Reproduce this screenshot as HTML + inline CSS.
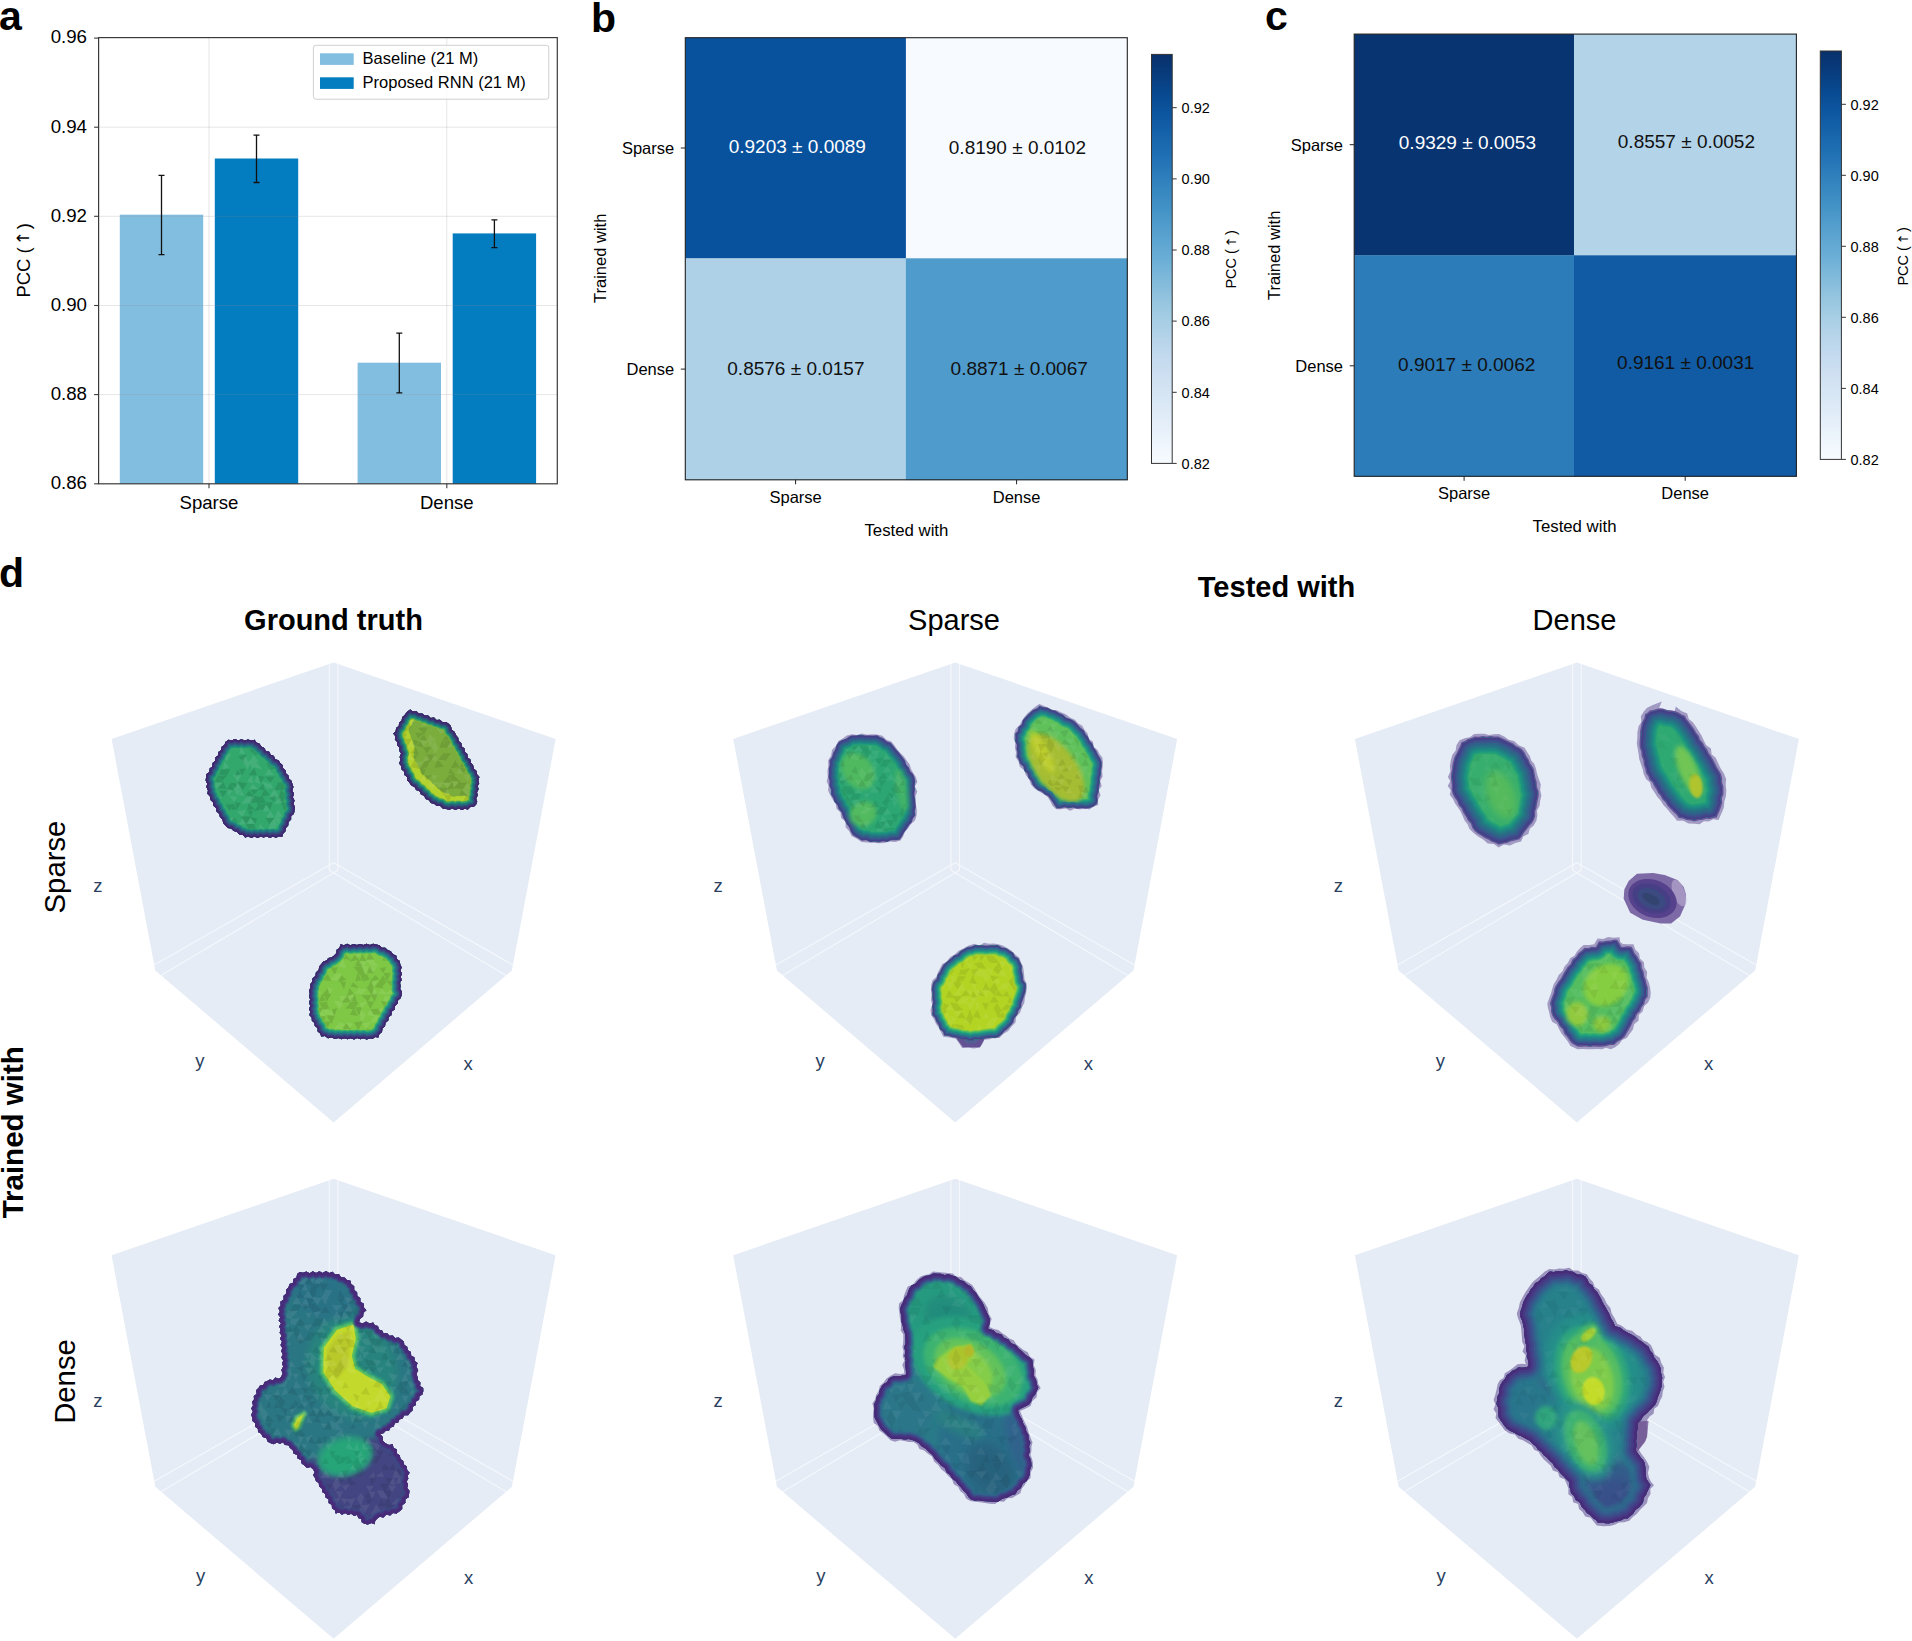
<!DOCTYPE html>
<html><head><meta charset="utf-8"><title>Figure</title>
<style>
html,body{margin:0;padding:0;background:#fff;}
svg{display:block;font-family:"Liberation Sans", sans-serif;}
</style></head><body>
<svg width="1912" height="1641" viewBox="0 0 1912 1641">
<text x="-1" y="29.5" font-size="41" text-anchor="start" font-weight="bold" fill="#000">a</text>
<text x="591" y="31.5" font-size="41" text-anchor="start" font-weight="bold" fill="#000">b</text>
<text x="1265" y="30" font-size="41" text-anchor="start" font-weight="bold" fill="#000">c</text>
<text x="-1" y="587" font-size="41" text-anchor="start" font-weight="bold" fill="#000">d</text>
<rect x="98.6" y="37.6" width="458.7" height="446.2" fill="#fff"/>
<rect x="119.8" y="214.7" width="83.4" height="269.1" fill="#82bedf"/>
<rect x="214.8" y="158.5" width="83.4" height="325.3" fill="#037cc0"/>
<rect x="357.6" y="362.7" width="83.4" height="121.1" fill="#82bedf"/>
<rect x="452.7" y="233.4" width="83.4" height="250.4" fill="#037cc0"/>
<line x1="98.6" x2="557.3" y1="394.6" y2="394.6" stroke="#8c8c8c" stroke-opacity="0.22" stroke-width="1"/>
<line x1="98.6" x2="557.3" y1="305.5" y2="305.5" stroke="#8c8c8c" stroke-opacity="0.22" stroke-width="1"/>
<line x1="98.6" x2="557.3" y1="216.3" y2="216.3" stroke="#8c8c8c" stroke-opacity="0.22" stroke-width="1"/>
<line x1="98.6" x2="557.3" y1="127.2" y2="127.2" stroke="#8c8c8c" stroke-opacity="0.22" stroke-width="1"/>
<line x1="209" x2="209" y1="37.6" y2="483.8" stroke="#8c8c8c" stroke-opacity="0.22" stroke-width="1"/>
<line x1="446.8" x2="446.8" y1="37.6" y2="483.8" stroke="#8c8c8c" stroke-opacity="0.22" stroke-width="1"/>
<path d="M161.5 175.3V254.7M158.5 175.3h6M158.5 254.7h6" stroke="#111" stroke-width="1.3" fill="none"/>
<path d="M256.5 135.2V182.5M253.5 135.2h6M253.5 182.5h6" stroke="#111" stroke-width="1.3" fill="none"/>
<path d="M399.3 333.1V392.9M396.3 333.1h6M396.3 392.9h6" stroke="#111" stroke-width="1.3" fill="none"/>
<path d="M494.4 219.9V247.6M491.4 219.9h6M491.4 247.6h6" stroke="#111" stroke-width="1.3" fill="none"/>
<rect x="98.6" y="37.6" width="458.7" height="446.2" fill="none" stroke="#3a3a3a" stroke-width="1.2"/>
<line x1="94.1" x2="98.6" y1="483.8" y2="483.8" stroke="#3a3a3a" stroke-width="1.1"/>
<text x="87" y="489.1" font-size="18.7" text-anchor="end" font-weight="normal" fill="#000">0.86</text>
<line x1="94.1" x2="98.6" y1="394.6" y2="394.6" stroke="#3a3a3a" stroke-width="1.1"/>
<text x="87" y="399.9" font-size="18.7" text-anchor="end" font-weight="normal" fill="#000">0.88</text>
<line x1="94.1" x2="98.6" y1="305.5" y2="305.5" stroke="#3a3a3a" stroke-width="1.1"/>
<text x="87" y="310.8" font-size="18.7" text-anchor="end" font-weight="normal" fill="#000">0.90</text>
<line x1="94.1" x2="98.6" y1="216.3" y2="216.3" stroke="#3a3a3a" stroke-width="1.1"/>
<text x="87" y="221.6" font-size="18.7" text-anchor="end" font-weight="normal" fill="#000">0.92</text>
<line x1="94.1" x2="98.6" y1="127.2" y2="127.2" stroke="#3a3a3a" stroke-width="1.1"/>
<text x="87" y="132.5" font-size="18.7" text-anchor="end" font-weight="normal" fill="#000">0.94</text>
<line x1="94.1" x2="98.6" y1="38.1" y2="38.1" stroke="#3a3a3a" stroke-width="1.1"/>
<text x="87" y="43.4" font-size="18.7" text-anchor="end" font-weight="normal" fill="#000">0.96</text>
<line x1="209" x2="209" y1="483.8" y2="488.3" stroke="#3a3a3a" stroke-width="1.1"/>
<text x="209" y="508.5" font-size="18.6" text-anchor="middle" font-weight="normal" fill="#000">Sparse</text>
<line x1="446.8" x2="446.8" y1="483.8" y2="488.3" stroke="#3a3a3a" stroke-width="1.1"/>
<text x="446.8" y="508.5" font-size="18.6" text-anchor="middle" font-weight="normal" fill="#000">Dense</text>
<text x="29.8" y="260.3" font-size="18.5" text-anchor="middle" font-weight="normal" fill="#000" transform="rotate(-90 29.8 260.3)">PCC (<tspan font-family="DejaVu Sans, sans-serif" font-size="17" dx="1.9" dy="-0.4">↑</tspan><tspan dx="1.9" dy="0.4">)</tspan></text>
<rect x="313.4" y="45.3" width="235.4" height="53.9" rx="2.5" fill="#fff" fill-opacity="0.8" stroke="#d0d0d0" stroke-width="1"/>
<rect x="320" y="53.3" width="33.7" height="11.6" fill="#82bedf"/>
<rect x="320" y="77.3" width="33.7" height="11.6" fill="#037cc0"/>
<text x="362.6" y="64.2" font-size="16.5" text-anchor="start" font-weight="normal" fill="#000">Baseline (21 M)</text>
<text x="362.6" y="88.2" font-size="16.5" text-anchor="start" font-weight="normal" fill="#000">Proposed RNN (21 M)</text>
<defs><linearGradient id="cb" x1="0" y1="1" x2="0" y2="0">
<stop offset="0%" stop-color="#f7fbff"/>
<stop offset="5%" stop-color="#eef5fc"/>
<stop offset="10%" stop-color="#e3eef9"/>
<stop offset="15%" stop-color="#d9e8f5"/>
<stop offset="20%" stop-color="#d0e1f2"/>
<stop offset="25%" stop-color="#c6dbef"/>
<stop offset="30%" stop-color="#b7d4ea"/>
<stop offset="35%" stop-color="#a6cee4"/>
<stop offset="40%" stop-color="#94c4df"/>
<stop offset="45%" stop-color="#7fb9da"/>
<stop offset="50%" stop-color="#6aaed6"/>
<stop offset="55%" stop-color="#5ba3d0"/>
<stop offset="60%" stop-color="#4a98c9"/>
<stop offset="65%" stop-color="#3b8bc2"/>
<stop offset="70%" stop-color="#2e7ebc"/>
<stop offset="75%" stop-color="#2070b4"/>
<stop offset="80%" stop-color="#1764ab"/>
<stop offset="85%" stop-color="#0d57a1"/>
<stop offset="90%" stop-color="#084a91"/>
<stop offset="95%" stop-color="#083c7d"/>
<stop offset="100%" stop-color="#08306b"/>
</linearGradient></defs>
<rect x="685.3" y="37.7" width="220.9" height="220.9" fill="#08519c"/>
<rect x="905.9" y="37.7" width="221.7" height="220.9" fill="#f7fbff"/>
<rect x="685.3" y="258.3" width="220.9" height="221.8" fill="#aed1e7"/>
<rect x="905.9" y="258.3" width="221.7" height="221.8" fill="#4f9bcb"/>
<rect x="685.3" y="37.7" width="442" height="442.1" fill="none" stroke="#222" stroke-width="1.1"/>
<text x="797.3" y="153.2" font-size="19" text-anchor="middle" font-weight="normal" fill="#fff">0.9203 ± 0.0089</text>
<text x="1017.4" y="153.6" font-size="19" text-anchor="middle" font-weight="normal" fill="#111">0.8190 ± 0.0102</text>
<text x="795.9" y="375.2" font-size="19" text-anchor="middle" font-weight="normal" fill="#111">0.8576 ± 0.0157</text>
<text x="1019.2" y="375.4" font-size="19" text-anchor="middle" font-weight="normal" fill="#111">0.8871 ± 0.0067</text>
<line x1="680.8" x2="685.3" y1="148" y2="148" stroke="#222" stroke-width="1"/>
<text x="674.2" y="153.8" font-size="16.5" text-anchor="end" font-weight="normal" fill="#000">Sparse</text>
<line x1="680.8" x2="685.3" y1="369.1" y2="369.1" stroke="#222" stroke-width="1"/>
<text x="674.2" y="374.9" font-size="16.5" text-anchor="end" font-weight="normal" fill="#000">Dense</text>
<line x1="795.6" x2="795.6" y1="479.8" y2="484.3" stroke="#222" stroke-width="1"/>
<text x="795.6" y="503.3" font-size="16.5" text-anchor="middle" font-weight="normal" fill="#000">Sparse</text>
<line x1="1016.6" x2="1016.6" y1="479.8" y2="484.3" stroke="#222" stroke-width="1"/>
<text x="1016.6" y="503.3" font-size="16.5" text-anchor="middle" font-weight="normal" fill="#000">Dense</text>
<text x="906.4" y="536" font-size="16.8" text-anchor="middle" font-weight="normal" fill="#000">Tested with</text>
<text x="605.8" y="258.3" font-size="16.5" text-anchor="middle" font-weight="normal" fill="#000" transform="rotate(-90 605.8 258.3)">Trained with</text>
<rect x="1151.5" y="54.4" width="20.7" height="409" fill="url(#cb)" stroke="#333" stroke-width="1"/>
<line x1="1172.2" x2="1176.7" y1="463.4" y2="463.4" stroke="#333" stroke-width="1"/>
<text x="1181.6" y="468.6" font-size="14.5" text-anchor="start" font-weight="normal" fill="#000">0.82</text>
<line x1="1172.2" x2="1176.7" y1="392.3" y2="392.3" stroke="#333" stroke-width="1"/>
<text x="1181.6" y="397.5" font-size="14.5" text-anchor="start" font-weight="normal" fill="#000">0.84</text>
<line x1="1172.2" x2="1176.7" y1="321.1" y2="321.1" stroke="#333" stroke-width="1"/>
<text x="1181.6" y="326.3" font-size="14.5" text-anchor="start" font-weight="normal" fill="#000">0.86</text>
<line x1="1172.2" x2="1176.7" y1="250" y2="250" stroke="#333" stroke-width="1"/>
<text x="1181.6" y="255.2" font-size="14.5" text-anchor="start" font-weight="normal" fill="#000">0.88</text>
<line x1="1172.2" x2="1176.7" y1="178.9" y2="178.9" stroke="#333" stroke-width="1"/>
<text x="1181.6" y="184.1" font-size="14.5" text-anchor="start" font-weight="normal" fill="#000">0.90</text>
<line x1="1172.2" x2="1176.7" y1="107.7" y2="107.7" stroke="#333" stroke-width="1"/>
<text x="1181.6" y="112.9" font-size="14.5" text-anchor="start" font-weight="normal" fill="#000">0.92</text>
<text x="1236.5" y="259.3" font-size="14.5" text-anchor="middle" font-weight="normal" fill="#000" transform="rotate(-90 1236.5 259.3)">PCC (<tspan font-family="DejaVu Sans, sans-serif" font-size="13.3" dx="1.5" dy="-0.3">↑</tspan><tspan dx="1.5" dy="0.3">)</tspan></text>
<rect x="1354.2" y="34.1" width="220.1" height="221.5" fill="#083471"/>
<rect x="1574" y="34.1" width="222.7" height="221.5" fill="#b3d3e8"/>
<rect x="1354.2" y="255.3" width="220.1" height="221.3" fill="#2c7cba"/>
<rect x="1574" y="255.3" width="222.7" height="221.3" fill="#105ba4"/>
<rect x="1354.2" y="34.1" width="442.2" height="442.2" fill="none" stroke="#222" stroke-width="1.1"/>
<text x="1467.4" y="149.2" font-size="19" text-anchor="middle" font-weight="normal" fill="#fff">0.9329 ± 0.0053</text>
<text x="1686.4" y="148.2" font-size="19" text-anchor="middle" font-weight="normal" fill="#111">0.8557 ± 0.0052</text>
<text x="1466.7" y="371" font-size="19" text-anchor="middle" font-weight="normal" fill="#111">0.9017 ± 0.0062</text>
<text x="1685.7" y="369.3" font-size="19" text-anchor="middle" font-weight="normal" fill="#111">0.9161 ± 0.0031</text>
<line x1="1349.7" x2="1354.2" y1="144.7" y2="144.7" stroke="#222" stroke-width="1"/>
<text x="1343" y="150.5" font-size="16.5" text-anchor="end" font-weight="normal" fill="#000">Sparse</text>
<line x1="1349.7" x2="1354.2" y1="365.8" y2="365.8" stroke="#222" stroke-width="1"/>
<text x="1343" y="371.6" font-size="16.5" text-anchor="end" font-weight="normal" fill="#000">Dense</text>
<line x1="1464.1" x2="1464.1" y1="476.3" y2="480.8" stroke="#222" stroke-width="1"/>
<text x="1464.1" y="499.3" font-size="16.5" text-anchor="middle" font-weight="normal" fill="#000">Sparse</text>
<line x1="1685.2" x2="1685.2" y1="476.3" y2="480.8" stroke="#222" stroke-width="1"/>
<text x="1685.2" y="499.3" font-size="16.5" text-anchor="middle" font-weight="normal" fill="#000">Dense</text>
<text x="1574.5" y="531.6" font-size="16.8" text-anchor="middle" font-weight="normal" fill="#000">Tested with</text>
<text x="1279.6" y="255.3" font-size="16.5" text-anchor="middle" font-weight="normal" fill="#000" transform="rotate(-90 1279.6 255.3)">Trained with</text>
<rect x="1820.3" y="51" width="21.1" height="408.4" fill="url(#cb)" stroke="#333" stroke-width="1"/>
<line x1="1841.4" x2="1845.9" y1="459.4" y2="459.4" stroke="#333" stroke-width="1"/>
<text x="1850.5" y="464.6" font-size="14.5" text-anchor="start" font-weight="normal" fill="#000">0.82</text>
<line x1="1841.4" x2="1845.9" y1="388.4" y2="388.4" stroke="#333" stroke-width="1"/>
<text x="1850.5" y="393.6" font-size="14.5" text-anchor="start" font-weight="normal" fill="#000">0.84</text>
<line x1="1841.4" x2="1845.9" y1="317.3" y2="317.3" stroke="#333" stroke-width="1"/>
<text x="1850.5" y="322.5" font-size="14.5" text-anchor="start" font-weight="normal" fill="#000">0.86</text>
<line x1="1841.4" x2="1845.9" y1="246.3" y2="246.3" stroke="#333" stroke-width="1"/>
<text x="1850.5" y="251.5" font-size="14.5" text-anchor="start" font-weight="normal" fill="#000">0.88</text>
<line x1="1841.4" x2="1845.9" y1="175.3" y2="175.3" stroke="#333" stroke-width="1"/>
<text x="1850.5" y="180.5" font-size="14.5" text-anchor="start" font-weight="normal" fill="#000">0.90</text>
<line x1="1841.4" x2="1845.9" y1="104.3" y2="104.3" stroke="#333" stroke-width="1"/>
<text x="1850.5" y="109.5" font-size="14.5" text-anchor="start" font-weight="normal" fill="#000">0.92</text>
<text x="1908.5" y="256.3" font-size="14.5" text-anchor="middle" font-weight="normal" fill="#000" transform="rotate(-90 1908.5 256.3)">PCC (<tspan font-family="DejaVu Sans, sans-serif" font-size="13.3" dx="1.5" dy="-0.3">↑</tspan><tspan dx="1.5" dy="0.3">)</tspan></text>
<text x="333.5" y="629.5" font-size="29" text-anchor="middle" font-weight="bold" fill="#000">Ground truth</text>
<text x="954" y="629.5" font-size="29" text-anchor="middle" font-weight="normal" fill="#000">Sparse</text>
<text x="1574.5" y="629.5" font-size="29" text-anchor="middle" font-weight="normal" fill="#000">Dense</text>
<text x="1276.5" y="596.5" font-size="29" text-anchor="middle" font-weight="bold" fill="#000">Tested with</text>
<text x="22.6" y="1132.3" font-size="29.5" text-anchor="middle" font-weight="bold" fill="#000" transform="rotate(-90 22.6 1132.3)">Trained with</text>
<text x="65" y="867" font-size="29.3" text-anchor="middle" font-weight="normal" fill="#000" transform="rotate(-90 65 867)">Sparse</text>
<text x="75.3" y="1381.5" font-size="29.3" text-anchor="middle" font-weight="normal" fill="#000" transform="rotate(-90 75.3 1381.5)">Dense</text>
<polygon points="333.6,662.4 555.6,739 511.9,970.5 333.6,1122.4 155.3,970.5 111.6,739" fill="#e5ecf6"/>
<path d="M329.3 663.9V870.3M333.6 862.7L154.2 964.9M337.9 870.3L161 975.4M337.9 663.9V870.3M333.6 862.7L513 964.9M329.3 870.3L506.2 975.4" stroke="#fff" stroke-opacity="0.6" stroke-width="1.2" fill="none"/>
<text x="97.8" y="892" font-size="18.5" text-anchor="middle" font-weight="normal" fill="#2a3f5f">z</text>
<text x="199.8" y="1067" font-size="18.5" text-anchor="middle" font-weight="normal" fill="#2a3f5f">y</text>
<text x="468" y="1069.6" font-size="18.5" text-anchor="middle" font-weight="normal" fill="#2a3f5f">x</text>
<polygon points="955.2,662.4 1177.2,739 1133.5,970.5 955.2,1122.4 776.9,970.5 733.2,739" fill="#e5ecf6"/>
<path d="M950.9 663.9V870.3M955.2 862.7L775.8 964.9M959.5 870.3L782.6 975.4M959.5 663.9V870.3M955.2 862.7L1134.6 964.9M950.9 870.3L1127.8 975.4" stroke="#fff" stroke-opacity="0.6" stroke-width="1.2" fill="none"/>
<text x="718.1" y="892" font-size="18.5" text-anchor="middle" font-weight="normal" fill="#2a3f5f">z</text>
<text x="820.1" y="1067" font-size="18.5" text-anchor="middle" font-weight="normal" fill="#2a3f5f">y</text>
<text x="1088.3" y="1069.6" font-size="18.5" text-anchor="middle" font-weight="normal" fill="#2a3f5f">x</text>
<polygon points="1576.9,662.4 1798.9,739 1755.2,970.5 1576.9,1122.4 1398.6,970.5 1354.9,739" fill="#e5ecf6"/>
<path d="M1572.6 663.9V870.3M1576.9 862.7L1397.5 964.9M1581.2 870.3L1404.3 975.4M1581.2 663.9V870.3M1576.9 862.7L1756.3 964.9M1572.6 870.3L1749.5 975.4" stroke="#fff" stroke-opacity="0.6" stroke-width="1.2" fill="none"/>
<text x="1338.3" y="892" font-size="18.5" text-anchor="middle" font-weight="normal" fill="#2a3f5f">z</text>
<text x="1440.3" y="1067" font-size="18.5" text-anchor="middle" font-weight="normal" fill="#2a3f5f">y</text>
<text x="1708.5" y="1069.6" font-size="18.5" text-anchor="middle" font-weight="normal" fill="#2a3f5f">x</text>
<polygon points="333.6,1178.7 555.6,1255.3 511.9,1486.8 333.6,1638.7 155.3,1486.8 111.6,1255.3" fill="#e5ecf6"/>
<path d="M329.3 1180.2V1386.6M333.6 1379L154.2 1481.2M337.9 1386.6L161 1491.7M337.9 1180.2V1386.6M333.6 1379L513 1481.2M329.3 1386.6L506.2 1491.7" stroke="#fff" stroke-opacity="0.6" stroke-width="1.2" fill="none"/>
<text x="97.8" y="1406.5" font-size="18.5" text-anchor="middle" font-weight="normal" fill="#2a3f5f">z</text>
<text x="200.5" y="1582.3" font-size="18.5" text-anchor="middle" font-weight="normal" fill="#2a3f5f">y</text>
<text x="468.5" y="1584" font-size="18.5" text-anchor="middle" font-weight="normal" fill="#2a3f5f">x</text>
<polygon points="955.2,1178.7 1177.2,1255.3 1133.5,1486.8 955.2,1638.7 776.9,1486.8 733.2,1255.3" fill="#e5ecf6"/>
<path d="M950.9 1180.2V1386.6M955.2 1379L775.8 1481.2M959.5 1386.6L782.6 1491.7M959.5 1180.2V1386.6M955.2 1379L1134.6 1481.2M950.9 1386.6L1127.8 1491.7" stroke="#fff" stroke-opacity="0.6" stroke-width="1.2" fill="none"/>
<text x="718.1" y="1406.5" font-size="18.5" text-anchor="middle" font-weight="normal" fill="#2a3f5f">z</text>
<text x="820.8" y="1582.3" font-size="18.5" text-anchor="middle" font-weight="normal" fill="#2a3f5f">y</text>
<text x="1088.8" y="1584" font-size="18.5" text-anchor="middle" font-weight="normal" fill="#2a3f5f">x</text>
<polygon points="1576.9,1178.7 1798.9,1255.3 1755.2,1486.8 1576.9,1638.7 1398.6,1486.8 1354.9,1255.3" fill="#e5ecf6"/>
<path d="M1572.6 1180.2V1386.6M1576.9 1379L1397.5 1481.2M1581.2 1386.6L1404.3 1491.7M1581.2 1180.2V1386.6M1576.9 1379L1756.3 1481.2M1572.6 1386.6L1749.5 1491.7" stroke="#fff" stroke-opacity="0.6" stroke-width="1.2" fill="none"/>
<text x="1338.3" y="1406.5" font-size="18.5" text-anchor="middle" font-weight="normal" fill="#2a3f5f">z</text>
<text x="1441" y="1582.3" font-size="18.5" text-anchor="middle" font-weight="normal" fill="#2a3f5f">y</text>
<text x="1709" y="1584" font-size="18.5" text-anchor="middle" font-weight="normal" fill="#2a3f5f">x</text>
<defs>
<filter id="b1" x="-30%" y="-30%" width="160%" height="160%"><feGaussianBlur stdDeviation="1.2"/></filter>
<filter id="b2" x="-30%" y="-30%" width="160%" height="160%"><feGaussianBlur stdDeviation="2.2"/></filter>
<filter id="b3" x="-30%" y="-30%" width="160%" height="160%"><feGaussianBlur stdDeviation="3.5"/></filter>
<filter id="b5" x="-30%" y="-30%" width="160%" height="160%"><feGaussianBlur stdDeviation="5.5"/></filter>
</defs>
<defs><path id="p1" d="M228.5 739.7L225.7 741.7L224.4 745L221.7 746.8L221.1 750L218.5 752.1L218.1 755.4L215.3 757.5L215.1 760.9L212.6 763.1L212.4 766.4L209.7 768.5L209.5 771.9L206.6 773.9L206.1 777.1L205.7 780.4L207.2 783.7L206.4 787.1L208 790.4L207.4 793.8L209.9 796.3L210.3 799.8L213 802.2L213.4 805.7L216.1 808L216.5 811.5L219.2 813.8L220 817.2L222.5 819.5L223.2 823L225.4 825.5L227.7 828L231.2 828.4L233.6 831L237 831.8L239.2 834.6L242.8 835L245.2 837.4L248.4 836.6L251.4 838.1L254.5 836.6L257.6 838L260.6 836.6L263.7 837.6L266.8 836.3L269.8 837.9L272.9 836.4L276 837.8L279 836.3L282.1 837.1L283 833.8L285.4 831.3L285.8 827.9L288.2 825.4L288.4 821.9L291.1 819.6L291.1 816L294 813.8L294.4 810.4L295 807.1L293.4 803.9L294.5 800.4L292.8 797.2L294 793.7L292.2 790.5L293.4 787L292.3 783.7L291.4 780.8L289 778.8L288.4 775.6L286 773.5L285.5 770.3L283 768.3L282.4 765.1L280.2 762.9L278.5 760.2L275.1 759.3L273.9 755.9L270.7 754.8L269.1 751.8L265.8 750.9L264.3 747.9L261.2 746.6L259.5 743.7L256.3 742.6L254.6 739.7L251.2 740.6L248 739.4L244.8 740.6L241.5 739.2L238.2 740.5L235 739.1L231.8 740.6Z"/><clipPath id="c1"><use href="#p1"/></clipPath></defs>
<use href="#p1" fill="#32a86d"/>
<g clip-path="url(#c1)" fill="none" stroke-linejoin="round"><use href="#p1" stroke="#1c8f7d" stroke-width="15"/><use href="#p1" stroke="#227781" stroke-width="12.5"/><use href="#p1" stroke="#2c5f81" stroke-width="10"/><use href="#p1" stroke="#36497e" stroke-width="7.5"/><use href="#p1" stroke="#3e3376" stroke-width="5"/><use href="#p1" stroke="#462371" stroke-width="2.5"/></g>
<path d="M242.5 748.6L251.2 749L250.8 748.5L250.8 748.5L250 748.5L249.2 748.3L248.5 748.1L248 747.9L247.6 748.1L246.9 748.3L246.1 748.5L245.4 748.6L244.6 748.6L243.9 748.5L243.1 748.4L242.5 748.3ZM249 749.2L252.8 753.4L254.8 751.4L254.6 751.2L254.2 750.5L254.1 750.2L253.7 750.1L253 749.8L252.3 749.4L251.6 749ZM253.3 754.5L258.8 754.8L258.6 754.4L258.4 754.1L258.1 754L257.4 753.7L256.8 753.3L256.2 752.8L255.6 752.3L255.1 751.8L255 751.7ZM242.9 762.6L246.8 754.6L238.4 756.1ZM266.3 762.7L268.9 768.3L270.7 765.9L270.3 765.7L269.7 765.2L269.2 764.6L268.7 764L268.3 763.4L267.9 762.7L267.8 762.5ZM269 769.6L275 769.1L275 769L274.4 768.4L273.9 767.8L273.4 767.1L273.4 767.1L273 767L272.3 766.8L271.6 766.4L271.4 766.3ZM218.9 774.6L227.2 776L221.2 768.9ZM226.5 776.2L230.3 769.2L220.7 769.3ZM235 776.7L240.6 774.1L237.1 769.7ZM242.2 775.5L245.7 768.3L238.8 769ZM248.5 775.3L257.1 775.5L254.5 767.7ZM221.6 782.1L217.6 776.2L215 781.8L215.1 782.4L215.1 782.7ZM222.1 781.2L227 776L216.9 775.6ZM260.4 783.7L264.6 776.8L258.7 775.7ZM270.2 782.7L275.1 776.4L265.4 776.7ZM218 788.5L226.6 788.8L222.8 781.1ZM226.2 790.3L234.3 790L230.8 782.4ZM235 788.6L237.8 783.6L230.8 782.7ZM242.5 790.2L247.3 783.2L236.7 781.5ZM258.1 789.4L264.5 790.3L263.2 783.3ZM273.3 790.8L281.8 789.6L278.1 783.1ZM276.8 783L282.9 790.8L284.7 786.2L284.7 786.1L284.5 785.4L283.7 784.8L283.2 784.3L282.7 783.7L282.2 783L281.8 782.4L281.7 782.1ZM280.6 790.1L284.3 789.5L284.3 789.5L284.4 788.7L284.7 787.9L285 787L284.7 786.2L284.7 786.1L284.5 785.4L283.7 784.8L283.3 784.4ZM222.9 797.3L227.3 790.7L219.1 790.2ZM245.3 795.3L255.3 797.8L249.3 790.4ZM254.4 794.9L258.4 789L250.4 790ZM261 796.8L270.2 795.1L264.6 789.1ZM280.7 789.8L279.1 796.4L285 795.4L285.2 794.7L285.3 794.5L285.2 794.2ZM249.9 803.2L257.1 802.4L252.5 795.1ZM258.1 804.6L261.1 797.1L252.5 795.5ZM257 804.7L266.1 802.6L261.9 795.4ZM274.1 802L276.4 794.9L268.9 797.6ZM277.1 796.6L282.4 804L284.9 798.1L284.9 797.8L284.8 797L284.9 796.2L285 795.8ZM229.3 811L234 804L225.7 804.8ZM231.2 809.9L236.9 809.5L233.7 803.4ZM236.6 810L240.9 802.9L235.1 801.9ZM247 810.7L255.1 809.2L248.5 803.2ZM253.9 811.5L260.7 809.5L259 803.9ZM262.5 810.8L266.6 803.5L257.8 804.6ZM270.5 810L272.6 802L265.1 802.7ZM281 802.5L284.7 811.1L285.1 810.6L285.7 810.1L285.8 810L286.6 808.7L286.7 808.4L286.2 807.4L285.9 806.7L285.6 806L285.5 805.2L285.4 804.5L285.4 803.7L285.4 802.9L285.5 802.4ZM251.3 816.2L253.2 810.4L247.3 811.6ZM238.3 822.8L234 816.8L231.5 820.3L231.6 820.4L232.2 820.5L233 820.6L233.8 820.9L234.6 821.2L235.3 821.5L236 822L236.6 822.5L236.9 822.8ZM246.9 824.9L250.7 816.3L240.5 816.6ZM255.2 824.1L257.4 818.6L249.7 817.1ZM269 823.9L275.3 818L265.2 817.5ZM255.3 823.9L246.4 823.9L247.8 828.7L248 828.7L248.7 828.7L249.5 828.7L250.2 828.9ZM253.2 823.6L250.6 829L251 829.1L251.3 829.2L251.6 829.1L252.4 828.8L253.2 828.7L254 828.6L254.8 828.6L255.6 828.6L256.4 828.8L256.4 828.8Z" fill="#000" fill-opacity="0.10"/>
<path d="M239.2 753.7L245.2 753.7L241.8 748L241.7 748L241.4 747.9L241.2 748L240.6 748.2ZM226.8 761.8L231.1 754L228 754L227.8 754.5L227.3 755.1L226.7 755.7L226.1 756.3L226 756.3L226 756.3L225.9 757.1L225.7 757.9L225.4 758.7L225.2 759.2ZM240.8 761L249.1 763.1L245.7 756.1ZM249.8 761.5L258.7 761.4L253.3 755ZM222.6 769.6L229.2 767.2L224.6 761.6ZM247.4 769.7L251.2 762.1L242.7 761.1ZM252.4 768.9L258.2 760.9L249 760.5ZM253.1 767.3L262.5 769.5L257.1 762.9ZM264.6 775.6L274.2 775L268.8 768.9ZM237.7 782L241.2 775.2L232.5 774.3ZM247.2 781.8L253.4 783.2L251.4 775.6ZM254.5 782.1L261 783.9L256.9 774.6ZM216.4 788.8L223.2 783.2L215 782L215.1 782.4L215.2 783.2L215.2 783.9L215.1 784.7L215.1 785.2ZM234.1 789.8L241.8 789.4L237.4 781.6ZM249.4 789.2L258.3 789.4L252.8 783.9ZM266.8 788.6L269.7 783.9L261.1 781.3ZM266.9 789L273.2 788.1L270 782.2ZM228.5 796.7L232.6 790.1L227.1 788.9ZM237.1 795.4L241.7 790.4L233.2 788.1ZM238.4 795.2L244.8 795.8L241.5 790.8ZM269 797.6L279.3 797.5L274.5 788.3ZM222.1 796.5L219.1 797L219.4 797.4L219.8 798.1L220.2 798.8L220.5 799.5ZM233.8 802.1L237.5 797.1L229.4 795.7ZM241 803.7L249.8 803.2L247.3 796.7ZM250.5 803.5L254.9 796.1L246.3 797.1ZM274.1 804.3L282.7 802.8L279.3 796.4ZM262.8 811.7L269.4 810.9L266 804.7ZM242.7 816.9L246 809.7L236.7 811.6ZM265.8 818.6L274.6 817.3L270 810.6ZM278.2 809.7L274.4 818.5L282.4 816.6L282.4 816.6ZM235.3 817.6L230.3 818L230.3 818L230.6 819.3L231.4 820.2L231.6 820.4L232 820.5ZM246 824.3L242.7 818.2L238.8 824L239.4 824.2L240.2 824.5L240.9 824.8L240.9 824.8ZM245.9 823.9L255.3 823.4L250.5 818.1ZM269.8 825L277.4 824.7L273.8 818.2ZM277.8 823.3L280.8 817.9L272.8 818.3ZM283 815.7L282.4 816.6L282.7 816.3L283.1 816L283.1 815.9ZM276.9 825.1L278.4 824.9L278.4 824.8L278.7 824.1L279.1 823.4L279.6 822.8L280.1 822.2L280.4 821.9L280.4 821.5L280.5 820.7L280.6 819.9L280.9 819.1L281.1 818.6ZM260.4 823.9L258.2 829L258.7 828.8L259.4 828.7L260.1 828.6L260.9 828.6L261.6 828.6L262.3 828.8L263.1 829L263.3 829L263.6 828.9L264.1 828.7ZM270.1 824.9L267.9 828.4L268.2 828.4L269 828.6L269.7 828.8L270 829L270.1 828.9L270.8 828.7L271.6 828.5L272.4 828.4L272.4 828.4ZM277.2 824.2L269.4 824.8L271.9 828.5L272.4 828.4L273.1 828.4L273.9 828.5L274.7 828.6L275.1 828.7Z" fill="#fff" fill-opacity="0.09"/>
<defs><path id="p2" d="M410.2 709.5L406.9 712.1L404.5 715.3L402.1 717.3L401.7 720.6L399.1 722.7L398.8 726L396.1 728L395.7 731.3L393.2 733.4L395.3 736.1L394.9 739.5L397.2 741.9L397.2 745.2L399.4 747.6L399.4 750.9L401.1 753.5L399.7 756.8L400.3 760.4L399.1 763.6L401.3 766L401.6 769.4L404.1 771.6L404.5 774.9L407.1 777L407.3 780.4L409.5 782.8L411.3 785.5L414.6 786.9L416.1 790.1L419.5 791.3L421 794.4L424.2 795.8L425.6 799.1L429 800.3L430.9 803.1L434.2 803.7L436.8 806L440.3 806L442.8 808.6L446.2 809L449.2 809.8L452.3 808.5L455.4 810L458.6 808.4L461.7 809.9L464.8 808.7L467.9 809.4L470.4 807.1L473.8 806.7L476.1 804.4L477.2 801.6L476.1 798.4L477.7 795.5L477 792.3L478.6 789.3L477.7 786.1L479.2 783.2L478.3 780L479.4 777L477.1 774.4L476.5 770.9L473.7 768.6L473.1 765.2L470.9 762.8L470.4 759.5L467.6 757.5L467.3 754.1L464.9 751.8L464.5 748.5L461.7 746.4L461.3 743.1L458.6 741L458.2 737.7L456 735.3L454.7 732L451.7 729.8L450.9 726.1L448.4 723.6L445.8 721.9L442.4 722.1L439.9 719.7L436.5 719.9L434 717.5L430.6 717.9L428.1 715.5L424.7 715.6L422.1 713.5L418.8 713.4L416.3 711.1L412.8 711.4Z"/><clipPath id="c2"><use href="#p2"/></clipPath></defs>
<use href="#p2" fill="#8cbc30"/>
<g clip-path="url(#c2)" fill="none" stroke-linejoin="round"><use href="#p2" stroke="#3ca560" stroke-width="15"/><use href="#p2" stroke="#1a8876" stroke-width="12.5"/><use href="#p2" stroke="#226b7a" stroke-width="10"/><use href="#p2" stroke="#2e5079" stroke-width="7.5"/><use href="#p2" stroke="#393572" stroke-width="5"/><use href="#p2" stroke="#462371" stroke-width="2.5"/></g>
<path d="M403.6 732.4L403.5 732.9L403.3 733.7L403.1 734.4L403.1 734.4L403.1 734.6L403.2 735.4L403.3 736.1L403.2 736.7L403.6 737.2L404.1 737.9L404.4 738.6L404.7 739.4L405 740.2L405.1 741L405.2 741.9L405.2 742.1L405.3 742.3L405.9 743L406.3 743.7L406.7 744.4L407 745.2L407.2 746L407.3 746.8L407.4 747.6L407.4 748.5L407.8 749.1L408.2 749.8L408.5 750.5L408.8 751.2L409 752L409.1 752.8L409.1 753.5L409.1 754.3L408.9 755.1L408.8 755.8L408.5 756.6L408 757.8L408.2 759L408.3 759.8L408.3 760.5L408.3 761.2L408.2 761.9L408.2 761.9L408.4 762.4L408.7 763.1L409 763.8L409.2 764.5L409.3 765.3L409.3 765.4L409.4 765.5L410 766.1L410.5 766.8L411 767.5L411.4 768.2L411.7 769L411.9 769.8L412.1 770.6L412.1 770.8L412.3 770.9L412.8 771.5L413.4 772.1L413.8 772.7L414.2 773.4L414.6 774.2L414.8 774.9L415 775.7L415.1 776.5L415.1 777.1L415.4 777.4L416.1 778.3L416.6 779.1L417.6 779.5L418.4 779.8L419.1 780.3L419.8 780.8L420.4 781.4L420.9 782L421.4 782.7L421.8 783.4L421.9 783.6L422.1 783.7L422.9 784L423.5 784.4L424.2 784.8L424.8 785.3L425.3 785.8L425.8 786.4L426.3 787.1L426.7 787.7L426.9 788.3L427.4 788.5L428.1 788.8L428.7 789.2L429.3 789.7L429.9 790.2L430.4 790.7L430.8 791.3L431.2 791.9L431.5 792.6L431.6 792.7L431.7 792.7L432.4 793L433 793.4L433.7 793.8L434.3 794.2L434.8 794.8L435.3 795.3L435.7 795.9L436.4 796L437.3 796.3L438 796.7L438.7 797.1L439.4 797.6L439.9 798L440.6 798.1L441.3 798.1L442.1 798.2L442.9 798.5L443.6 798.7L444.3 799.1L444.9 799.5L445.6 800L446.1 800.5L446.6 801L447.1 801.1L448.1 801.3L448.6 801.4L449.2 801.1L449.9 800.9L450.7 800.7L451.4 800.5L452.2 800.5L453 800.5L453.7 800.6L454.5 800.8L455.2 801L455.3 801.1L455.5 801L456.2 800.7L456.9 800.5L457.7 800.4L458.5 800.4L459.2 800.4L460 800.5L460.7 800.7L461.5 800.9L462.1 801.2L462.6 801L463.4 800.8L464.1 800.7L464.9 800.7L465.5 800.8L466.1 800.3L466.7 800L467.4 799.7L468.1 799.4L468.2 799.4L468.1 799.3L468.1 798.4L468.1 797.6L468.3 796.8L468.5 796L468.7 795.2L469.1 794.5L469.3 794.2L469.2 794L469.1 793.2L469 792.4L469.1 791.6L469.2 790.8L469.4 790L469.6 789.3L470 788.5L470 788.5L470 788.4L469.8 787.6L469.7 786.8L469.7 786.1L469.7 785.3L469.8 784.5L470 783.8L470.3 783.1L470.6 782.4L470.6 782.3L470.6 782.3L470.4 781.5L470.3 780.6L470.3 779.8L470.4 778.9L470.4 778.8L470.2 778.4L469.8 777.8L469.5 777.1L469.3 776.4L469.2 775.7L469.1 775.2L468.6 774.8L468 774.2L467.5 773.6L467 773L466.6 772.3L466.3 771.6L466.1 770.8L465.9 770L465.7 768.9L465.1 768.2L464.5 767.6L464.1 767L463.7 766.3L463.4 765.5L463.2 764.8L463 764L463 764L462.4 763.5L461.8 763L461.4 762.4L460.9 761.8L460.5 761.2L460.2 760.5L460 759.8L459.8 759.1L459.7 758.4L459.6 757.9L459.4 757.6L458.8 757.1L458.3 756.4L457.9 755.8L457.6 755.1L457.3 754.3L457.1 753.6L457 752.9L456.9 752.9L456.3 752.4L455.8 751.8L455.3 751.2L454.8 750.5L454.5 749.8L454.2 749.1L453.9 748.3L453.8 747.5L453.8 747.4L453.7 747.3L453.1 746.8L452.6 746.3L452.1 745.7L451.7 745L451.3 744.3L451 743.6L450.8 742.8L450.7 742.1L450.6 741.2L450.1 740.7L449.6 740.1L449.2 739.5L448.8 738.9L448.5 738.2L448.1 737.1L447 736.2L446.3 735.7L445.7 735.1L445.2 734.5L444.8 733.8L444.4 733L444.1 732.2L443.9 731.4L443.6 730.1L443.5 730L442.7 730.1L441.9 730L441.1 729.9L440.3 729.8L439.6 729.5L438.8 729.2L438.2 728.8L437.5 728.4L437 727.9L436.3 727.9L435.6 727.9L434.8 727.7L434.1 727.5L433.4 727.3L432.7 727L432.1 726.6L431.5 726.1L431.2 725.8L430.6 725.9L429.9 725.8L429.1 725.7L428.4 725.6L427.7 725.3L427 725L426.3 724.6L425.7 724.2L425.1 723.7L425 723.6L424.8 723.6L424 723.6L423.3 723.5L422.5 723.3L421.7 723L421 722.7L420.3 722.3L419.7 721.8L419.2 721.4L418.5 721.4L417.7 721.3L417 721.2L416.2 720.9L415.5 720.7L414.8 720.3L414.1 719.9L413.6 719.4L413.5 719.4L412.7 719.4L411.9 719.4L411.4 719.3L410.9 720.1L410.3 720.7L409.7 721.3L409.6 721.4L409.6 721.7L409.4 722.4L409.2 723.2L409 723.9L408.6 724.6L408.2 725.2L407.7 725.8L407.2 726.4L406.7 726.8L406.7 726.8L406.6 727.6L406.4 728.3L406.2 729L405.9 729.7L405.5 730.4L405.1 731L404.6 731.6L404 732.1Z" fill="#7aad3c"/>
<path d="M403.5 732.9L403.3 733.7L403.1 734.4L403.1 734.4L403.1 734.6L403.2 735.4L403.3 736.1L403.2 736.7L403.6 737.2L404.1 737.9L404.4 738.6L404.7 739.4L405 740.2L405.1 741L405.2 741.9L405.2 742.1L405.3 742.3L405.9 743L406.3 743.7L406.7 744.4L407 745.2L407.2 746L407.3 746.8L407.4 747.6L407.4 748.5L407.8 749.1L408.2 749.8L408.5 750.5L408.8 751.2L409 752L409.1 752.8L409.1 753.5L409.1 754.3L408.9 755.1L408.8 755.8L408.5 756.6L408 757.8L408.2 759L408.3 759.8L408.3 760.5L408.3 761.2L408.2 761.9L408.2 761.9L408.4 762.4L408.7 763.1L409 763.8L409.2 764.5L409.3 765.3L409.3 765.4L409.4 765.5L410 766.1L410.5 766.8L411 767.5L411.4 768.2L411.7 769L411.9 769.8L412.1 770.6L412.1 770.8L412.3 770.9L412.8 771.5L413.4 772.1L413.8 772.7L414.2 773.4L414.6 774.2L414.8 774.9L415 775.7L415.1 776.5L415.1 777.1L415.4 777.4L416.1 778.3L416.6 779.1L417.6 779.5L418.4 779.8L419.1 780.3L419.8 780.8L420.4 781.4L420.9 782L421.4 782.7L421.8 783.4L421.9 783.6L422.1 783.7L422.9 784L423.5 784.4L424.2 784.8L424.8 785.3L425.3 785.8L425.8 786.4L426.3 787.1L426.7 787.7L426.9 788.3L427.4 788.5L428.1 788.8L428.7 789.2L429.3 789.7L429.9 790.2L430.4 790.7L430.8 791.3L431.2 791.9L431.5 792.6L431.6 792.7L431.7 792.7L432.4 793L433 793.4L433.7 793.8L434.3 794.2L434.8 794.8L435.3 795.3L435.7 795.9L436.4 796L437.3 796.3L438 796.7L438.7 797.1L439.4 797.6L439.9 798L440.6 798.1L441.3 798.1L442.1 798.2L442.9 798.5L443.6 798.7L444.3 799.1L444.9 799.5L445.6 800L446.1 800.5L446.6 801L447.1 801.1L448.1 801.3L448.6 801.4L449.2 801.1L449.9 800.9L450.7 800.7L451.4 800.5L452.2 800.5L453 800.5L453.7 800.6L454.5 800.8L455.2 801L455.3 801.1L455.5 801L456.2 800.7L456.9 800.5L457.7 800.4L458.5 800.4L459.2 800.4L460 800.5L460.7 800.7L461.5 800.9L462.1 801.2L462.6 801L463.4 800.8L464.1 800.7L464.9 800.7L465.5 800.8L466.1 800.3L466.7 800L467.4 799.7L468.1 799.4L468.2 799.4L468.1 799.3L468.1 798.4L468.1 797.6L468.3 796.8L468.3 796.5L468.1 796.5L467.6 796.7L467 796.4L466.2 796.2L465.5 796L464.7 795.9L464 795.9L463.2 795.9L462.4 796L461.7 796.2L461 796.5L460.8 796.6L460.7 796.5L460 796.3L459.2 796.1L458.5 796L457.7 796L456.9 796L456.2 796.2L455.4 796.4L454.7 796.6L454.1 796.9L453.6 796.8L452.6 796.6L452.1 796.5L451.6 796L451.1 795.5L450.4 795L449.8 794.6L449.1 794.2L448.4 794L447.6 793.7L446.8 793.6L446.1 793.6L445.4 793.5L444.9 793.1L444.2 792.6L443.5 792.2L442.8 791.8L441.9 791.5L441.2 791.4L440.8 790.8L440.3 790.3L439.8 789.7L439.2 789.3L438.5 788.9L437.9 788.5L437.2 788.2L437.1 788.2L437 788.1L436.7 787.4L436.3 786.8L435.9 786.2L435.4 785.7L434.8 785.2L434.2 784.7L433.6 784.3L432.9 784L432.4 783.8L432.2 783.2L431.8 782.6L431.3 781.9L430.8 781.3L430.3 780.8L429.7 780.3L429 779.9L428.4 779.5L427.6 779.2L427.4 779.1L427.3 778.9L426.9 778.2L426.4 777.5L425.9 776.9L425.3 776.3L424.6 775.8L423.9 775.3L423.1 775L422.1 774.6L421.6 773.8L420.9 772.9L420.6 772.6L420.6 772L420.5 771.2L420.3 770.4L420.1 769.7L419.7 768.9L419.3 768.2L418.9 767.6L418.3 767L417.8 766.4L417.6 766.3L417.6 766.1L417.4 765.3L417.2 764.5L416.9 763.7L416.5 763L416 762.3L415.5 761.6L414.9 761L414.8 760.9L414.8 760.8L414.7 760L414.5 759.3L414.2 758.6L413.9 757.9L413.7 757.4L413.7 757.4L413.8 756.7L413.8 756L413.8 755.3L413.7 754.5L413.5 753.3L414 752.1L414.3 751.3L414.4 750.6L414.6 749.8L414.6 749L414.6 748.3L414.5 747.5L414.3 746.7L414 746L413.7 745.3L413.3 744.6L412.9 744L412.9 743.1L412.8 742.3L412.7 741.5L412.5 740.7L412.2 739.9L411.8 739.2L411.4 738.5L410.8 737.8L410.7 737.6L410.7 737.4L410.6 736.5L410.5 735.7L410.2 734.9L409.9 734.1L409.6 733.4L409.1 732.7L408.7 732.2L408.8 731.6L408.7 730.9L408.6 730.1L408.6 729.9L408.6 729.9L408.8 729.2L409 728.4L409.1 727.9L409.5 727.6L410.1 727.1L410.6 726.5L411 725.9L411.4 725.2L411.7 724.5L411.9 723.8L412.1 723.1L412.2 722.3L412.2 722.3L412.7 721.9L413.2 721.3L413.7 720.7L414.1 720.1L414.2 719.9L414.1 719.9L413.6 719.4L413.5 719.4L412.7 719.4L411.9 719.4L411.4 719.3L410.9 720.1L410.3 720.7L409.7 721.3L409.6 721.4L409.6 721.7L409.4 722.4L409.2 723.2L409 723.9L408.6 724.6L408.2 725.2L407.7 725.8L407.2 726.4L406.7 726.8L406.7 726.8L406.6 727.6L406.4 728.3L406.2 729L405.9 729.7L405.5 730.4L405.1 731L404.6 731.6L404 732.1L403.6 732.4Z" fill="#b5d42c" fill-opacity="0.95"/>
<path d="M411.3 727.1L409.1 723.7L409 723.9L408.6 724.6L408.2 725.2L407.7 725.8L407.2 726.4L407.1 726.4ZM406.5 733.8L404.9 731.1L404.6 731.6L404 732.1L403.6 732.4L403.5 732.9L403.3 733.7L403.2 733.9ZM406.2 731.9L412.6 725.9L407 726.5L406.7 726.8L406.7 726.8L406.6 727.6L406.4 728.3L406.2 729L405.9 729.7L405.5 730.4L405.2 730.7ZM424.2 734.3L427.7 727.4L417.8 727.7ZM407.4 734.3L403.1 734.1L403.1 734.4L403.1 734.4L403.1 734.6L403.2 735.4L403.3 736.1L403.2 736.7L403.6 737.2L404.1 737.9L404.3 738.3ZM418 738.6L423.9 732.9L415.5 732.8ZM419.6 740.2L426.5 740.8L423.8 734.3ZM442.3 740.1L449.2 739.5L448.8 738.9L448.5 738.2L448.1 737.1L447 736.2L446.3 735.7L446.2 735.6ZM407.6 745.7L412.1 738.7L404.4 738.6L404.4 738.6L404.7 739.4L405 740.2L405 740.3ZM415.3 746.2L418.8 741.3L412.3 739.3ZM416.5 746.1L424.5 747.5L420.3 740.7ZM439.7 747.9L447.1 747.6L442.1 740ZM443.8 740.1L446.7 748.5L450.8 742.7L450.7 742.1L450.6 741.2L450.1 740.7L449.9 740.5ZM410.5 753.1L419.1 754.8L415.4 746.8ZM426.9 753.7L431.8 746.5L423.3 747.8ZM414.9 759.5L418 755.1L411.6 755.3ZM429.8 762L436.4 754L425.6 754.7ZM438.5 759.7L446.8 760.6L443.5 752.7ZM446.3 759.7L450.9 753L441.9 753.7ZM410.8 767L419.3 768.9L414.3 759.9ZM420.3 769L426 767.2L424.5 762.1ZM426.2 769.3L430.3 759.6L424.2 761.8ZM434.6 767.7L443.9 766.8L437.6 759.4ZM451 768.2L459.4 767.1L455.3 760.1ZM460 767.6L464.1 767L464.1 767L463.7 766.3L463.4 765.5L463.2 764.8L463 764L463 764L462.4 763.5L461.8 763L461.6 762.7ZM423 776L425.9 769.2L419.1 767.4ZM448.3 773.3L454.3 774L450.3 768.4ZM458.4 767.6L463.5 773.6L465.8 769.5L465.7 768.9L465.1 768.2L464.8 767.9ZM426.5 780.5L432.2 774.9L423.7 775.7ZM442.5 783L450.8 783.1L448.4 776ZM451.6 780.4L455.2 773.6L447.9 775.5ZM449.6 780.6L459.7 781.4L454 775ZM447.2 789.4L454.4 788.3L452.5 780.4ZM453.9 787.9L463.7 789.3L459.5 780.2ZM462 788.9L467.4 782.4L459 782.7ZM444.3 795.7L448.3 788.1L437.8 787.6ZM459.3 794.9L466.9 794.9L461.8 789.8ZM452 794.5L443.9 794.3L447.4 801.1L448.1 801.3L448.6 801.4L449.2 801.1L449.4 801ZM466.4 794.7L463.3 800.9L463.4 800.8L464.1 800.7L464.9 800.7L465.5 800.8L466.1 800.3L466.7 800L467.4 799.7L468.1 799.4L468.2 799.4L468.1 799.3L468.1 798.4L468.1 797.6L468.2 797Z" fill="#000" fill-opacity="0.09"/>
<path d="M411.9 725.6L414.9 720.7L411.2 719.6L410.9 720.1L410.3 720.7L409.7 721.3ZM420.2 726.7L427.6 725.7L427.2 725.1L427 725L426.3 724.6L425.7 724.2L425.1 723.7L425 723.6L424.8 723.6L424 723.6L423.3 723.5L422.5 723.3L422.4 723.2ZM440.2 733.3L441.9 730L441.9 730L441.1 729.9L440.3 729.8L439.6 729.5L438.8 729.2L438.2 728.8L437.5 728.4L437 727.9L436.6 727.9ZM439.8 733.9L444.1 732.3L444.1 732.2L443.9 731.4L443.6 730.1L443.5 730L442.7 730.1L441.9 730L441.1 729.9L440.7 729.8ZM427.6 739.6L436.4 741L429.8 734ZM407.9 748.3L416.2 746.7L411.1 739.9ZM423.4 747.2L428.2 740.5L419 740.1ZM430.4 748.2L433.7 739.3L427 739.6ZM430.7 747.5L437.9 746.8L434.6 740.6ZM450.3 741.4L446.6 748.1L452.9 746.7L452.6 746.3L452.1 745.7L451.7 745L451.3 744.3L451 743.6L450.8 742.8L450.7 742.1L450.6 741.8ZM435.9 754L438.6 746.5L431.6 747.3ZM413.6 760L409.6 753.6L408.8 755.5L408.8 755.8L408.5 756.6L408 757.8L408.2 759L408.3 759.8L408.3 760.3ZM422.1 761.4L429.9 760.2L427.3 754.4ZM431.4 760.4L438.3 760.9L433.9 752.7ZM418.6 768L423.2 762.1L415.9 761.3ZM456.4 773.8L463.9 773.7L459.6 767.6ZM426.8 781L424.4 774.5L419.8 780.8L420.4 781.4L420.4 781.4ZM433.6 780.5L438.5 775.3L431.5 775.3ZM463.1 774.7L468.1 781.6L469.5 776.9L469.3 776.4L469.2 775.7L469.1 775.2L468.6 774.8L468.6 774.7ZM432.5 789.9L436.5 782L427.7 782.7ZM439.5 788.7L443.6 782.2L435.3 782.3ZM447.5 787.7L452.2 782.4L441.6 782ZM453.7 788.3L459.3 782.1L451.5 781ZM467.4 782.3L464 789.6L469.8 789L470 788.5L470 788.5L470 788.4L469.8 787.6L469.7 786.8L469.7 786.1ZM442.8 794.8L451 795L446.8 788.2ZM461.8 789L467.4 796.4L469.2 793.5L469.1 793.2L469 792.4L469.1 791.6L469.2 790.8L469.4 790L469.5 789.8ZM466.8 794.1L468.2 797.2L468.3 796.8L468.5 796L468.7 795.2L469.1 794.5Z" fill="#fff" fill-opacity="0.08"/>
<defs><path id="p3" d="M340.6 944.3L339.5 947.7L336.7 949.8L336.3 953.3L333.9 955.7L331.4 957.5L328.3 958L326.5 960.6L323.3 961.5L321.4 963.9L319.2 966.5L318.7 970.1L315.9 972.4L315.5 976L312.6 978.3L312.2 981.9L309.9 984.4L310.6 987.5L309 990.4L309.8 993.4L309 996.5L310.2 999.6L308.9 1002.7L310.3 1005.8L309 1008.9L310.3 1012L309.3 1015.1L311.7 1017.4L311.9 1020.7L314.4 1022.8L314.8 1026L317.6 1028L317.7 1031.4L320.3 1033.4L321.2 1036.4L324.9 1036.1L328 1038.3L331.7 1037.6L335 1039L338.2 1038.1L341.3 1039.3L344.5 1038.2L347.7 1039.3L350.8 1038.2L354 1039.4L357.1 1038.1L360.3 1039.3L363.5 1038.2L366.6 1039.5L369.8 1038.6L372.7 1038.8L375.3 1037.1L378.3 1037.4L379.4 1034.1L382 1031.9L382.4 1028.4L385 1026.2L385.5 1022.7L388.3 1020.6L388.6 1017.1L391.6 1015.1L391.7 1011.4L394.6 1009.4L395.1 1005.9L397.6 1003.6L398.1 1000.2L400.8 998L401.6 994.8L402 991.8L400.1 989L400.6 985.9L400 982.8L401.7 979.9L400.7 976.7L402 973.7L400.6 970.7L401.6 967.3L400.2 964.3L399.7 961.1L396.9 959L396.3 955.7L393 954.2L390.8 951.3L387.6 949.9L385.2 947.7L381.8 947.7L379.5 945.3L376.3 944.6L373.1 943.8L369.9 945L366.6 943.8L363.4 945.1L360.1 944L356.9 945.1L353.6 944L350.4 945.3L347.1 943.8L343.9 945.2Z"/><clipPath id="c3"><use href="#p3"/></clipPath></defs>
<use href="#p3" fill="#7ec845"/>
<g clip-path="url(#c3)" fill="none" stroke-linejoin="round"><use href="#p3" stroke="#35ae70" stroke-width="17"/><use href="#p3" stroke="#1d8f82" stroke-width="14.2"/><use href="#p3" stroke="#277286" stroke-width="11.3"/><use href="#p3" stroke="#335584" stroke-width="8.5"/><use href="#p3" stroke="#3f397c" stroke-width="5.7"/><use href="#p3" stroke="#462371" stroke-width="2.8"/></g>
<path d="M350.7 959.7L345.7 954.2L345.7 954.2L345.2 954.7L345 955.3L344.8 956.1L344.5 956.9L344.2 957.7L343.7 958.4L343.4 958.9ZM349.3 961.4L359.1 959.7L355.5 954.6ZM359.8 960.5L366.6 961.3L362.4 954L362.3 954L362.1 954ZM366.3 959.8L374.4 959.4L370.1 954L369.3 954L369.1 954ZM382.4 960.8L386.8 960.7L386.5 960.4L385.9 959.7L385 958.6L383.8 958.1L383.5 957.9ZM354.9 965.8L362.8 966.3L358.6 958.7ZM334.8 975.2L337.7 967.5L332.6 967.2L332.1 967.6L331.4 968.1L331.1 968.3ZM358.5 972.7L362.4 965.7L353.2 966.9ZM357.9 974.2L365.3 975L361.9 965.8ZM367.4 973.2L374.4 973.3L369.5 966.2ZM383.5 973L386.4 966.9L379.5 968.5ZM331.5 980.9L327.7 973.9L324.2 977.8L324.2 978L324 978.8L323.7 979.6L323.3 980.3ZM337.7 981.4L346.6 980L341.8 975.5ZM355.3 981.5L361.4 980.2L357.7 972.6ZM362.6 981.6L367.3 974.4L359.6 972.8ZM363.3 981.7L369.6 979.6L366.8 974.6ZM369.9 981.2L379.1 979.6L375.6 974.9ZM379.5 981.7L386.9 980.4L382.8 975.3ZM387.4 981.3L390.6 972.8L383.4 973ZM343.9 989.3L346.2 982.3L339.5 980.6ZM350.4 986.5L359.2 988.1L353 982.2ZM367.3 988.3L373.9 986.7L371.1 979.8ZM374.8 987.2L383.6 988.5L379.8 980.2ZM381.9 986.8L387.2 981.4L379.6 980.6ZM386.6 981.5L391.4 986.4L391.5 986.1L391.1 984.5L391 983.6L391 982.7L391 981.7L391.2 980.8L391.3 980.5ZM321.2 996.1L329.1 995.1L327.7 988.5ZM347.4 996.2L353.9 993.5L349.2 987.7ZM371.9 995.9L373.7 986.7L366.2 986.7ZM325.8 1000.4L321.9 994.2L319.1 1001.2L319 1001.5L318.9 1002ZM326.7 1001.6L331.5 993.9L323.5 993.9ZM341.1 1003L350.2 1001.9L347.6 994.7ZM350 1000.8L357.1 1002.5L355 994.1ZM367.8 1001.6L371.8 995.2L361.2 995ZM374.7 1002.2L377.8 993.4L370.7 994.3ZM322.9 1009.7L327.7 1001.7L319.1 1002.8ZM323 1009.8L329.3 1008.5L326.3 1002.1ZM345.2 1008.4L355.3 1009.3L350.3 1003.1ZM354.2 1008.7L358.8 1002.3L349 1001.4ZM370.5 1008.7L374 1001.7L366.4 1001.1ZM381 1000.8L384 1006.9L384.1 1006.7L384.6 1006L385.2 1005.3L385.8 1004.7L386.2 1004.3L386.3 1003.9L386.6 1003L386.9 1002.2L387 1001.9ZM322.9 1008L319.1 1007.7L318.9 1008.5L318.7 1008.9L318.9 1009.3L319.1 1010.2L319.2 1011.2L319.3 1012.1L319.2 1012.5L319.4 1012.8L319.8 1013.5ZM334.3 1016.5L337.2 1008.1L331.7 1009.7ZM349.9 1014.8L357.8 1016L353.6 1007.3ZM359.1 1015.7L362 1007.2L354.8 1007.3ZM374.4 1015.6L379.8 1008.4L369.7 1009.2ZM377.7 1008.5L375.7 1014.5L380 1014.5L380.3 1013.7L380.6 1012.9L380.8 1012.7ZM325.7 1016.6L320.5 1015.6L320.6 1015.9L320.6 1016.3L320.8 1016.5L321.4 1017.1L321.9 1017.8L322.3 1018.5L322.7 1019.3L323 1020.1L323.2 1020.9L323.2 1021L323.3 1021.1L323.9 1021.5ZM331.6 1023.9L334.8 1015.6L326.5 1015.6ZM330.9 1021.2L323.7 1021.4L324 1021.6L324.5 1022.3L325 1022.9L325.5 1023.7L325.8 1024.4L326.1 1025.2L326.3 1026L326.5 1026.8L326.5 1026.9L326.9 1027.4L327.7 1027.6L327.7 1027.6ZM346.4 1023.5L342.8 1028.8L349.1 1029.4L349.5 1029.3L350.4 1029.3L351 1029.3ZM363.1 1021.1L353.8 1022.4L358 1029.2L358.5 1029.2L359 1029.3ZM366.2 1028.6L366.8 1029.8L366.9 1029.9L367.2 1030L367.4 1029.9L368.1 1029.8L368.9 1029.7L369.7 1029.6L370.3 1029.6L370.3 1029.6L371.1 1029.1L371.2 1029.1Z" fill="#000" fill-opacity="0.10"/>
<path d="M357.1 958.8L360.8 953.7L360.6 953.6L360.1 953.5L359.7 953.6L358.9 953.8L358.1 954L357.3 954L356.4 954L355.6 954L354.8 953.8L354.8 953.8ZM338.4 967.1L346.3 967.7L342.9 959.4L342.6 959.7L342.1 960.2ZM362.6 968.2L367.1 961.2L358.3 961.2ZM371.9 967.1L374.6 959.4L365.3 959.7ZM371.8 966L379.4 966.5L373 960.2ZM365.2 974.7L369.4 966.2L361.7 965.7ZM373 973.2L377.1 966.7L369.1 967.6ZM329.8 979.5L337 981.3L335.3 974.7ZM337.4 981L341.9 973.3L333 973.5ZM373.3 987L378.1 980.7L370.5 982.3ZM321.3 993.7L319.3 989.7L319.1 990.4L318.8 991.1L318.6 991.6L318.6 992L318.7 992.9L318.7 993.8L318.7 994.2ZM330.1 994.1L333 989.3L327.4 986.7ZM354 993.5L362.9 993.9L359.7 987.4ZM361.8 995L367 989.1L357.5 987.8ZM371.9 995.1L378.2 995.5L374.4 987.7ZM378 993.9L387.7 994.4L382 988.9ZM385.6 993.7L391.7 993.9L392.3 993.4L392.2 993.4L391.9 992.6L391.6 991.8L391.3 991L391.2 990.2L391.1 989.3L391.1 989ZM341.7 1002L347.9 996.3L338.8 995.7ZM351.5 1003.1L354.6 994.4L347 996ZM385 995.1L383.3 1001.2L387.2 1001.7L387.3 1001.4L387.8 1000.6L388.4 999.9L388.5 999.8ZM386.7 995.8L388.9 999.4L389 999.3L389.2 999.1L389.2 998.9L389.4 998L389.7 997.1L390 996.3L390.3 995.9ZM339.8 1009.8L343.8 1001.8L333.7 1000.4ZM361.6 1008.4L367.7 1001.3L359.2 1003ZM326 1016.4L321.4 1009.9L319.8 1013.6L320.1 1014.3L320.4 1015.1L320.6 1015.9L320.6 1016.3L320.8 1016.5L320.9 1016.6ZM325.6 1015.1L329.7 1010.1L321.5 1009.1ZM325.6 1014.4L335.1 1016L331.2 1009.5ZM359.2 1016L366.3 1015.3L361.1 1009.6ZM367 1015L375 1016.4L370.5 1008.3ZM378.3 1008.5L380.4 1013.4L380.6 1012.9L381.1 1012.2L381.6 1011.5L382.2 1010.8L382.8 1010.3L382.8 1010.2L382.8 1010.2L383 1009.3L383.3 1008.4L383.3 1008.2ZM362.2 1023.1L365.1 1015L359.7 1016.7ZM373.3 1016.7L370 1023.6L376.2 1021.8L376.6 1021.5L376.7 1020.7L377 1019.8L377 1019.7ZM373.3 1014.3L376.4 1021.7L376.6 1021.5L376.7 1020.7L377 1019.8L377.3 1019L377.7 1018.2L378.2 1017.4L378.7 1016.8L379.1 1016.3ZM343.4 1028.9L339.2 1023.2L333.3 1028.7L333.6 1028.8L333.9 1028.8ZM341.9 1028.1L345.1 1023.9L337.1 1021.4ZM349 1028.5L353.4 1024L346.2 1022ZM365.7 1028.9L370.8 1022.3L362.4 1022.9ZM349.5 1028.8L342 1029.1L342.3 1029.5L342.4 1029.4L343.2 1029.3L344.1 1029.2L345 1029.2L345.9 1029.3L346.7 1029.5L347.6 1029.7L347.7 1029.8L347.9 1029.7L348.7 1029.5L349.3 1029.4Z" fill="#fff" fill-opacity="0.09"/>
<path d="M851.9 734.2L846.9 735.6L842.7 738.4L838.4 741L836.1 745.8L832 749.9L831.1 755.5L828.2 760.2L828.3 765.9L827.4 771.4L827.8 777L826.7 781.6L828.6 785.8L828.1 790.4L830.1 794.7L832.5 799.2L835.6 803.3L836.6 808.7L840.5 812.4L841.1 818L845.6 821.4L845.6 827.2L849.3 831.2L851.5 835.9L856.8 838.7L861.6 842L867.5 842.6L873.1 842.7L878.7 843.2L884.2 842.9L889.5 841.4L895 841.9L900.5 840.4L903.1 836.4L904.9 831.7L908.4 828.1L910.9 823.9L915 820.6L916.6 815.6L916.9 810.7L916.1 805.9L915.8 801.1L915.4 796.3L917.3 791.4L914.9 786.6L917.3 781.8L915.8 776.9L913.3 772.9L911 768.9L909.6 764.3L906.6 760.6L904.1 756.7L900.6 753.2L897.3 749.6L894.5 745.5L891.4 741.6L886.3 739.7L882.4 735.7L876.9 734.5L872 734.2L867 734.7L861.9 733.4L856.9 735.1Z" fill="#6a5799" fill-opacity="0.55"/>
<path d="M852.1 735.2L848.8 736.5L845.9 738.7L845.8 738.8L845.7 738.8L845.7 738.8L845.6 738.8L842 739.9L839 741.6L836.5 744.8L835.3 749L835.3 749L835.3 749.1L835.3 749.2L833.1 752.8L831.9 757L831.9 757.1L831.9 757.1L831.8 757.2L831.8 757.3L829.3 760.5L829.6 764.4L829.6 764.5L829.6 764.6L829.6 764.7L828.6 768.7L828.9 772.8L828.9 772.9L828.9 773L828.3 777L829.4 781.1L829.4 781.2L829.4 781.3L829.4 781.4L829.1 785.7L830.9 789.8L831 789.8L831 789.9L831 790L831 790.1L831 790.1L830.8 794.4L833 797.8L833 797.8L833 797.9L833.1 798L834.2 801.9L837.1 805L837.2 805L837.2 805.1L837.2 805.1L837.3 805.2L837.3 805.3L838.6 809.2L841.3 812.3L841.4 812.4L841.4 812.5L841.5 812.5L841.5 812.6L842.7 816.7L844.6 820.4L844.6 820.4L846.4 824.1L849.1 827.4L849.1 827.4L849.2 827.5L849.2 827.6L850.6 831.5L852.7 834.9L855.7 836.9L859 838.8L859 838.9L862 840.8L866.1 840.3L866.2 840.3L866.2 840.3L866.3 840.3L866.4 840.4L866.5 840.4L866.5 840.4L870.4 842.3L874.4 841.8L874.5 841.8L874.5 841.8L874.6 841.8L878.7 842.4L882.9 841.6L882.9 841.6L883 841.6L883.1 841.6L887.3 842L891.3 840.2L891.4 840.2L891.5 840.2L891.6 840.2L891.6 840.2L896 840.2L899.9 839.8L902 836.6L904 832.9L904.1 832.8L906.5 829.4L908.7 825.8L908.8 825.7L908.8 825.6L911.7 822.7L912.9 818.7L913 818.6L913 818.5L913 818.5L913.1 818.4L915.5 815.3L914.9 811.3L914.9 811.3L914.9 811.2L914.9 811.1L914.9 811L916 806.9L915.4 802.8L915.4 802.7L915.1 798.5L914.5 794.2L914.5 794.2L914.5 794.1L914.5 794L915 789.8L914.8 785.6L914.8 785.5L914.8 785.5L915.3 781.3L914.6 777.2L913.2 773.9L910.4 771.3L910.3 771.2L910.3 771.2L910.2 771.1L910.2 771L910.2 771L908.9 767.4L906.3 764.6L906.3 764.5L906.3 764.5L906.2 764.4L906.2 764.3L906.2 764.3L905.2 760.5L902.9 757.5L900.6 754.4L898.1 751.5L895.5 748.5L895.5 748.5L893.1 745.4L890.7 742.6L887.1 741.4L887 741.4L886.9 741.4L886.8 741.3L886.8 741.3L883.8 738.6L880.2 737.1L880.1 737L876.9 735.1L872.9 735.5L872.8 735.5L872.8 735.5L868.6 735.2L864.4 735.2L864.4 735.2L860.3 734.7L856.2 735.2L856.1 735.2Z" fill="#533f89" fill-opacity="0.80"/>
<defs><path id="p4" d="M852.2 736L849.2 737.2L846.3 739.4L846.2 739.4L846.1 739.5L846 739.6L845.8 739.6L842.4 740.6L839.5 742.2L837.2 745.2L836.1 749.2L836.1 749.3L836 749.4L835.9 749.6L833.9 753.1L832.7 757.2L832.7 757.4L832.6 757.5L832.5 757.6L832.4 757.8L830.1 760.8L830.4 764.4L830.4 764.6L830.4 764.7L830.4 764.9L829.4 768.8L829.7 772.7L829.7 772.9L829.7 773.1L829.1 776.9L830.2 780.9L830.2 781.1L830.2 781.3L830.2 781.5L829.9 785.6L831.7 789.4L831.7 789.6L831.8 789.7L831.8 789.9L831.8 790L831.8 790.2L831.6 794.2L833.6 797.3L833.7 797.5L833.8 797.6L833.8 797.8L834.9 801.5L837.7 804.4L837.8 804.5L837.9 804.6L837.9 804.8L838 804.9L838 805L839.3 808.8L841.9 811.8L842 811.9L842.1 812.1L842.2 812.2L842.3 812.4L843.5 816.4L845.3 820L845.3 820.1L847.1 823.7L849.7 826.9L849.8 827L849.9 827.2L849.9 827.3L851.3 831.2L853.3 834.4L856.1 836.2L859.4 838.1L859.4 838.2L862.2 840L866 839.5L866.1 839.5L866.3 839.5L866.4 839.6L866.6 839.6L866.7 839.6L866.9 839.7L870.5 841.5L874.3 841L874.4 841L874.6 841L874.7 841L878.7 841.5L882.7 840.8L882.9 840.8L883 840.8L883.2 840.8L887.2 841.2L891 839.5L891.2 839.4L891.3 839.4L891.5 839.4L891.6 839.4L896 839.4L899.5 839L901.3 836.2L903.3 832.5L903.4 832.4L905.8 828.9L908 825.4L908.1 825.2L908.2 825.1L911 822.3L912.2 818.4L912.2 818.3L912.3 818.1L912.4 818L912.4 817.9L914.6 815.1L914.1 811.5L914.1 811.3L914.1 811.2L914.1 811L914.2 810.8L915.1 806.8L914.6 802.9L914.6 802.8L914.3 798.6L913.7 794.3L913.7 794.2L913.7 794.1L913.7 793.9L914.2 789.8L914 785.7L914 785.5L914 785.4L914.5 781.3L913.8 777.5L912.5 774.4L909.8 771.9L909.7 771.8L909.6 771.6L909.5 771.5L909.5 771.4L909.4 771.2L908.2 767.8L905.8 765.1L905.7 765L905.6 764.9L905.5 764.7L905.4 764.6L905.4 764.5L904.4 760.9L902.3 758L900 755L897.5 752L894.9 749L894.9 749L892.5 745.9L890.3 743.3L886.8 742.2L886.7 742.1L886.5 742.1L886.4 742L886.2 741.9L883.3 739.3L879.9 737.8L879.7 737.7L876.7 736L873 736.3L872.8 736.3L872.7 736.3L868.6 736L864.4 736L864.3 736L860.3 735.5L856.2 736L856.1 736Z"/><clipPath id="c4"><use href="#p4"/></clipPath></defs>
<use href="#p4" fill="#2ca773"/>
<g clip-path="url(#c4)" fill="none" stroke-linejoin="round"><use href="#p4" stroke="#1f9a7c" stroke-width="18"/><use href="#p4" stroke="#1d8d81" stroke-width="15.8"/><use href="#p4" stroke="#217f84" stroke-width="13.5"/><use href="#p4" stroke="#267184" stroke-width="11.2"/><use href="#p4" stroke="#2d6788" stroke-width="9"/><use href="#p4" stroke="#355b8b" stroke-width="6.8"/><use href="#p4" stroke="#3e4d8b" stroke-width="4.5"/><use href="#p4" stroke="#473d88" stroke-width="2.2"/></g>
<path d="M870.3 762.4L868.3 759.9L866.1 757.8L863.7 755.9L861.2 754.4L858.6 753.3L855.9 752.7L853.4 752.5L850.9 752.8L848.6 753.5L846.5 754.6L844.7 756.2L843.3 758.1L842.2 760.3L841.5 762.8L841.2 765.5L841.3 768.3L841.8 771.2L842.8 774.1L844.1 776.9L845.7 779.6L847.7 782.1L849.9 784.2L852.3 786.1L854.8 787.6L857.4 788.7L860.1 789.3L862.6 789.5L865.1 789.2L867.4 788.5L869.5 787.4L871.3 785.8L872.7 783.9L873.8 781.7L874.5 779.2L874.8 776.5L874.7 773.7L874.2 770.8L873.2 767.9L871.9 765.1Z" fill="#5cbf58" fill-opacity="0.75" filter="url(#b2)"/>
<path d="M875.1 807L874 805.5L872.7 804.1L871.1 803L869.3 802.2L867.3 801.7L865.3 801.5L863.2 801.6L861 802L859 802.6L857 803.6L855.2 804.8L853.5 806.3L852.1 807.9L851 809.7L850.2 811.6L849.7 813.6L849.5 815.5L849.6 817.4L850.1 819.3L850.9 821L852 822.5L853.3 823.9L854.9 825L856.7 825.8L858.7 826.3L860.7 826.5L862.8 826.4L865 826L867 825.4L869 824.4L870.8 823.2L872.5 821.7L873.9 820.1L875 818.3L875.8 816.4L876.3 814.4L876.5 812.5L876.4 810.6L875.9 808.7Z" fill="#62c257" fill-opacity="0.70" filter="url(#b2)"/>
<path d="M907.9 789L907.2 785.6L906.4 782.3L905.5 779.2L904.5 776.4L903.5 773.9L902.4 771.9L901.3 770.2L900.2 769.1L899.2 768.4L898.2 768.3L897.3 768.8L896.5 769.7L895.9 771.2L895.4 773.1L895.1 775.4L895 778.1L895 781.1L895.2 784.3L895.6 787.6L896.1 791L896.8 794.4L897.6 797.7L898.5 800.8L899.5 803.6L900.5 806.1L901.6 808.1L902.7 809.8L903.8 810.9L904.8 811.6L905.8 811.7L906.7 811.2L907.5 810.3L908.1 808.8L908.6 806.9L908.9 804.6L909 801.9L909 798.9L908.8 795.7L908.4 792.4Z" fill="#55bd5c" fill-opacity="0.50" filter="url(#b2)"/>
<path d="M853.7 750.7L858.9 745.2L857.2 745.4L856.8 745.4L856.7 745.4L856.2 745.5L854.1 745.5L853.9 745.6L852.1 746.9L852 747ZM858.9 745.3L862.5 750.9L866.5 745.5L864.4 745.5L863.9 745.5L863.7 745.5L863.2 745.4L860.3 745.1ZM861.4 753.1L870.5 752.2L867.3 745.5L866.3 745.5ZM849.3 759.4L855.8 751.7L845.6 751.2ZM858.7 760.2L866.6 757.5L862 752.7ZM866.6 758.9L871.9 750.9L862.4 750.8ZM840.2 765.8L845.4 767.2L842.7 759.5ZM879.2 764.6L883.2 757.5L874.9 759.1ZM879.8 766.2L887.5 766.9L884.1 758ZM882.3 759.1L885.5 766.7L891.8 759.9L891.5 759.7ZM889.4 759.4L894.5 764.7L894.9 764L894.7 763.7L892.6 760.9L891.3 759.4ZM851.1 772.5L857.8 773.9L855.8 766.1ZM842 774.3L839.2 773.4L839.2 773.8L839.2 774L839.1 774.6L838.8 776.4L839.3 778.5ZM845.8 779.4L853.5 780.5L851.2 774.1ZM863.8 780.9L870.5 780.9L867.3 772.6ZM870.7 779.6L875.1 771.8L866.4 772.7ZM878.4 779.7L887 778.6L883.8 771.9ZM898.3 773.7L901.8 781.1L903.3 778.8L903 778.5L902.9 778.4L902.3 777.7L902.2 777.6L901.7 776.8L901.6 776.7L901.1 775.9L901 775.8L900.6 774.9L900.6 774.8L900.4 774.3L900.2 773.7ZM842.6 785.5L846.6 779.4L839.7 780.6L839.7 781.5L839.7 781.7L839.7 782.2L839.7 782.4ZM857.5 786L866.2 787.3L862.1 779.1ZM881.3 787.3L886.6 780.4L878.3 779.4ZM892.3 788.1L897.5 787L896 780.8ZM904.4 779.8L903.8 779.3L899.3 785.3L904.5 785.5L904.5 784.7L904.5 784.6L904.6 784.1L904.9 781.7ZM846.9 794.6L842.1 786.8L841.3 789.8L841.3 790L841.3 790.2L841.3 790.6L841.3 791.6L841.6 792.2L841.9 792.6L842 792.7L842.4 793.6L842.4 793.7L842.8 794.6L842.8 794.6ZM845.3 792.9L852.1 786.6L842.6 786ZM845.6 793.9L856 794.8L851 785.6ZM880 794.6L881.8 787.2L874.8 786.8ZM894 793.7L899.2 786L890.4 788ZM894.2 792.8L901.7 793.2L898.5 786.2ZM902.4 793L904.2 793.2L904.3 792.7L904.7 789.8ZM846.1 793.8L842.3 793.4L842.4 793.6L842.4 793.7L842.8 794.6L842.8 794.7L843 795.1L843.4 796.7L844.5 797.8ZM850.3 800.4L846.9 795L845.3 798.7L845.5 798.9L845.5 799L846 799.7L846.1 799.9L846.5 800.6L846.5 800.7L846.7 801.1ZM849.5 800.9L859.2 799.1L853.4 792.3ZM857.5 800.8L861.3 794.5L855.1 793.3ZM883.2 801.7L890 801.9L888.1 794.2ZM892 799.3L894.5 794.5L887.5 792.3ZM849.4 800.8L846.7 801.1L846.9 801.5L846.9 801.6L847.1 802L847.7 804L848.3 804.7ZM855.4 807.6L850.5 801.2L848.6 805L849.1 805.6L849.4 806L849.5 806.1L850.1 806.9L850.2 807.1L850.6 807.8ZM863.4 807.1L866.5 799.6L857.7 801.8ZM870.2 807.4L879.6 806.7L875.7 800.2ZM886.4 807L889.7 799.6L881.6 802ZM901.9 806.5L905.4 806.7L905.5 806.3L905.2 804.1L905.2 803.8L905.2 803.7L905.1 803.7ZM855.1 807.6L850.4 807.5L850.7 807.9L850.7 808.1L851.1 809L851.2 809.2L851.4 809.7L852.1 812ZM874.1 813.9L881.7 815.1L879.8 808.2ZM881.7 815.6L888.1 807.1L879.5 807ZM901.5 807.1L899.4 815.4L903.7 814.2L904.1 813.4L904.1 813.3L904.6 812.5L904.7 812.4L904.7 812.4L904.7 812.2L904.6 811.3L904.6 811.1L904.7 810.2L904.7 810.1ZM860.3 815.8L853.5 815.3L853.8 815.8L853.8 815.8L853.8 815.8L853.8 815.8L855.1 818.5L855.7 819.2ZM863.1 822.2L858.9 815L856 819.6L857 820.9L857.4 821.3L857.5 821.4L857.5 821.5ZM895.7 822.8L898.7 814.1L890.7 813.8ZM899.7 813.3L901.7 818.2L902.6 817.3L903.1 815.7L903.2 815.3L903.3 815.1L903.6 814.3L903.7 814.2L903.7 814.1ZM865.7 827.5L863.7 821.7L859.8 826.6L860 827.1L860.3 827.6L861.1 828.1L861.7 828.5ZM874.5 827.9L882.4 828.4L877.6 819.9ZM883.2 827.4L886.7 821.5L879.2 821.9ZM891 826.9L894.6 820.2L886.1 820ZM892.2 828.2L881.6 829.3L883.7 831.3L884 831.3L885.6 831.5L887.2 830.8L887.7 830.6L887.8 830.5L888.7 830.2L888.9 830.2L889.9 830L890 830L891 829.9L891.2 829.9L891.2 829.9ZM890.8 827.9L891.7 829.9L893.9 829.9L894.9 828Z" fill="#000" fill-opacity="0.07"/>
<path d="M847 752.7L849.5 748.4L849 748.6L848.9 748.6L848.4 748.7L846 749.4L845.9 749.5L845.9 749.5L845.8 749.8ZM853.6 750.9L862.4 751.5L859.6 745.3ZM869.7 752.3L872.7 745.8L872.6 745.8L872.4 745.8L872.1 745.8L868.2 745.5L867.9 745.5ZM849.9 758.5L858.9 760.2L853.5 752.6ZM868.2 760.1L876.1 759.1L869.4 753.2ZM876.1 759.4L879.5 750.6L870 750.6ZM883 760.1L889.4 759.8L886.5 753.7L886.2 753.3ZM871.9 764.5L879.1 765.4L874 759.9ZM842.7 772L839.6 767L839.6 767.2L839 769.6L839.2 771.9L839.2 772.2ZM858.6 772.7L865.8 773.5L861.7 767ZM866.3 774.2L875.6 773.1L871.9 764.6ZM874.8 773.2L877.5 764.8L872 766.8ZM882.3 772.9L891.2 771.8L887.2 765.9ZM846.8 780.6L843.7 772.7L839.6 780L839.7 780.3L839.7 780.5L839.7 781.2ZM862.1 780.4L866.5 772.5L858.3 772.9ZM870.3 779.9L878.7 780.5L875.3 771.8ZM886.7 780.7L895 780.2L890.5 773ZM894.3 780.8L903 781.1L898.7 772.3ZM858.3 786.7L861.9 780.2L855.1 779.6ZM865.5 786.4L874.4 788.2L869.5 778.5ZM893.6 781.2L899 786.4L903.8 779.2L903.5 778.9ZM903 779L904.6 783.7L904.9 781.6L904.6 780.2L904.5 779.9L903.7 779.1ZM853.8 793.4L862.6 793.1L858.1 788ZM869.5 792.8L880 792.5L874.1 785.6ZM866.3 799.1L870.3 792.9L863.4 793.6ZM890.7 799.7L897.7 801.4L893.8 794.4ZM901.7 793.4L904.4 796.3L904.3 795.7L904.3 795.3L904.2 795.1L904.2 794.3L904.2 794.1L904.2 793.3L904.2 793.2ZM856.2 807.2L858.5 799.7L851.4 799.4ZM855 807.6L862.6 807.1L858.8 800ZM894.7 808L898.2 799.3L891.5 799.1ZM860 813.7L867.1 813.8L864.2 808.8ZM865.9 813.4L872 808.8L864.3 806ZM883.1 815.8L891.7 814.2L887.5 807.9ZM880 822.8L886.8 819.9L882.2 815.6ZM867.6 828.7L869.8 820.5L862.6 822.4ZM883 826.8L889.7 826.8L885.7 820ZM884 828.6L876 828.8L877.9 831.9L878.4 831.9L881 831.5L881.4 831.4L881.6 831.4L882.4 831.3L882.6 831.3L882.6 831.3ZM883.1 827.2L880.9 831.5L881 831.5L881.4 831.4L881.6 831.4L882.4 831.3L882.6 831.3L883.5 831.3L883.6 831.3L884 831.3L885.2 831.4Z" fill="#fff" fill-opacity="0.06"/>
<path d="M1039.4 704.1L1035.6 706.5L1032.5 709.1L1028.1 712.7L1024.4 717L1021.8 721L1019.6 725.3L1015.8 728.8L1014.1 733.5L1013.7 738.3L1015.4 742.8L1014.9 747.6L1016 752.2L1015.6 757L1018.5 761.4L1019.8 766.8L1024.3 770.2L1025.9 775.3L1029.3 779.4L1031 784.5L1034.5 788.6L1038.9 791.3L1043.4 794L1047.6 797.1L1050.3 801.3L1052.4 805.8L1056.3 809.2L1060.9 809.2L1065.6 808.6L1070.4 810.8L1075.2 808.3L1080 809.6L1084.7 808L1089.5 809.4L1093.4 806.4L1098.2 805L1098 799.8L1100.6 795.3L1098.7 790.3L1101.7 785.9L1100.2 780.9L1102.6 776.4L1102.1 771.5L1102.7 766.8L1102.9 762L1102.3 757.5L1099.5 753.9L1097.5 750L1093.6 746.9L1093 741.7L1088.6 738.8L1087.8 733.7L1084.6 730.1L1082.3 725.7L1078 723.3L1074.9 719.7L1069.9 717.6L1065.8 714.2L1060.9 712.2L1056.1 709.9L1051.5 710L1047.7 707.6L1043.6 705.7Z" fill="#6a5799" fill-opacity="0.55"/>
<path d="M1039.5 705.5L1037 708.2L1036.9 708.2L1036.8 708.3L1036.7 708.3L1036.7 708.3L1032.9 709.8L1030.3 712.2L1027.5 714.7L1025 717.5L1025 717.5L1022.5 720.2L1021.7 724L1021.7 724.1L1021.6 724.2L1021.6 724.3L1021.6 724.3L1021.5 724.4L1021.4 724.5L1021.4 724.5L1018.3 726.8L1017.7 730.7L1017.7 730.8L1017.7 730.8L1017.6 730.9L1017.6 731L1017.6 731.1L1017.5 731.1L1015 733.8L1015.2 737.4L1015.2 737.4L1015.2 737.5L1014.8 741.2L1016.6 744.8L1016.6 744.8L1016.6 744.9L1016.7 745L1016.7 745.1L1016.7 745.1L1016.7 745.2L1016.3 749L1017.3 752.7L1017.3 752.8L1017.3 752.9L1017.3 753L1017.3 753.1L1016.7 756.7L1018.7 760L1018.7 760.1L1018.7 760.2L1019.9 763.9L1023.1 766.6L1023.1 766.6L1023.2 766.7L1023.2 766.8L1023.3 766.8L1023.3 766.9L1023.3 767L1023.4 767.1L1024.1 771L1027.1 773.7L1027.2 773.7L1027.2 773.8L1027.3 773.8L1027.3 773.9L1027.4 774L1027.4 774L1027.4 774.1L1028.2 778.1L1030.9 781L1031 781.1L1031 781.1L1031.1 781.2L1031.1 781.3L1032.5 785L1035.1 788L1037.9 790.4L1041.6 791.7L1041.6 791.7L1041.7 791.8L1041.8 791.8L1041.8 791.9L1044.7 794.6L1048.1 796.3L1048.2 796.4L1048.2 796.4L1048.3 796.5L1048.3 796.5L1048.4 796.6L1050.5 799.6L1052.7 802.6L1052.7 802.6L1054.7 805.7L1056.5 808.4L1060.2 808.6L1064.3 807.6L1064.3 807.6L1064.4 807.6L1064.5 807.6L1064.6 807.6L1068.6 808.3L1072.7 807.7L1072.8 807.7L1072.9 807.7L1072.9 807.8L1073 807.8L1077 808.9L1081 808.2L1081.1 808.2L1081.2 808.2L1081.2 808.2L1081.3 808.2L1085.3 808.9L1089.3 808.3L1093.6 806.8L1097.1 804L1098 800.3L1097.4 796.1L1097.4 796L1097.4 796L1097.4 795.9L1097.5 795.8L1097.5 795.7L1098.9 791.7L1099 787.5L1099 787.5L1099.1 787.4L1100 783.3L1100 779L1100 779L1100 778.9L1100 778.8L1101.1 774.7L1101.1 770.5L1101.1 770.4L1101.1 770.3L1102 766.2L1101.9 762.1L1100.5 758.4L1098.1 754.8L1098.1 754.7L1098 754.6L1096.4 750.7L1094.1 747.6L1094.1 747.5L1094 747.4L1094 747.4L1092.7 743.7L1090 741L1089.9 740.9L1089.9 740.8L1089.9 740.8L1089.8 740.7L1088.4 737.1L1085.9 734.2L1085.8 734.1L1085.8 734.1L1085.7 734L1084.1 730.6L1080.5 727.6L1080.5 727.5L1080.4 727.5L1077.3 724L1074 720.8L1070.5 718.9L1066.5 717.6L1066.4 717.6L1066.3 717.6L1066.3 717.5L1066.2 717.5L1066.2 717.4L1063.1 714.5L1059.4 713L1059.3 713L1059.3 712.9L1055.8 710.7L1051.7 709.6L1051.6 709.6L1051.5 709.6L1051.5 709.6L1047.7 707.5L1043.4 707L1043.3 707L1043.2 707L1043.1 707Z" fill="#533f89" fill-opacity="0.80"/>
<defs><path id="p5" d="M1039.7 706.5L1037.5 708.7L1037.4 708.8L1037.3 708.9L1037.1 709L1037 709.1L1033.4 710.5L1030.8 712.8L1028.1 715.3L1025.6 718L1025.6 718L1023.2 720.6L1022.5 724.2L1022.4 724.4L1022.4 724.5L1022.3 724.7L1022.2 724.8L1022.1 724.9L1022 725.1L1021.9 725.2L1019 727.3L1018.5 730.8L1018.5 731L1018.4 731.1L1018.4 731.3L1018.3 731.4L1018.2 731.5L1018.1 731.7L1015.8 734.1L1016 737.3L1016 737.4L1016 737.6L1015.6 741.1L1017.3 744.4L1017.4 744.6L1017.4 744.7L1017.4 744.8L1017.5 745L1017.5 745.1L1017.5 745.3L1017.1 749L1018 752.5L1018.1 752.7L1018.1 752.9L1018.1 753L1018.1 753.2L1017.5 756.6L1019.4 759.6L1019.4 759.8L1019.5 759.9L1020.6 763.5L1023.6 766L1023.7 766.1L1023.8 766.2L1023.9 766.3L1024 766.5L1024.1 766.6L1024.1 766.8L1024.1 766.9L1024.8 770.6L1027.7 773.1L1027.8 773.2L1027.9 773.3L1028 773.4L1028 773.5L1028.1 773.7L1028.1 773.8L1028.2 773.9L1029 777.7L1031.5 780.5L1031.6 780.6L1031.7 780.7L1031.8 780.8L1031.9 781L1033.2 784.6L1035.6 787.4L1038.3 789.7L1041.8 790.9L1042 791L1042.1 791.1L1042.3 791.2L1042.4 791.3L1045.1 793.9L1048.5 795.6L1048.6 795.7L1048.7 795.8L1048.8 795.9L1049 796L1049 796.1L1051.2 799.1L1053.3 802.1L1053.4 802.2L1055.4 805.3L1057 807.6L1060.1 807.8L1064.1 806.8L1064.2 806.8L1064.4 806.8L1064.6 806.8L1064.7 806.8L1068.7 807.5L1072.6 807L1072.7 806.9L1072.9 806.9L1073.1 807L1073.2 807L1077.1 808L1080.9 807.4L1081 807.4L1081.2 807.4L1081.3 807.4L1081.4 807.4L1085.3 808.1L1089.1 807.5L1093.2 806L1096.4 803.5L1097.2 800.3L1096.6 796.2L1096.6 796.1L1096.6 795.9L1096.7 795.8L1096.7 795.6L1096.7 795.5L1098.1 791.6L1098.2 787.5L1098.3 787.3L1098.3 787.2L1099.2 783.2L1099.2 779L1099.2 778.9L1099.2 778.7L1099.2 778.6L1100.3 774.6L1100.3 770.5L1100.3 770.4L1100.3 770.2L1101.2 766.2L1101.1 762.3L1099.8 758.7L1097.4 755.2L1097.4 755.1L1097.3 754.9L1095.7 751.1L1093.5 748.1L1093.4 747.9L1093.3 747.8L1093.2 747.6L1092 744.1L1089.4 741.5L1089.3 741.4L1089.2 741.3L1089.1 741.1L1089.1 741L1087.7 737.5L1085.3 734.7L1085.2 734.6L1085.1 734.5L1085 734.3L1083.4 731.1L1080 728.2L1079.9 728.1L1079.8 728L1076.7 724.5L1073.5 721.5L1070.2 719.6L1066.2 718.4L1066.1 718.3L1066 718.3L1065.8 718.2L1065.7 718.1L1065.6 718L1062.7 715.2L1059.1 713.7L1059 713.7L1058.8 713.6L1055.5 711.5L1051.5 710.4L1051.3 710.4L1051.2 710.3L1051.1 710.3L1047.4 708.3L1043.3 707.8L1043.1 707.8L1043 707.8L1042.8 707.7Z"/><clipPath id="c5"><use href="#p5"/></clipPath></defs>
<use href="#p5" fill="#5ec15a"/>
<g clip-path="url(#c5)" fill="none" stroke-linejoin="round"><use href="#p5" stroke="#3ab26e" stroke-width="18"/><use href="#p5" stroke="#23a27c" stroke-width="15.8"/><use href="#p5" stroke="#1d9183" stroke-width="13.5"/><use href="#p5" stroke="#228187" stroke-width="11.2"/><use href="#p5" stroke="#29738a" stroke-width="9"/><use href="#p5" stroke="#32638d" stroke-width="6.8"/><use href="#p5" stroke="#3d518d" stroke-width="4.5"/><use href="#p5" stroke="#473d88" stroke-width="2.2"/></g>
<defs><path id="p6" d="M1041 712.3L1040.9 712.4L1040.8 712.5L1040.4 712.9L1040.2 713L1039.8 713.3L1039.6 713.3L1039.2 713.6L1039 713.7L1038.7 713.8L1036 714.8L1034.2 716.5L1031.7 718.8L1029.3 721.4L1029.3 721.4L1029.3 721.4L1029.3 721.4L1027.8 723L1027.4 725.2L1027.3 725.5L1027.3 725.7L1027.1 726.1L1027 726.3L1026.8 726.8L1026.8 726.9L1026.5 727.4L1026.4 727.5L1026.1 727.9L1026 728.1L1025.7 728.5L1025.5 728.6L1025.2 728.9L1025 729L1024.8 729.2L1023.7 730L1023.4 731.5L1023.4 731.8L1023.4 731.9L1023.3 732.4L1023.2 732.6L1023 733L1023 733.2L1022.8 733.6L1022.7 733.8L1022.4 734.2L1022.3 734.3L1022 734.7L1021.9 734.9L1021.8 735.1L1021 735.9L1021 737L1021 737.2L1021 737.4L1021 737.8L1021 738L1021 738.2L1020.8 740.2L1021.8 742.2L1021.9 742.4L1021.9 742.5L1022.1 743L1022.1 743.1L1022.3 743.6L1022.3 743.7L1022.4 744.2L1022.4 744.3L1022.5 744.8L1022.5 744.9L1022.5 745.4L1022.5 745.5L1022.4 745.8L1022.2 748.6L1022.9 751.3L1022.9 751.5L1023 751.7L1023 752.2L1023.1 752.4L1023.1 752.9L1023.1 753L1023.1 753.5L1023 753.7L1023 754L1022.8 755.6L1023.6 757L1023.8 757.3L1023.9 757.4L1024.1 758L1024.2 758.1L1024.3 758.4L1025 760.6L1026.8 762.1L1027 762.3L1027.1 762.4L1027.5 762.8L1027.6 762.9L1027.9 763.3L1028 763.4L1028.2 763.8L1028.3 764L1028.5 764.4L1028.6 764.5L1028.8 765L1028.8 765.2L1029 765.6L1029 765.8L1029.1 766L1029.4 768L1030.9 769.3L1031.1 769.4L1031.2 769.5L1031.5 769.9L1031.6 770L1031.9 770.3L1032 770.5L1032.3 770.8L1032.3 771L1032.6 771.4L1032.6 771.5L1032.8 772L1032.8 772.1L1033 772.5L1033 772.7L1033.1 772.9L1033.6 775.3L1035.2 777.1L1035.4 777.2L1035.5 777.4L1035.8 777.8L1035.8 777.9L1036.1 778.3L1036.2 778.4L1036.4 778.9L1036.5 779L1036.5 779.3L1037.6 782L1039.2 783.9L1040.8 785.3L1043.5 786.2L1043.8 786.3L1043.9 786.4L1044.4 786.6L1044.5 786.7L1045 787L1045.1 787.1L1045.5 787.4L1045.6 787.5L1045.8 787.7L1048.1 789.8L1050.7 791.2L1051 791.3L1051.1 791.4L1051.5 791.6L1051.6 791.7L1052 792L1052.1 792.1L1052.5 792.4L1052.6 792.5L1052.9 792.9L1053 793L1053.1 793.2L1055.2 796.2L1057.4 799.2L1057.5 799.3L1057.6 799.4L1057.6 799.5L1059.5 802.5L1059.7 802.8L1062.8 802L1063.1 801.9L1063.3 801.9L1063.8 801.8L1064 801.8L1064.5 801.8L1064.7 801.8L1065.2 801.8L1065.4 801.8L1065.6 801.9L1068.8 802.4L1071.9 802L1072.1 802L1072.3 802L1072.8 801.9L1073 801.9L1073.5 802L1073.6 802L1074.1 802.1L1074.3 802.1L1074.5 802.2L1077.3 802.9L1080 802.5L1080.2 802.4L1080.4 802.4L1080.8 802.4L1081 802.4L1081.4 802.4L1081.5 802.4L1082 802.4L1082.1 802.4L1082.3 802.5L1085.4 803L1087.9 802.6L1090.8 801.6L1091.9 800.7L1092.1 800L1091.7 796.8L1091.7 796.6L1091.7 796.4L1091.6 796L1091.6 795.8L1091.7 795.4L1091.7 795.2L1091.7 794.8L1091.8 794.7L1091.9 794.2L1091.9 794.1L1092 793.9L1093.1 790.6L1093.2 787.3L1093.3 787.1L1093.3 786.9L1093.3 786.5L1093.4 786.3L1093.4 786.1L1094.2 782.6L1094.2 779L1094.2 778.8L1094.2 778.7L1094.2 778.2L1094.2 778L1094.3 777.6L1094.4 777.4L1094.4 777.2L1095.3 774L1095.3 770.6L1095.3 770.3L1095.3 770.1L1095.3 769.5L1095.4 769.3L1095.4 769.1L1096.2 765.7L1096.1 763.3L1095.3 761L1093.3 758L1093.1 757.8L1093.1 757.6L1092.8 757.2L1092.8 757.1L1092.7 756.9L1091.3 753.6L1089.4 751L1089.3 750.8L1089.2 750.7L1088.9 750.3L1088.9 750.1L1088.7 749.7L1088.6 749.5L1088.5 749.3L1087.7 746.9L1085.9 745L1085.7 744.8L1085.6 744.7L1085.3 744.3L1085.2 744.2L1084.9 743.8L1084.8 743.6L1084.6 743.2L1084.5 743L1084.4 742.8L1083.4 740.1L1081.5 738L1081.4 737.8L1081.3 737.7L1081 737.4L1080.9 737.2L1080.7 736.8L1080.6 736.7L1080.5 736.5L1079.4 734.2L1076.8 732L1076.7 731.9L1076.6 731.8L1076.3 731.6L1076.2 731.5L1076.1 731.4L1073.1 728L1070.5 725.5L1068.2 724.3L1064.7 723.2L1064.5 723.1L1064.4 723L1064 722.9L1063.8 722.8L1063.4 722.6L1063.3 722.5L1062.9 722.3L1062.8 722.2L1062.4 721.9L1062.3 721.8L1062.2 721.6L1059.9 719.5L1057.2 718.4L1057 718.3L1056.8 718.2L1056.4 718L1056.3 717.9L1056.1 717.8L1053.5 716.1L1050.2 715.3L1050 715.2L1049.9 715.2L1049.5 715L1049.3 715L1049 714.8L1048.9 714.7L1048.7 714.7L1045.9 713.1L1042.8 712.8L1042.5 712.8L1042.4 712.7L1041.9 712.7L1041.8 712.6L1041.3 712.5L1041.2 712.4L1041 712.4Z"/><clipPath id="c6"><use href="#p6"/></clipPath></defs>
<g clip-path="url(#c6)">
<path d="M1072.2 756.2L1068.3 751.3L1064.1 746.8L1059.7 742.8L1055.3 739.5L1050.8 736.8L1046.5 734.9L1042.4 733.8L1038.6 733.6L1035.3 734.2L1032.5 735.6L1030.2 737.9L1028.6 740.9L1027.7 744.5L1027.5 748.7L1027.9 753.4L1029.1 758.5L1030.9 763.8L1033.3 769.2L1036.3 774.5L1039.8 779.8L1043.7 784.7L1047.9 789.2L1052.3 793.2L1056.7 796.5L1061.2 799.2L1065.5 801.1L1069.6 802.2L1073.4 802.4L1076.7 801.8L1079.5 800.4L1081.8 798.1L1083.4 795.1L1084.3 791.5L1084.5 787.3L1084.1 782.6L1082.9 777.5L1081.1 772.2L1078.7 766.8L1075.7 761.5Z" fill="#a9bd2f" fill-opacity="0.95" filter="url(#b2)"/>
<path d="M1047.3 749.2L1045.5 745.9L1043.6 742.8L1041.6 739.9L1039.7 737.3L1037.8 735L1036 733.2L1034.4 731.8L1032.9 731L1031.7 730.6L1030.7 730.8L1030 731.5L1029.6 732.7L1029.6 734.4L1029.8 736.5L1030.3 739L1031.1 741.8L1032.2 744.9L1033.5 748.1L1035 751.5L1036.7 754.8L1038.5 758.1L1040.4 761.2L1042.4 764.1L1044.3 766.7L1046.2 769L1048 770.8L1049.6 772.2L1051.1 773L1052.3 773.4L1053.3 773.2L1054 772.5L1054.4 771.3L1054.4 769.6L1054.2 767.5L1053.7 765L1052.9 762.2L1051.8 759.1L1050.5 755.9L1049 752.5Z" fill="#c6d42b" fill-opacity="0.70" filter="url(#b2)"/>
</g>
<path d="M1045.1 718.6L1044.7 717.6L1044.5 717.5L1042.3 717.3L1041.9 717.2L1041.9 717.2L1041 717.7L1040.8 717.8L1040.8 717.8ZM1042.6 724.3L1038.3 718.8L1037.2 719.8L1034.9 722L1033.4 723.5ZM1028.9 731.7L1034.8 724.9L1032.5 724.6L1032 725.1L1031.8 726.2L1031.7 726.6L1031.6 726.8L1031.3 727.7L1031.2 727.9L1030.9 728.8L1030.8 729L1030.3 729.8L1030.2 730L1029.6 730.8L1029.5 730.9L1028.9 731.6ZM1046 730.9L1054 731.8L1050.7 725.5ZM1042.1 737.8L1045.7 730.4L1036.5 731.2ZM1040.8 739.1L1050.7 737.6L1046 731.8ZM1060.2 731.4L1064.1 737.7L1069 730.3L1068.5 729.8ZM1030.2 744L1025.5 738.5L1025.5 738.8L1025.4 739.4L1025.8 740.2L1026 740.6L1026 740.7L1026.4 741.5L1026.4 741.7L1026.6 742.5L1026.7 742.7L1026.8 743.5L1026.9 743.7L1026.9 744.3ZM1046.5 745.9L1054.4 744.6L1048.6 737ZM1061.1 744.4L1070.7 745L1064.5 738.7ZM1074 738L1077.9 746.3L1078.9 741.8L1078.1 741L1077.8 740.7L1077.8 740.5L1077.2 739.8L1077.2 739.7L1076.7 739L1076.6 738.8L1076.4 738.4L1076 737.5ZM1040.7 751.9L1045.9 744.1L1038 743.9ZM1050.8 752.9L1054.6 745.1L1044.7 744.7ZM1038.7 758L1044 758.1L1040.6 750.9ZM1046.5 758.3L1049.6 752.2L1041.9 753.1ZM1069.9 759.7L1076.8 758.4L1073.8 751.4ZM1080 753.1L1085.7 758L1087.4 755.8L1087.4 755.8L1085.8 753.7L1085.5 753.3L1085.5 753.2L1085.2 752.7ZM1084.1 758.7L1088.3 758.1L1087.4 755.8L1086.9 755.2ZM1040.3 766.1L1046.5 758.1L1037.6 758.3ZM1057.2 766.3L1065.7 764.4L1062.3 758.4ZM1081.5 766L1088.8 765.2L1085.3 758.8ZM1061.6 771.7L1069.6 771.2L1066.5 767.2ZM1056.8 779L1065.5 778.6L1061.4 773.6ZM1074.8 778.3L1081.3 779.2L1077 773.5ZM1053.8 786L1049.6 778.2L1047.7 783.4L1048.4 784L1048.6 784.1L1048.9 784.4L1050.5 785.9ZM1053 785.1L1062 785.2L1057.2 780.5ZM1069.4 785.4L1072.7 779.9L1064.6 778.6ZM1062.5 787.5L1053.8 787.3L1054.2 788L1054.2 788L1054.9 788.6L1055.1 788.7L1055.7 789.3L1055.8 789.4L1056.4 790.1L1056.5 790.3L1056.8 790.6L1057.5 791.6ZM1065.8 792.3L1069.5 787.2L1060.4 785.3ZM1080.5 793.7L1084 785.8L1077.8 785.3ZM1086.3 786.5L1080.1 792L1087.5 793.3L1087.6 792.9L1087.6 792.8L1087.7 792.4L1088.5 790.3ZM1080.2 792.2L1077.9 798.3L1079.2 798L1079.6 798L1079.8 797.9L1080.6 797.9L1080.8 797.9L1081.6 797.9L1081.8 797.9L1082.6 797.9L1082.7 798L1083.2 798L1084.3 798.2Z" fill="#000" fill-opacity="0.07"/>
<path d="M1034.4 725.6L1036.7 720.2L1034.9 722L1033.1 723.9ZM1040.7 725.1L1048.1 723.2L1046.1 718.6ZM1038.8 729.9L1033.3 723.7L1033.2 723.8L1031.4 727.4L1031.3 727.7L1031.2 727.9L1030.9 728.8L1030.8 729L1030.3 729.8L1030.2 729.9ZM1049.6 723.5L1052.1 732.1L1057.7 723.6L1057.6 723.5ZM1050.8 738.3L1052.9 729.9L1046 730ZM1048.6 738.4L1057.4 738.5L1054 731.3ZM1055.9 737.9L1060.8 732.4L1052.8 730.5ZM1068.2 730.3L1072.5 737.2L1074.1 735.6L1073.9 735.5L1073.7 735.3L1073.6 735.2L1073 734.7L1073 734.6L1072.7 734.3L1069.9 731.1L1069.1 730.4ZM1029.6 743.5L1032.8 738.6L1025.8 737.2L1025.5 737.6L1025.5 738.2L1025.5 738.3L1025.5 738.3ZM1036 745L1042.8 738.9L1032.1 737.9ZM1054.2 744.7L1060.6 745.9L1056.2 738.8ZM1070.4 744.5L1074.5 739.2L1065.1 738.5ZM1034.2 751.7L1040.4 752.6L1037.9 744.2ZM1058.3 753.1L1062.1 745.3L1053.6 743.8ZM1065.7 751.1L1068.6 744.5L1060.4 743.9ZM1073.8 750.9L1076 745.8L1069.6 745.5ZM1029.5 757.5L1036 760.2L1033.8 752.5ZM1044 758.8L1054.3 759.7L1048.6 751.7ZM1052.2 759.8L1056 752.7L1050.7 752.7ZM1076.7 759.7L1081.4 752.5L1073.1 751.6ZM1041.6 765.4L1049.9 766.9L1044.9 758.7ZM1058.2 766.8L1060.4 758.4L1054.3 759.6ZM1073.1 765.9L1080.7 766.6L1077 758.2ZM1038.7 774L1041.5 764.4L1033.5 765.4L1033.6 765.6L1033.8 765.8L1034.2 766.1L1034.3 766.2L1034.9 766.9L1035 767L1035.5 767.7L1035.6 767.8L1036.1 768.6L1036.2 768.7L1036.6 769.5L1036.7 769.6L1037 770.4L1037.1 770.6L1037.3 771.4L1037.4 771.6L1037.5 772L1037.6 772.4ZM1053.4 772.1L1057.5 765.1L1048.1 765.5ZM1061 772L1064.3 766.7L1056 765.9ZM1069.8 773L1073.1 764.3L1065.8 767.1ZM1076.3 773.9L1086.1 773L1082.4 765.2ZM1085.3 773.4L1088 766.7L1081.2 766.4ZM1049.3 780.1L1057.2 780.5L1052.2 773.3ZM1080.3 780.8L1085.5 772.9L1076.2 772.7ZM1086.5 771.9L1089.6 780L1089.7 779.9L1089.7 779.1L1089.7 778.6L1089.7 778.5L1089.8 777.6L1089.8 777.4L1089.9 776.6L1090 776.4L1090.1 776L1090.8 773.4L1090.8 772.9ZM1061.3 786.4L1065.1 778.3L1057.4 780.4ZM1065 792.8L1072.5 793.4L1069.5 787ZM1073.9 793.7L1070.9 797.6L1071.3 797.5L1071.7 797.5L1071.9 797.5L1072.9 797.4L1073 797.4L1074 797.5L1074.2 797.5L1075.1 797.7L1075.3 797.7L1075.6 797.8ZM1081.2 792.1L1083.2 798L1085.5 798.5L1085.8 798.4L1087.1 795.9L1087.1 795.9L1087.1 795.8L1087.2 794.9L1087.2 794.8L1087.3 793.9L1087.4 793.8L1087.5 793.3Z" fill="#fff" fill-opacity="0.06"/>
<path d="M985 1038L980 1047.2L963 1047.2L955.5 1037Z" fill="#4c3782" fill-opacity="0.90"/>
<path d="M979 1038L976 1043.5L966 1043.5L962 1038Z" fill="#2f6c8c" fill-opacity="0.90"/>
<path d="M974.7 943.7L968.7 945.4L963.4 948.4L958.6 950.7L954.6 954.4L950 957.3L947 961.5L942.3 963.9L940.1 968.2L937.9 972.5L936.3 976.9L932.5 980.2L931.2 985L931.1 990L931.5 995L931 1000.1L932.3 1005.1L930.5 1010.1L931.2 1015.2L934 1019.2L935.9 1023.8L938.8 1027.8L941 1032.2L943.3 1036.7L949.8 1037.5L955.8 1038.7L959 1043.3L962.2 1048L968.2 1047.4L973.8 1048.5L979.6 1047.5L982.4 1043.9L984.4 1039.8L989.3 1039.3L994.1 1037.7L999.3 1038.1L1003.2 1033.9L1008.2 1031.1L1011.6 1026.5L1015.5 1022.5L1016.2 1016.7L1020.1 1012.8L1021.8 1007.6L1024.3 1003L1024.9 997.8L1026.1 992.9L1026.9 987.7L1026.6 983.5L1024.6 979.7L1024.2 975.5L1023.7 970.8L1022.9 966L1020.7 962L1019.2 957.6L1014.6 954.1L1010.6 950L1006.6 947.8L1002.7 945.5L998.3 944.2L993.6 943.4L988.9 943.8L984.1 942.8L979.4 945.5Z" fill="#6a5799" fill-opacity="0.55"/>
<path d="M974.8 944.9L971.3 946.5L971.2 946.5L971.2 946.5L971.1 946.5L967.2 947.1L963.8 948.9L960.4 950.8L957.7 953.8L957.6 953.9L957.6 953.9L957.5 953.9L957.4 954L957.4 954L953.6 955.4L950.9 958.3L950.8 958.3L946.8 961.4L943.3 964.7L941.4 968L939.8 971.6L939.8 971.7L939.8 971.7L939.7 971.8L937.4 974.8L936.5 978.6L936.5 978.7L936.4 978.7L936.4 978.8L936.4 978.8L936.3 978.9L936.3 979L933.4 981.7L932.2 985.2L931.5 989.3L932.2 993.5L932.2 993.6L932.2 993.6L932 997.8L932.9 1002.1L932.9 1002.1L932.9 1002.2L932.9 1002.3L932.9 1002.3L932.9 1002.4L931.8 1006.5L932.4 1010.7L932.4 1010.8L932.4 1010.8L932.4 1010.9L931.9 1014.9L934.7 1017.7L934.7 1017.8L934.8 1017.8L934.8 1017.9L934.8 1018L936.2 1021.8L938.5 1025.1L938.5 1025.2L938.5 1025.2L938.5 1025.3L938.6 1025.3L939.5 1029.3L942.7 1031.8L942.8 1031.9L942.8 1031.9L942.9 1032L942.9 1032L942.9 1032.1L943 1032.2L944.1 1035.7L947.9 1035.9L948 1035.9L948 1035.9L948.1 1035.9L952 1037.2L956 1037.8L956.1 1037.8L960.7 1039.2L965.5 1039.6L965.6 1039.6L965.6 1039.6L965.7 1039.6L970 1041.3L974.4 1039.9L974.5 1039.9L974.6 1039.9L974.6 1039.9L979.4 1039.9L984.1 1038.9L984.1 1038.9L987.8 1038.3L987.9 1038.3L991.6 1037.9L991.7 1037.9L991.8 1037.9L995.4 1038.2L998.8 1036.9L1001.9 1034.5L1004.6 1031.3L1004.6 1031.3L1004.7 1031.2L1007.9 1028.7L1010.8 1025.8L1013.4 1022.6L1014.5 1018.4L1014.5 1018.4L1014.5 1018.3L1014.5 1018.3L1014.6 1018.2L1014.6 1018.2L1017.4 1015L1018.5 1010.9L1018.5 1010.8L1018.6 1010.7L1018.6 1010.7L1018.6 1010.6L1021.3 1007.4L1021.5 1003.4L1021.5 1003.3L1021.5 1003.3L1021.5 1003.2L1023.1 999.4L1024.4 995.5L1024.4 995.5L1025.7 991.7L1026.1 987.7L1026 983.7L1023.5 980.3L1023.4 980.2L1023.4 980.2L1023.4 980.1L1023.3 980L1023.3 980L1023.3 979.9L1023.1 975.7L1021.9 971.1L1021.8 971L1021.8 971L1021.8 970.9L1022.1 966.2L1020.4 962.1L1018.5 958.2L1015.2 956.4L1015.2 956.4L1015.1 956.4L1015.1 956.3L1015 956.3L1015 956.2L1015 956.2L1014.9 956.1L1013.4 952.5L1010.1 950.8L1010.1 950.8L1010 950.7L1006.5 948L1002 947.4L1002 947.4L1001.9 947.4L1001.8 947.3L1001.8 947.3L998.1 944.9L994.4 945.1L994.3 945.1L990.5 945L986.6 945.5L986.5 945.5L986.4 945.5L982.5 945.1L978.6 945.1L978.6 945.1Z" fill="#533f89" fill-opacity="0.80"/>
<defs><path id="p7" d="M975 945.6L971.6 947.1L971.5 947.1L971.3 947.2L971.2 947.2L967.4 947.8L964.1 949.5L960.8 951.4L958.2 954.3L958.1 954.4L958 954.5L957.9 954.5L957.8 954.6L957.6 954.7L954 956L951.4 958.7L951.2 958.9L947.3 961.9L943.8 965.2L942 968.4L940.5 971.9L940.4 972L940.3 972.1L940.3 972.2L938 975.1L937.2 978.8L937.1 978.9L937.1 979L937 979.1L936.9 979.3L936.8 979.4L936.8 979.5L934 982.1L932.9 985.4L932.2 989.3L932.9 993.4L932.9 993.5L932.9 993.7L932.7 997.8L933.6 1001.9L933.6 1002L933.6 1002.2L933.6 1002.3L933.6 1002.4L933.6 1002.6L932.5 1006.6L933.1 1010.6L933.1 1010.7L933.1 1010.9L933.1 1011L932.6 1014.6L935.2 1017.2L935.3 1017.4L935.4 1017.5L935.4 1017.6L935.5 1017.7L936.8 1021.5L939 1024.7L939.1 1024.8L939.2 1024.9L939.2 1025.1L939.2 1025.2L940.1 1028.9L943.2 1031.3L943.3 1031.4L943.4 1031.5L943.4 1031.6L943.5 1031.7L943.6 1031.8L943.6 1032L944.6 1035L947.9 1035.2L948.1 1035.2L948.2 1035.2L948.3 1035.2L952.2 1036.5L956.1 1037.1L956.3 1037.1L960.8 1038.5L965.6 1038.9L965.7 1038.9L965.8 1038.9L966 1039L970 1040.6L974.2 1039.2L974.3 1039.2L974.5 1039.2L974.6 1039.2L979.3 1039.2L983.9 1038.2L984 1038.2L987.7 1037.6L987.8 1037.6L991.5 1037.2L991.7 1037.2L991.8 1037.2L995.3 1037.5L998.5 1036.3L1001.4 1034L1004 1030.9L1004.1 1030.8L1004.2 1030.7L1007.5 1028.1L1010.3 1025.3L1012.7 1022.2L1013.8 1018.3L1013.8 1018.1L1013.9 1018L1013.9 1017.9L1014 1017.8L1014.1 1017.7L1016.8 1014.6L1017.8 1010.7L1017.9 1010.6L1017.9 1010.4L1018 1010.3L1018.1 1010.2L1020.6 1007.1L1020.8 1003.4L1020.8 1003.2L1020.8 1003.1L1020.9 1002.9L1022.4 999.2L1023.7 995.3L1023.7 995.3L1025 991.5L1025.4 987.7L1025.4 984L1022.9 980.7L1022.8 980.6L1022.8 980.5L1022.7 980.3L1022.7 980.2L1022.6 980.1L1022.6 979.9L1022.4 975.8L1021.2 971.3L1021.1 971.1L1021.1 971L1021.1 970.8L1021.4 966.3L1019.7 962.4L1018 958.7L1014.9 957.1L1014.8 957L1014.7 956.9L1014.6 956.8L1014.5 956.7L1014.4 956.6L1014.3 956.5L1014.3 956.4L1012.8 953L1009.8 951.4L1009.7 951.4L1009.6 951.3L1006.2 948.7L1001.9 948.1L1001.8 948.1L1001.7 948L1001.5 947.9L1001.4 947.9L997.9 945.6L994.4 945.8L994.3 945.8L990.5 945.7L986.7 946.2L986.5 946.2L986.4 946.2L982.5 945.8L978.6 945.8L978.5 945.8Z"/><clipPath id="c7"><use href="#p7"/></clipPath></defs>
<use href="#p7" fill="#b4d424"/>
<g clip-path="url(#c7)" fill="none" stroke-linejoin="round"><use href="#p7" stroke="#7bc949" stroke-width="18"/><use href="#p7" stroke="#48b867" stroke-width="15.8"/><use href="#p7" stroke="#26a67a" stroke-width="13.5"/><use href="#p7" stroke="#1d9084" stroke-width="11.2"/><use href="#p7" stroke="#257f8a" stroke-width="9"/><use href="#p7" stroke="#2e6c8d" stroke-width="6.8"/><use href="#p7" stroke="#3b568e" stroke-width="4.5"/><use href="#p7" stroke="#473d88" stroke-width="2.2"/></g>
<path d="M973.9 961L977.9 956.3L975.9 955.6L975.4 955.8L975 955.9L974.9 956L974.1 956.3L974 956.3L973.2 956.5L973.1 956.5L972.7 956.6L972 956.7ZM981 961.6L984.9 955.6L982 955.3L979.2 955.3ZM989 962.3L995.4 956.4L990.1 955.3L988.1 955.6L987.5 955.7L987.3 955.7L986.2 955.7L986 955.7L985.7 955.7ZM990 963L999.2 963L993.4 955.3ZM962.6 969L964.4 962.6L963.4 962.3L963.3 962.3L963.2 962.4L962.5 962.9L962.3 962.9L961.5 963.3L961.4 963.4L961 963.5L960.4 963.8ZM978.4 967.7L981.3 961.8L974.1 963.6ZM976.9 967.7L986.2 969L981.6 961.9ZM993.7 969.2L1001.2 967.8L999 962ZM950.1 975.4L954.9 969.8L953.2 969.4L951.4 971.1L950.5 972.6L949.7 974.4ZM958.7 974.7L966.9 974.5L960.7 969ZM964.8 975.9L970.4 967.7L961.7 970.3ZM973.7 976.5L978.8 968.2L971.2 970ZM998.3 974.7L1002.6 968.1L992.7 969.3ZM955 983.9L961.2 981.9L958.9 975ZM962 982L966.1 976.4L958.7 975.6ZM969.7 982.9L977.2 984.3L972.4 974.9ZM992.6 981.5L999.2 977.1L990 975.6ZM1008.7 981.5L1013.4 982.3L1013.3 982L1013.3 981.9L1013.2 981L1013.2 980.8L1013.1 980.3L1013 977.3L1012.8 976.6ZM957.5 989.6L962.1 982.9L952.9 982.5ZM982.4 990.5L990.6 990.8L985.8 982.1ZM988.9 990L998.4 990.6L994.8 981.9ZM1008.4 981.5L1014.7 991.2L1015.7 989.4L1015.9 987.3L1015.3 986.4L1015 986L1014.9 985.9L1014.5 985.1L1014.4 985L1014 984.1L1013.9 984L1013.6 983.1L1013.6 983L1013.3 982L1013.3 982ZM945.7 997.8L954.8 997.8L948.8 989.7ZM960.9 996.3L970.5 995.4L965.8 989.6ZM971.1 998L977.6 997.2L972.9 990.9ZM977.9 995.3L984.7 996.6L980.6 990.1ZM994.7 995.8L997 989.3L989.1 989.7ZM995.1 995.5L1003.1 996.6L998.3 989.7ZM1002 995.9L1009.5 996.9L1007 990.9ZM956.5 1002.9L962.4 995.7L952.8 996.2ZM989.3 1002.7L999.1 1002.5L994 995.9ZM1010.3 995.9L1007.4 1002.4L1011.1 1003.8L1011.3 1003.5L1011.3 1002.9L1011.3 1002.3L1011.3 1002.2L1011.5 1001.2L1011.6 1001L1011.8 1000L1011.9 999.8L1011.9 999.7ZM946.6 1010.5L942.7 1005.3L942.2 1007.1L942.5 1009.1L942.6 1009.6L942.6 1009.7L942.6 1010.6L942.6 1010.8L942.6 1010.8ZM945.1 1010.8L949.4 1005L943.1 1002.9L943.1 1003.4ZM954.6 1010.4L958.7 1003.8L949.7 1002.6ZM954.5 1011.2L963.3 1010.3L958.1 1004.7ZM985.8 1010.3L989.2 1003.4L982 1002.7ZM993.3 1009.4L1002.7 1012.1L996.8 1002.9ZM1006.7 1003.8L1001.1 1010.5L1008.3 1009.4L1008.6 1008.3L1008.8 1007.8L1008.8 1007.7L1008.9 1007.6ZM1005.9 1004.9L1008.5 1008.8L1008.6 1008.3L1008.8 1007.8L1008.8 1007.7L1009.2 1006.7L1009.2 1006.6L1009.7 1005.6L1009.8 1005.5L1010.3 1004.7L1010.4 1004.5L1010.5 1004.4ZM947.2 1011L942.6 1010.4L942.6 1010.6L942.6 1010.8L942.6 1011.3L943 1011.9L943.1 1012L943.7 1012.9L943.7 1013L944.2 1013.9L944.2 1014L944.4 1014.5L944.5 1014.7ZM957.1 1017.9L966.1 1018.3L961.4 1011.9ZM966.6 1018L972.8 1018L969.9 1009.3ZM972.8 1016.8L981.1 1018.7L977.4 1009.7ZM998.1 1018.8L1001 1010.3L995 1010.1ZM1002.7 1012L997.6 1017L1003.9 1018.1L1004.1 1017.9L1004.6 1015.8L1004.7 1015.5ZM970.5 1025.1L973.5 1017.6L964.7 1018.7ZM952.6 1023.6L951.7 1026.3L954.4 1027.2L955.4 1027.4ZM963.2 1025.4L953.4 1023.7L956.7 1027.6L957.6 1027.7L958.2 1027.8L958.4 1027.9L959 1028L960.2 1028.4ZM962.5 1024.3L960 1028.3L962.6 1029.1L964.3 1029.2Z" fill="#000" fill-opacity="0.07"/>
<path d="M967 962.8L969.2 957.6L968.6 957.9L966.8 958.9L965.3 960.6ZM969.8 970.2L973 963.2L967 963.3ZM999.2 960.8L1002.7 967.9L1006.8 962.3L1006.8 962.3L1006.4 961.7ZM1005.4 962.1L1009.1 967.7L1010.4 965.4L1010.4 965.4L1010 965.2L1009.9 965.1L1009.1 964.6L1009 964.5L1008.3 964L1008.2 963.9L1007.6 963.2L1007.5 963.1L1006.9 962.4L1006.8 962.3L1006.6 962ZM1008.5 970.4L1011.7 970L1011.8 968L1011.1 966.5ZM972.5 974.7L982.7 976.9L977.4 968.7ZM982.7 977L986.7 969.4L976.7 969.9ZM982.9 977.1L989.5 976.3L985.6 970.5ZM990.3 974.7L993.4 969.8L986.4 967.5ZM996.9 974.5L1007 977.4L1002.7 968.4ZM946.7 983.9L948.1 977.6L948.1 977.6L948 977.7L947.8 978L946.8 979.3L946.4 980.9L946.3 981.4L946.3 981.5L946 982.4L945.9 982.5L945.9 982.6ZM953 984.1L956.8 974.5L950.4 976.9ZM986.1 982L991.1 974.7L982.4 976.1ZM992.7 983.5L1000.8 983.3L996.5 976.5ZM942.3 990.2L946.2 982.8L945.8 982.8L945.5 983.3L945.5 983.5L945 984.3L944.9 984.4L944.4 985.1L944.3 985.2L943.7 985.9L943.6 986L943.3 986.4L942.3 987.3L942.2 987.7L941.9 989.4L941.9 989.5ZM950 990L954.3 982.2L946.8 982.8ZM957.9 990.5L966.1 991.2L962.3 981.6ZM974.3 989.6L977.4 984.2L970.3 983ZM997.4 990.4L1004.4 988.8L1003.3 982.9ZM1006.3 990.9L1009.8 982.3L1001.7 983.9ZM953 995.4L961.3 995.5L959.2 989.4ZM968.7 996L973.4 991.1L965.8 989.5ZM977.5 997.7L983.2 991.2L972.5 988.5ZM986 997.8L990.2 989.4L982.5 988.8ZM956.5 1004.1L964.7 1003.8L963.1 996.6ZM966.1 1004.4L968.9 997.5L960.8 997.3ZM973.1 1004.4L979.1 995.7L969.7 997.1ZM944.9 1009.6L953.7 1010.3L950.5 1003.3ZM970.5 1010.1L974.2 1003.5L966.2 1002.6ZM977.2 1010.6L980.4 1002.6L975.3 1002.3ZM950.6 1017.7L946.6 1010.2L944.2 1014.1L944.4 1014.5L945.4 1017.1L945.6 1017.4ZM957.6 1017.4L962.9 1010L953 1011.4ZM982.1 1018.2L988.6 1018.9L986.6 1011.9ZM953.1 1025L950.2 1016.3L947.6 1020.6L947.6 1020.6L947.7 1020.7L948 1021.5L948.1 1021.6L948.3 1022.4L948.4 1022.6L948.5 1023L948.6 1023.5L949.1 1023.9L949.4 1024.2L949.5 1024.2L949.9 1024.6ZM953.2 1025.3L956.6 1018.2L951.1 1016.1ZM961.7 1023.1L971 1023.6L966.9 1018.8ZM986.1 1025.1L994.1 1024.8L991.2 1018.6ZM993.9 1023.7L999 1016.9L991.2 1017.4ZM978.9 1024.1L976.6 1029.7L978.4 1029.7L982 1028.9L982 1028.9ZM994.8 1023.4L985.8 1023.5L987.3 1028.1L990.3 1027.7L990.8 1027.7L991 1027.7L992.1 1027.7L992.1 1027.7Z" fill="#fff" fill-opacity="0.06"/>
<path d="M1474.1 734.1L1469.8 737.3L1464.7 738.2L1459.6 740.2L1456.4 745.2L1455.7 750.5L1452.4 754.8L1450.9 760.1L1449.9 765.8L1450.3 771.4L1447.9 777L1450.2 781.3L1447.7 786L1450.8 790.3L1449.8 794.8L1453 799.1L1455.1 803.5L1458 807.6L1460.6 811.6L1462.7 815.9L1464.6 820.6L1467.7 824.4L1469.5 829.1L1473.3 832.8L1478.1 836.4L1483.2 839.5L1487.7 843.5L1493.8 844L1498.7 847.5L1503.9 844.5L1510 845.6L1515.3 843L1521.1 841.4L1523.2 836.5L1528.3 834L1529.8 828.7L1533.7 825.5L1536.4 820.8L1537.4 815.5L1537 810.4L1539.6 805.8L1540.2 800.5L1541.4 795.4L1540.1 790.1L1540.8 784.4L1538.8 779L1537.1 773.9L1535.9 768.5L1534.3 764L1531.3 760.4L1529.8 755.9L1527.1 752L1524.6 747.8L1518.7 745.3L1514.1 741.1L1508.7 739.7L1504.2 736.5L1498.9 733.9L1493.8 734.2L1489 734.9L1484.2 733.7L1479.2 733.8Z" fill="#6a5799" fill-opacity="0.55"/>
<path d="M1474.7 736.4L1471.6 737.9L1471.4 738L1471.3 738L1467.8 739L1464.8 741.1L1464.6 741.2L1464.5 741.2L1464.3 741.3L1461.4 742.2L1460.3 745.5L1460.2 745.7L1458.3 749.4L1456.6 753.2L1456.5 753.4L1454.5 756.9L1453.4 760.7L1452.5 764.7L1452.1 768.8L1452.1 768.9L1452.1 769L1451.2 773L1451 777L1451.3 781.2L1451.8 785.6L1451.8 785.8L1451.8 785.9L1451.6 790.1L1452.7 794L1454.5 797.6L1457.1 801L1457.1 801.2L1457.2 801.3L1457.3 801.4L1458.7 805.3L1461.5 808.5L1461.6 808.6L1461.7 808.8L1461.7 808.9L1463.4 812.9L1465.8 816.4L1465.9 816.5L1465.9 816.6L1467.7 820.3L1470.6 823.4L1470.8 823.6L1470.8 823.7L1470.9 823.9L1471 824L1472.3 828L1474.8 831.2L1477.6 833.6L1481 835.4L1481.1 835.5L1484.3 837.7L1488.1 839.4L1488.2 839.4L1488.3 839.5L1491.7 841.7L1495.5 843.1L1495.7 843.2L1498.9 844.8L1502.6 843.8L1502.8 843.7L1507 843L1511.1 841.3L1511.2 841.2L1511.3 841.2L1515.7 840.3L1519.5 839.2L1521.8 836.4L1523.9 832.9L1524 832.7L1526.7 829.6L1529.1 826.2L1529.2 826.1L1529.2 826L1532.1 823.1L1534 819.8L1535.2 816.2L1535.2 812.1L1535.2 811.9L1535.2 811.7L1535.2 811.6L1536.5 807.6L1537 803.5L1537.1 803.4L1538 799.2L1538.8 795.3L1538.6 791.2L1537 787.2L1536.9 787L1536.9 786.9L1536.9 786.8L1536.9 786.6L1536.7 782.3L1535.5 778.1L1535.4 777.9L1534.6 773.5L1533.9 769.3L1532.2 766.2L1530 763L1530 762.9L1529.9 762.7L1528.5 759.3L1526.4 756.3L1526.3 756.1L1526.2 756L1524.6 752.6L1522.5 749.8L1519.7 747.6L1516.2 745.9L1516 745.9L1515.9 745.8L1515.8 745.7L1512.9 743.2L1509.3 741.7L1509.2 741.6L1505.6 739.7L1501.8 738.1L1501.7 738.1L1498.4 736.4L1494.7 736.6L1494.6 736.6L1494.4 736.6L1490.6 736.1L1486.7 736.4L1486.5 736.4L1486.4 736.4L1482.6 736.1L1478.7 736.7L1478.5 736.7L1478.3 736.7Z" fill="#533f89" fill-opacity="0.80"/>
<defs><path id="p8" d="M1475 738.1L1472.3 739.4L1472 739.5L1471.8 739.6L1468.5 740.5L1465.6 742.4L1465.4 742.6L1465.1 742.7L1464.8 742.8L1462.6 743.5L1461.8 746L1461.6 746.4L1459.8 750.1L1458.1 753.9L1457.9 754.1L1456 757.5L1455 761.2L1454 764.9L1453.7 768.9L1453.7 769.1L1453.7 769.4L1452.8 773.2L1452.6 777L1452.9 781.1L1453.4 785.5L1453.4 785.7L1453.4 785.9L1453.2 789.9L1454.2 793.4L1455.9 796.7L1458.3 800.1L1458.5 800.3L1458.6 800.6L1458.8 800.9L1460.1 804.5L1462.7 807.4L1462.9 807.7L1463.1 808L1463.2 808.3L1464.8 812.1L1467.1 815.4L1467.2 815.6L1467.4 815.9L1469.1 819.4L1471.8 822.3L1472 822.6L1472.2 822.9L1472.4 823.2L1472.5 823.5L1473.7 827.3L1476 830.1L1478.5 832.3L1481.7 834L1482 834.2L1485.1 836.3L1488.7 837.9L1488.9 838L1489.1 838.1L1492.4 840.2L1496.1 841.6L1496.4 841.7L1499 843.1L1502.2 842.2L1502.5 842.2L1506.6 841.4L1510.4 839.8L1510.7 839.7L1511 839.6L1515.3 838.7L1518.6 837.8L1520.5 835.5L1522.5 832.1L1522.8 831.7L1525.4 828.6L1527.8 825.3L1527.9 825.1L1528.1 824.9L1530.8 822.1L1532.6 819.2L1533.6 815.9L1533.6 812.1L1533.6 811.8L1533.6 811.4L1533.7 811.1L1534.9 807.3L1535.4 803.3L1535.5 803L1536.4 798.9L1537.2 795.1L1537.1 791.5L1535.5 787.8L1535.4 787.5L1535.3 787.3L1535.3 787L1535.3 786.7L1535.1 782.5L1533.9 778.5L1533.9 778.2L1533.1 773.7L1532.4 769.8L1530.8 767L1528.7 763.9L1528.5 763.6L1528.4 763.3L1527.1 760L1525.1 757.2L1524.9 756.9L1524.8 756.7L1523.3 753.5L1521.3 750.9L1518.9 748.9L1515.5 747.4L1515.3 747.2L1515 747.1L1514.8 746.9L1512 744.6L1508.6 743.1L1508.4 743L1504.9 741.2L1501.2 739.6L1501 739.5L1498.1 738.1L1494.8 738.2L1494.5 738.2L1494.2 738.2L1490.5 737.7L1486.8 738L1486.5 738L1486.3 738L1482.6 737.7L1478.9 738.3L1478.6 738.3L1478.2 738.3Z"/><clipPath id="c8"><use href="#p8"/></clipPath></defs>
<use href="#p8" fill="#37ae6d"/>
<g clip-path="url(#c8)" fill="none" stroke-linejoin="round"><use href="#p8" stroke="#26a376" stroke-width="32"/><use href="#p8" stroke="#1d977d" stroke-width="28.8"/><use href="#p8" stroke="#1d8c81" stroke-width="25.6"/><use href="#p8" stroke="#208083" stroke-width="22.4"/><use href="#p8" stroke="#257584" stroke-width="19.2"/><use href="#p8" stroke="#2a6c87" stroke-width="16"/><use href="#p8" stroke="#31628a" stroke-width="12.8"/><use href="#p8" stroke="#38578c" stroke-width="9.6"/><use href="#p8" stroke="#404b8b" stroke-width="6.4"/><use href="#p8" stroke="#473d88" stroke-width="3.2"/></g>
<path d="M1514.2 790.2L1512.7 786.6L1510.9 783.2L1508.8 780.1L1506.6 777.3L1504.3 775L1501.8 773.2L1499.4 771.9L1496.9 771.2L1494.6 771L1492.4 771.5L1490.5 772.5L1488.8 774.1L1487.4 776.2L1486.3 778.8L1485.7 781.8L1485.3 785.1L1485.4 788.6L1485.8 792.3L1486.7 796.1L1487.8 799.8L1489.3 803.4L1491.1 806.8L1493.2 809.9L1495.4 812.7L1497.7 815L1500.2 816.8L1502.6 818.1L1505.1 818.8L1507.4 819L1509.6 818.5L1511.5 817.5L1513.2 815.9L1514.6 813.8L1515.7 811.2L1516.3 808.2L1516.7 804.9L1516.6 801.4L1516.2 797.7L1515.3 793.9Z" fill="#5fbf55" fill-opacity="0.70" filter="url(#b3)"/>
<path d="M1479.2 761.5L1475.2 756L1474.7 757.2L1473.1 760.6L1472.8 761.3L1472.8 761.3ZM1478.5 760.6L1483.3 754.3L1483.1 754.3L1481.3 754.6L1480.4 754.7L1480.1 754.7L1478.3 754.8L1478.2 754.8L1477.2 755.1L1477 755.2L1476.3 755.4L1475.5 755.6L1475.4 755.8L1474.7 757.2L1474.6 757.2ZM1472.2 770.4L1470.6 766.9L1470.4 767.5L1470.2 770.2L1470.2 770.4ZM1490.3 768.6L1501.2 769.3L1495.4 761ZM1504.3 762.8L1508.3 769.9L1510.8 765.4L1510.3 764.6L1510.2 764.4L1509.8 763.7L1509.4 762.7L1508.6 762.4L1508.1 762.1ZM1485.8 777.9L1495.9 777.1L1493.1 769.3ZM1474.5 785.7L1477.2 778.6L1469.1 777.2L1469.3 778.8ZM1472.1 784.9L1482.2 786.1L1478.5 777.3ZM1491.1 786.6L1499.3 786.7L1494.7 777.1ZM1483.1 801.1L1476.6 793.9L1474.8 796.3L1475.1 796.6L1475.7 797.3L1475.9 797.6L1477 799.1L1477.1 799.4L1477.7 800.4ZM1483.9 802.4L1491.7 799.6L1487.7 793.2ZM1509.4 816.3L1513.2 807.7L1506.3 810.1Z" fill="#000" fill-opacity="0.04"/>
<path d="M1481.2 754.8L1486.7 762.8L1492.1 754.6L1490.1 754.3L1488.1 754.5L1487.4 754.5L1487.2 754.5L1485.9 754.5L1485.6 754.5L1485 754.5L1484.5 754.4ZM1492.9 755.2L1495.1 763.4L1499.7 757.1L1497.8 756.1L1495.4 755.1ZM1474.1 771.2L1476.9 762.6L1472.5 762L1472.3 762.3L1471.3 764L1471.3 764ZM1483.5 769.6L1490.8 770.9L1486.6 762ZM1501.8 770.7L1508.3 769.3L1506 763ZM1469.5 779.1L1474.2 770.1L1470.2 769.8L1470.2 770.2L1470.1 770.8L1470.1 771.1L1469.9 772.3L1469.9 772.5L1469.7 773.2L1469.2 775.6L1469.1 776.7L1469.3 778.5ZM1497.5 778.9L1500.6 771.4L1492.8 769.3ZM1495.4 778.2L1504.9 778.7L1500.2 770.8ZM1504.8 777.3L1514.7 777.3L1509 769ZM1513.7 778.9L1517.1 778.2L1516.8 776.6L1516.6 775.5L1515.6 774ZM1473.6 785.9L1469.3 779.2L1469.4 779.5L1469.8 783.8L1469.8 784.4L1469.9 784.6L1469.9 785.9L1469.9 786.1L1469.9 786.4ZM1492.7 784.2L1494.7 779L1485.9 776.8ZM1479.5 793.1L1474 785.8L1471.6 790.3L1471.6 790.3L1472.1 790.9L1472.2 791.2L1473 792.5L1473.2 792.7L1473.2 792.7ZM1479.4 792.6L1483.5 785.2L1473.2 786.7ZM1477.1 792.4L1487.5 794.5L1483.8 785.5ZM1497.4 794.4L1500.6 785.1L1490.6 785.9ZM1482.2 799.9L1486.1 791.9L1478.8 792.8ZM1501.9 801.6L1508.5 799.6L1504.7 794ZM1481.8 802.4L1478.2 801.4L1478.5 802.1L1479.3 804.2L1479.8 804.8ZM1487 809.9L1483.5 801.6L1480.4 805.6L1480.6 805.9L1481 806.5L1481.1 806.7L1481.8 807.8L1481.9 808.1L1482.2 808.7L1482.6 809.5ZM1495.6 808.3L1506.6 810.1L1502.1 801.1ZM1491.9 817L1489.9 819.7L1490.3 819.9L1490.5 820.1L1491.3 820.6L1493.1 821.8L1494.7 822.5Z" fill="#fff" fill-opacity="0.03"/>
<path d="M1650.6 706L1646.8 708.1L1643.8 711.6L1640.8 716.3L1641.3 722L1638.5 726.5L1637.4 732.3L1637.3 738L1636.8 743.6L1637.7 748.8L1638.6 753.8L1639.2 759L1640.9 764L1642.6 768.9L1643.7 773.9L1646 778.9L1650 782.5L1651.4 787.7L1654.4 792.2L1657.2 796.8L1660.7 800.8L1663.4 805.1L1667 808.8L1670.2 812.7L1673.7 816.5L1677.1 820.7L1683.3 820.7L1688.5 823.5L1694.5 823.8L1699.6 824.2L1703.9 821.2L1708.7 821.4L1713.1 819.3L1718.5 819.9L1720.5 815.4L1722.3 811.5L1723.9 807.4L1724.3 801.7L1725.9 796.2L1726.3 790.4L1725.7 784.8L1726.1 778.9L1723.8 773.3L1720.7 768.4L1718.2 763.2L1715.7 757.8L1711.6 754.3L1710.9 748.5L1706.1 745.1L1703.8 740.6L1701.6 735.7L1698.8 731.2L1696 726.7L1692.8 722.3L1688.8 718.9L1687.2 713.4L1681.3 711.1L1675.8 706.5L1674.7 710.9L1670.8 710.5L1666.5 710.5L1662.3 708.4L1659 708.6L1661.8 701.6L1655.3 704Z" fill="#6a5799" fill-opacity="0.55"/>
<path d="M1649.8 710.6L1647.7 712.6L1647.6 712.7L1647.5 712.8L1647.3 712.9L1645.1 714.1L1644.3 718.1L1644.3 718.3L1644.2 718.5L1644.1 718.6L1641.8 722.7L1641 727.1L1640.9 727.2L1640.1 731.1L1640.1 735.2L1640.1 735.3L1639.8 739.5L1639.5 743.6L1639.8 747.6L1641.2 751.6L1641.3 751.8L1641.3 752L1641.7 756.2L1643.3 760.1L1643.4 760.3L1643.4 760.4L1643.4 760.6L1643.8 764.8L1645.2 768.7L1645.3 768.9L1645.3 769.1L1646 773L1648 775.9L1648.1 776L1648.2 776.1L1648.3 776.3L1649.5 779.7L1652.2 782.2L1652.3 782.4L1652.4 782.5L1652.5 782.6L1652.5 782.7L1654.2 786.2L1656.3 789.4L1656.4 789.6L1658 793L1660.5 795.8L1660.6 796L1660.7 796.2L1662.5 799.4L1665.3 802.2L1665.4 802.3L1665.5 802.4L1665.6 802.6L1667.7 806.1L1670.5 808.9L1670.6 809L1673.4 812L1676.5 814.8L1676.6 814.9L1676.7 815.1L1676.8 815.2L1678.7 818.1L1682.1 818.4L1682.3 818.4L1682.5 818.5L1682.7 818.5L1686.4 820.1L1690.5 820.6L1690.7 820.6L1694.4 821.4L1697.8 820.4L1698 820.3L1698.2 820.3L1702 820L1705.6 818.9L1705.8 818.9L1705.9 818.8L1706.1 818.8L1706.2 818.8L1710 819.1L1713.5 817.9L1713.6 817.9L1713.7 817.9L1716.7 817.4L1718 814.3L1718 814.3L1719.7 810.5L1721.2 806.6L1722.3 802.9L1721.9 798.9L1721.8 798.7L1721.9 798.6L1721.9 798.4L1721.9 798.2L1722 798.1L1723.5 794.3L1723.5 790.4L1723.4 786.5L1722.2 782.6L1722.1 782.4L1722.1 782.3L1722.1 782.1L1722.1 778L1721.2 774.3L1719.3 770.9L1716.9 767.3L1716.8 767.1L1715 763.2L1713 759.5L1711.1 756.2L1708.8 753L1708.7 752.9L1708.6 752.7L1707.1 749.3L1704.8 746.4L1704.7 746.2L1704.6 746L1702.9 742.7L1700.3 740L1700.2 739.8L1700.1 739.7L1700 739.5L1699.9 739.3L1698.7 735.8L1696.4 732.9L1696.3 732.8L1696.2 732.7L1694.1 729.1L1691.8 725.8L1689.3 722.4L1686.7 719.2L1686.5 719L1686.4 718.9L1684.9 715.7L1682 714.8L1681.9 714.7L1681.7 714.7L1681.6 714.6L1678.5 712.6L1675.4 711.2L1671.8 710.4L1667.8 710.1L1667.6 710.1L1667.5 710L1667.4 710L1663.7 708.7L1660.1 708.3L1656.7 709L1653.2 710L1653 710Z" fill="#533f89" fill-opacity="0.80"/>
<defs><path id="p9" d="M1650.6 712.3L1648.9 713.9L1648.7 714.1L1648.4 714.3L1648.2 714.4L1646.6 715.3L1646 718.4L1645.9 718.8L1645.8 719.2L1645.6 719.5L1643.5 723.3L1642.7 727.5L1642.7 727.5L1641.9 731.3L1641.8 735.2L1641.8 735.5L1641.5 739.7L1641.2 743.6L1641.5 747.3L1642.9 751L1643 751.4L1643 751.8L1643.5 755.8L1644.9 759.5L1645 759.8L1645.1 760.1L1645.2 760.5L1645.5 764.4L1646.9 768.1L1647 768.5L1647.1 768.8L1647.6 772.3L1649.5 774.8L1649.6 775.1L1649.8 775.4L1649.9 775.7L1651 778.7L1653.4 781L1653.6 781.2L1653.8 781.5L1654 781.7L1654.1 782L1655.7 785.3L1657.8 788.4L1658 788.9L1659.5 792L1661.8 794.7L1662.1 795L1662.3 795.3L1663.9 798.4L1666.5 801L1666.7 801.2L1666.9 801.4L1667.1 801.7L1669 805L1671.7 807.7L1671.8 807.8L1674.6 810.8L1677.7 813.5L1677.9 813.8L1678.1 814L1678.3 814.2L1679.7 816.4L1682.3 816.7L1682.7 816.7L1683 816.8L1683.3 816.9L1686.9 818.4L1690.7 818.8L1691 818.9L1694.3 819.6L1697.3 818.7L1697.7 818.6L1698.1 818.5L1701.7 818.3L1705.1 817.2L1705.4 817.2L1705.7 817.1L1706 817.1L1706.3 817.1L1709.7 817.3L1712.9 816.3L1713.2 816.2L1713.4 816.1L1715.4 815.8L1716.4 813.6L1716.4 813.5L1718.1 809.8L1719.5 806.1L1720.5 802.8L1720.1 799.1L1720.1 798.8L1720.1 798.4L1720.2 798.1L1720.2 797.7L1720.3 797.4L1721.7 794L1721.8 790.4L1721.6 786.8L1720.5 783.1L1720.4 782.8L1720.3 782.4L1720.3 782.1L1720.3 778.2L1719.6 775L1717.8 771.8L1715.5 768.2L1715.2 767.8L1713.4 764L1711.5 760.3L1709.6 757.1L1707.4 754.1L1707.2 753.7L1707 753.4L1705.6 750.2L1703.4 747.5L1703.2 747.2L1703 746.8L1701.4 743.7L1699 741.1L1698.8 740.9L1698.6 740.6L1698.4 740.2L1698.3 739.9L1697.1 736.6L1695 734L1694.9 733.8L1694.7 733.6L1692.7 730.1L1690.4 726.8L1688 723.5L1685.3 720.3L1685.1 720L1684.9 719.6L1683.6 717.2L1681.5 716.5L1681.2 716.3L1680.9 716.2L1680.6 716.1L1677.7 714.2L1674.9 712.9L1671.5 712.2L1667.6 711.8L1667.3 711.8L1667.1 711.7L1666.8 711.6L1663.3 710.4L1660.2 710.1L1657.2 710.7L1653.6 711.7L1653.3 711.8Z"/><clipPath id="c9"><use href="#p9"/></clipPath></defs>
<use href="#p9" fill="#2fa972"/>
<g clip-path="url(#c9)" fill="none" stroke-linejoin="round"><use href="#p9" stroke="#229f79" stroke-width="30"/><use href="#p9" stroke="#1c947f" stroke-width="27"/><use href="#p9" stroke="#1e8982" stroke-width="24"/><use href="#p9" stroke="#217e84" stroke-width="21"/><use href="#p9" stroke="#257384" stroke-width="18"/><use href="#p9" stroke="#2b6a87" stroke-width="15"/><use href="#p9" stroke="#31618a" stroke-width="12"/><use href="#p9" stroke="#38568b" stroke-width="9"/><use href="#p9" stroke="#404b8b" stroke-width="6"/><use href="#p9" stroke="#473d88" stroke-width="3"/></g>
<path d="M1696.3 766.6L1694.7 762.9L1692.9 759.3L1691 756.1L1689 753.1L1687 750.6L1685 748.5L1683.1 747L1681.3 746L1679.7 745.7L1678.3 745.9L1677.1 746.7L1676.2 748.1L1675.5 750.1L1675.2 752.5L1675.2 755.3L1675.5 758.6L1676.1 762.1L1677.1 765.8L1678.2 769.6L1679.7 773.4L1681.3 777.1L1683.1 780.7L1685 783.9L1687 786.9L1689 789.4L1691 791.5L1692.9 793L1694.7 794L1696.3 794.3L1697.7 794.1L1698.9 793.3L1699.8 791.9L1700.5 789.9L1700.8 787.5L1700.8 784.7L1700.5 781.4L1699.9 777.9L1698.9 774.2L1697.8 770.4Z" fill="#7fcc4c" fill-opacity="0.80" filter="url(#b2)"/>
<path d="M1702.4 785.1L1702.1 783.2L1701.6 781.5L1701 779.8L1700.2 778.3L1699.4 777L1698.4 775.9L1697.4 775L1696.4 774.4L1695.4 774.1L1694.3 774.1L1693.3 774.4L1692.4 775L1691.6 775.8L1690.9 776.9L1690.3 778.2L1689.8 779.7L1689.5 781.4L1689.4 783.2L1689.4 785L1689.6 786.9L1689.9 788.8L1690.4 790.5L1691 792.2L1691.8 793.7L1692.6 795L1693.6 796.1L1694.6 797L1695.6 797.6L1696.6 797.9L1697.7 797.9L1698.7 797.6L1699.6 797L1700.4 796.2L1701.1 795.1L1701.7 793.8L1702.2 792.3L1702.5 790.6L1702.6 788.8L1702.6 787Z" fill="#b3c42c" fill-opacity="0.95" filter="url(#b1)"/>
<path d="M1675.1 733.6L1679.3 742.2L1680.7 740.3L1679.6 738.4L1677.7 735.8L1676.3 733.7ZM1660.7 742.4L1656.9 742.2L1656.8 743.6L1656.8 744L1657.4 745.8L1657.7 746.6L1657.8 747L1658.1 748ZM1666.4 748.8L1661.8 740.3L1657.6 746.2L1657.7 746.6L1657.8 747L1658.1 748.3ZM1675.2 766.2L1679.2 758.3L1669.4 757.6ZM1676.3 780.4L1684.1 779.6L1678.9 772ZM1692.9 779.9L1698.7 773.9L1687.5 774.1ZM1678.9 789.2L1673.4 779.8L1672.6 783.4L1672.6 783.5L1673.5 784.5L1674.1 785.2L1674.3 785.5L1675.3 787L1675.5 787.3L1676 788.1L1676.5 789L1676.5 789.1ZM1678.4 786.9L1687.1 787.3L1684.3 781ZM1703.3 781.4L1705.1 787.2L1705.4 786.7L1705.4 786.6L1705.1 785.1L1705 784.7L1704.9 783.2L1704.8 782.8L1704.8 782L1704.8 781Z" fill="#000" fill-opacity="0.03"/>
<path d="M1662.2 741.1L1666.5 734.4L1657.3 734.5L1657.3 734.8ZM1661.8 740.3L1671.3 742.2L1665.9 734.4ZM1670.4 757.1L1680.1 757.9L1674.6 747.9ZM1686.8 756.2L1690.7 756.4L1690.7 756.3L1689.8 754.9L1689.6 754.6L1689.2 753.9L1688.9 753.3ZM1691.6 764.3L1695.7 764.4L1694.9 763.2L1694.4 762.5L1694.2 762.2L1693.8 761.5ZM1664.6 763.4L1661.8 763.8L1661.8 763.8L1662.2 765.3L1662.2 765.6L1662.3 766.2L1662.4 766.3L1662.5 766.5L1663.3 767.8L1663.4 768L1663.5 768.1ZM1675.4 781.8L1678.8 771.5L1668.9 773.1ZM1679.1 787.5L1675.9 787.9L1676 788.1L1676.5 789L1677.4 789.9L1677.9 790.4L1677.9 790.5ZM1682.7 795.9L1686.9 788.4L1678.9 788.9ZM1702.3 795.2L1704.8 795.7L1705.1 794.5L1705.2 794.1L1705.6 792.7L1705.7 792.3L1706 791.6L1706.3 790.8L1706.3 790.7L1706.2 789.5L1705.7 787.7L1705.5 787.1Z" fill="#fff" fill-opacity="0.03"/>
<path d="M1623.7 898.6L1623.7 898.7L1630.1 912.6L1630.1 912.7L1630.2 912.7L1642.8 919.7L1642.9 919.7L1643 919.7L1660.7 923.6L1660.8 923.6L1660.9 923.6L1670.9 923.6L1671 923.6L1671.1 923.6L1679.9 916.5L1680 916.5L1680 916.4L1685.1 905.1L1685.1 905L1685.1 904.9L1686.1 894.9L1686.1 894.8L1686.1 894.7L1683.8 887.2L1683.8 887.1L1683.8 887.1L1677.4 880.1L1677.4 880.1L1677.3 880.1L1664.7 875L1664.6 875L1664.5 875L1653.2 873L1653.1 873L1653 873L1637.2 873.7L1637.1 873.7L1637 873.7L1628.9 880.7L1628.8 880.7L1628.8 880.8L1624.3 889.6L1624.3 889.7L1624.3 889.8L1623.7 898.5Z" fill="#6a5297" fill-opacity="0.85"/>
<path d="M1684.6 890.9L1683.8 888.9L1682.9 887L1681.8 885.2L1680.7 883.6L1679.6 882.2L1678.4 881.2L1677.3 880.3L1676.2 879.9L1675.2 879.7L1674.2 879.8L1673.4 880.3L1672.7 881.1L1672.2 882.2L1671.8 883.6L1671.6 885.1L1671.6 886.9L1671.8 888.9L1672.2 890.9L1672.7 893L1673.4 895.1L1674.2 897.1L1675.1 899L1676.2 900.8L1677.3 902.4L1678.4 903.8L1679.6 904.8L1680.7 905.7L1681.8 906.1L1682.8 906.3L1683.8 906.2L1684.6 905.7L1685.3 904.9L1685.8 903.8L1686.2 902.4L1686.4 900.9L1686.4 899.1L1686.2 897.1L1685.8 895.1L1685.3 893Z" fill="#b3a6cf" fill-opacity="0.70"/>
<path d="M1675.7 907.9L1676.5 905.1L1676.7 902.1L1676.3 899.1L1675.3 896L1673.8 893L1671.7 890.1L1669.2 887.5L1666.3 885.1L1663 883L1659.4 881.3L1655.7 880.1L1651.9 879.3L1648.2 879L1644.5 879.1L1641 879.7L1637.8 880.8L1635 882.4L1632.6 884.3L1630.7 886.6L1629.3 889.1L1628.5 891.9L1628.3 894.9L1628.7 897.9L1629.7 901L1631.2 904L1633.3 906.9L1635.8 909.5L1638.7 911.9L1642 914L1645.6 915.7L1649.3 916.9L1653.1 917.7L1656.8 918L1660.5 917.9L1664 917.3L1667.2 916.2L1670 914.6L1672.4 912.7L1674.3 910.4Z" fill="#54408a" fill-opacity="0.95"/>
<path d="M1669.8 906.6L1670.4 904.5L1670.6 902.3L1670.4 899.9L1669.6 897.6L1668.4 895.2L1666.8 892.9L1664.9 890.8L1662.6 888.9L1660 887.1L1657.2 885.7L1654.3 884.6L1651.3 883.8L1648.3 883.4L1645.4 883.4L1642.6 883.7L1640.1 884.4L1637.8 885.4L1635.9 886.8L1634.3 888.5L1633.2 890.4L1632.6 892.5L1632.4 894.7L1632.6 897.1L1633.4 899.4L1634.6 901.8L1636.2 904.1L1638.1 906.2L1640.4 908.1L1643 909.9L1645.8 911.3L1648.7 912.4L1651.7 913.2L1654.7 913.6L1657.6 913.6L1660.4 913.3L1662.9 912.6L1665.2 911.6L1667.1 910.2L1668.7 908.5Z" fill="#463f86"/>
<path d="M1665 905.4L1665.5 904L1665.6 902.4L1665.4 900.8L1664.9 899.1L1664 897.4L1662.8 895.8L1661.3 894.2L1659.6 892.7L1657.7 891.4L1655.7 890.3L1653.5 889.3L1651.3 888.6L1649.1 888.2L1646.9 888L1644.9 888.1L1643 888.5L1641.4 889.1L1640 889.9L1638.8 891L1638 892.2L1637.5 893.6L1637.4 895.2L1637.6 896.8L1638.1 898.5L1639 900.2L1640.2 901.8L1641.7 903.4L1643.4 904.9L1645.3 906.2L1647.3 907.3L1649.5 908.3L1651.7 909L1653.9 909.4L1656.1 909.6L1658.1 909.5L1660 909.1L1661.6 908.5L1663 907.7L1664.2 906.6Z" fill="#3b4a80"/>
<path d="M1659.4 903.5L1659.6 902.8L1659.6 902L1659.4 901.2L1659 900.3L1658.4 899.3L1657.6 898.4L1656.7 897.5L1655.6 896.6L1654.4 895.8L1653.1 895L1651.8 894.4L1650.4 893.8L1649.1 893.4L1647.8 893.2L1646.6 893L1645.5 893.1L1644.5 893.2L1643.7 893.5L1643 894L1642.6 894.5L1642.4 895.2L1642.4 896L1642.6 896.8L1643 897.7L1643.6 898.7L1644.4 899.6L1645.3 900.5L1646.4 901.4L1647.6 902.2L1648.9 903L1650.2 903.6L1651.6 904.2L1652.9 904.6L1654.2 904.8L1655.4 905L1656.5 904.9L1657.5 904.8L1658.3 904.5L1659 904Z" fill="#344470"/>
<path d="M1597.6 938.4L1594.1 944.3L1589.4 945L1583.6 944.9L1579.9 948.3L1576.8 951.8L1574.5 955.7L1570.4 958L1567.9 962.7L1564.5 966.6L1562.5 971.3L1558.7 974.9L1556.5 979.7L1553.8 984L1552.2 989L1550.9 993.8L1549.1 998.5L1547.3 1003.5L1548 1008.1L1549.2 1012.3L1550 1016.6L1552.1 1021.7L1556.9 1024.5L1559 1028.9L1561.5 1033.5L1564.7 1037.5L1567.8 1041.4L1570.5 1045.9L1577.5 1049.2L1582.5 1048.9L1587.3 1049.2L1592.2 1049.3L1597 1049.1L1602.1 1049.2L1606 1047.7L1610.7 1049.3L1615.2 1047.2L1619.3 1044.1L1622.1 1040L1626.7 1038.1L1629.7 1033.7L1632.9 1029.4L1634.2 1024.3L1638.5 1020.7L1638.9 1014.9L1642.7 1011.3L1644.1 1006.2L1648.1 1002.6L1650.3 997.5L1650.7 992.4L1650.1 987.4L1648.8 982.3L1646.6 977.7L1647.2 972.1L1644.3 967.4L1643.9 962.2L1639.9 958.5L1639 953.2L1635.3 949.5L1633.4 944.3L1627.5 944.3L1622.7 944L1620.2 941.9L1619.5 937.2L1613.4 937.8L1608.1 936.9L1603.1 939.1Z" fill="#6a5799" fill-opacity="0.55"/>
<path d="M1598.9 941.2L1597.8 943.2L1596.3 946L1596.3 946.2L1596.2 946.3L1596.1 946.4L1596 946.5L1595.8 946.6L1595.7 946.7L1595.6 946.8L1595.4 946.8L1595.3 946.9L1595.1 946.9L1595 946.9L1594.8 946.9L1591.5 946.7L1588.2 947.9L1588.1 948L1587.9 948L1587.8 948L1587.6 948L1587.5 948L1584.6 947.7L1582 950.3L1581.8 950.5L1578.4 953.1L1575.9 956.7L1575.8 956.8L1575.7 956.9L1575.6 957L1572.4 959.6L1570.8 963.4L1570.8 963.5L1570.7 963.7L1570.6 963.8L1570.5 963.9L1567.5 967L1565.4 970.5L1565.3 970.5L1563.1 974.2L1561.2 978.1L1561.1 978.2L1561 978.3L1558.3 981.7L1556.1 985.3L1554.4 988.6L1553.8 992.4L1553.8 992.5L1553.7 992.7L1552.3 996.5L1550.9 1000.2L1549.9 1003.6L1551.1 1007.3L1551.1 1007.4L1551.1 1007.6L1551.1 1007.8L1551.1 1012L1552.3 1015.7L1554.4 1019L1557.5 1022.1L1557.6 1022.2L1557.7 1022.4L1557.8 1022.5L1559.6 1026.3L1562.6 1029.3L1562.7 1029.4L1562.8 1029.5L1562.9 1029.6L1562.9 1029.8L1563 1029.9L1564.4 1034L1567.2 1036.9L1567.3 1037L1567.4 1037.2L1569.7 1040.8L1572.4 1043.8L1575.1 1045.3L1578 1046.7L1581.6 1046.7L1585.6 1046.5L1585.7 1046.4L1585.9 1046.5L1586 1046.5L1589.8 1047.1L1593.5 1046.5L1593.7 1046.5L1593.9 1046.5L1597.9 1046.7L1601.8 1046.7L1605.8 1046.2L1609.9 1044.9L1610 1044.9L1610.2 1044.9L1610.4 1044.9L1614.1 1045L1617.3 1042.1L1617.4 1042L1617.5 1041.9L1617.6 1041.8L1621.7 1039.6L1624.9 1036.5L1626.9 1033L1629 1029.4L1629 1029.4L1631.1 1025.8L1632.7 1022L1632.8 1021.9L1632.8 1021.7L1632.9 1021.6L1635.4 1018.5L1636.8 1014.7L1636.9 1014.5L1637 1014.4L1637.1 1014.2L1637.2 1014.1L1640.1 1011.2L1641.6 1007.6L1641.6 1007.5L1641.7 1007.4L1641.8 1007.3L1644.2 1004.1L1645.2 1000.2L1645.2 1000L1645.3 999.9L1645.4 999.7L1645.5 999.6L1647.8 996.7L1647.7 992.4L1647.7 992.3L1647.9 987.8L1646.7 984.1L1646.6 983.9L1645.8 980L1644.3 976.2L1644.3 976.1L1644.2 976L1644.2 975.9L1643.7 972L1642 968.4L1641.9 968.3L1641.9 968.1L1641.9 968L1641.8 967.8L1641.5 963.2L1639.2 960.3L1639.1 960.2L1639.1 960L1637.4 956.6L1634.9 953.5L1634.9 953.4L1634.8 953.3L1634.7 953.2L1633.1 949.5L1631.6 946.8L1627.5 946.3L1622.6 946.9L1622.4 946.9L1622.3 946.9L1622.1 946.9L1622 946.9L1621.8 946.8L1621.7 946.8L1621.5 946.7L1621.4 946.6L1621.3 946.5L1621.2 946.4L1621.1 946.3L1621 946.1L1619 942.6L1617.4 939.9L1614.5 939.5L1610.7 940.5L1610.6 940.5L1610.5 940.5L1606.5 940.8L1602.5 941.5L1602.4 941.5L1602.2 941.5L1602.1 941.5Z" fill="#533f89" fill-opacity="0.80"/>
<defs><path id="p10" d="M1599.8 942.9L1599.2 943.9L1597.8 946.7L1597.6 947L1597.4 947.3L1597.2 947.5L1597 947.7L1596.8 947.9L1596.5 948.1L1596.2 948.2L1595.9 948.3L1595.7 948.4L1595.3 948.5L1595 948.5L1594.7 948.5L1591.7 948.3L1588.8 949.4L1588.5 949.5L1588.2 949.6L1587.9 949.6L1587.6 949.6L1587.3 949.6L1585.2 949.4L1583.1 951.5L1582.8 951.7L1579.6 954.3L1577.2 957.6L1577 957.8L1576.8 958L1576.6 958.2L1573.7 960.6L1572.3 964L1572.2 964.3L1572 964.6L1571.8 964.8L1571.6 965L1568.8 967.9L1566.7 971.4L1566.7 971.4L1564.5 975L1562.6 978.8L1562.4 979.1L1562.2 979.3L1559.6 982.6L1557.5 986.1L1555.9 989.1L1555.4 992.6L1555.3 992.9L1555.2 993.3L1553.8 997L1552.4 1000.7L1551.6 1003.6L1552.6 1006.8L1552.7 1007.1L1552.7 1007.4L1552.7 1007.8L1552.7 1011.7L1553.7 1015L1555.7 1018L1558.6 1021L1558.9 1021.2L1559.1 1021.5L1559.2 1021.9L1560.9 1025.4L1563.7 1028.1L1563.9 1028.4L1564.1 1028.6L1564.3 1028.8L1564.4 1029.1L1564.5 1029.4L1565.8 1033.1L1568.4 1035.8L1568.5 1036.1L1568.7 1036.3L1571 1039.8L1573.4 1042.6L1575.9 1043.9L1578.4 1045.1L1581.6 1045.1L1585.5 1044.9L1585.7 1044.8L1586 1044.9L1586.3 1044.9L1589.8 1045.5L1593.2 1044.9L1593.6 1044.9L1594 1044.9L1598 1045.1L1601.7 1045.1L1605.5 1044.6L1609.4 1043.4L1609.7 1043.3L1610.1 1043.3L1610.4 1043.3L1613.5 1043.4L1616.2 1040.9L1616.4 1040.7L1616.6 1040.6L1616.9 1040.4L1620.8 1038.3L1623.6 1035.5L1625.5 1032.2L1627.6 1028.6L1627.6 1028.6L1629.7 1025.1L1631.2 1021.4L1631.3 1021.1L1631.5 1020.9L1631.7 1020.6L1634 1017.7L1635.3 1014.1L1635.4 1013.8L1635.6 1013.5L1635.8 1013.2L1636.1 1013L1638.7 1010.3L1640.1 1007L1640.2 1006.7L1640.3 1006.5L1640.5 1006.3L1642.7 1003.4L1643.6 999.8L1643.7 999.5L1643.9 999.2L1644 998.9L1644.2 998.6L1646.2 996.1L1646.1 992.4L1646.1 992.3L1646.3 988.1L1645.1 984.6L1645.1 984.3L1644.3 980.5L1642.8 976.8L1642.7 976.6L1642.7 976.3L1642.6 976.1L1642.2 972.4L1640.6 969.1L1640.4 968.9L1640.3 968.6L1640.3 968.3L1640.2 968L1639.9 963.8L1638 961.3L1637.8 961L1637.6 960.7L1636 957.4L1633.7 954.5L1633.5 954.3L1633.4 954.1L1633.3 953.8L1631.7 950.3L1630.6 948.3L1627.5 947.9L1622.8 948.5L1622.5 948.5L1622.2 948.5L1621.9 948.5L1621.5 948.4L1621.2 948.3L1621 948.2L1620.7 948L1620.4 947.9L1620.2 947.7L1620 947.4L1619.8 947.2L1619.6 946.9L1617.6 943.4L1616.4 941.4L1614.6 941.1L1611.1 942L1610.9 942.1L1610.6 942.1L1606.7 942.4L1602.8 943.1L1602.5 943.1L1602.2 943.1L1601.9 943.1Z"/><clipPath id="c10"><use href="#p10"/></clipPath></defs>
<use href="#p10" fill="#53bd60"/>
<g clip-path="url(#c10)" fill="none" stroke-linejoin="round"><use href="#p10" stroke="#37b170" stroke-width="24"/><use href="#p10" stroke="#24a37b" stroke-width="21.3"/><use href="#p10" stroke="#1d9483" stroke-width="18.7"/><use href="#p10" stroke="#208686" stroke-width="16"/><use href="#p10" stroke="#267989" stroke-width="13.3"/><use href="#p10" stroke="#2d6c8b" stroke-width="10.7"/><use href="#p10" stroke="#355e8d" stroke-width="8"/><use href="#p10" stroke="#3e4e8d" stroke-width="5.3"/><use href="#p10" stroke="#473d88" stroke-width="2.7"/></g>
<path d="M1625.7 971.2L1623.6 968.8L1621.2 966.8L1618.3 965.3L1615.2 964.2L1611.8 963.7L1608.3 963.7L1604.7 964.2L1601.2 965.2L1597.7 966.7L1594.5 968.6L1591.6 971L1589 973.7L1586.9 976.7L1585.2 979.8L1584 983.1L1583.4 986.5L1583.3 989.8L1583.8 993L1584.8 996L1586.3 998.8L1588.4 1001.2L1590.8 1003.2L1593.7 1004.7L1596.8 1005.8L1600.2 1006.3L1603.7 1006.3L1607.3 1005.8L1610.8 1004.8L1614.3 1003.3L1617.5 1001.4L1620.4 999L1623 996.3L1625.1 993.3L1626.8 990.2L1628 986.9L1628.6 983.5L1628.7 980.2L1628.2 977L1627.2 974Z" fill="#8ccf3f" fill-opacity="0.90" filter="url(#b2)"/>
<path d="M1588 1014L1587.9 1012.1L1587.5 1010.3L1586.8 1008.6L1585.9 1006.9L1584.8 1005.5L1583.5 1004.3L1582 1003.3L1580.4 1002.6L1578.7 1002.1L1577 1002L1575.3 1002.1L1573.6 1002.6L1572 1003.3L1570.5 1004.3L1569.2 1005.5L1568.1 1006.9L1567.2 1008.6L1566.5 1010.3L1566.1 1012.1L1566 1014L1566.1 1015.9L1566.5 1017.7L1567.2 1019.4L1568.1 1021.1L1569.2 1022.5L1570.5 1023.7L1572 1024.7L1573.6 1025.4L1575.3 1025.9L1577 1026L1578.7 1025.9L1580.4 1025.4L1582 1024.7L1583.5 1023.7L1584.8 1022.5L1585.9 1021.1L1586.8 1019.4L1587.5 1017.7L1587.9 1015.9Z" fill="#9ccc38" fill-opacity="0.85" filter="url(#b2)"/>
<path d="M1611 1024L1610.9 1022.7L1610.6 1021.5L1610 1020.4L1609.3 1019.3L1608.4 1018.3L1607.3 1017.5L1606.1 1016.9L1604.8 1016.4L1603.4 1016.1L1602 1016L1600.6 1016.1L1599.2 1016.4L1597.9 1016.9L1596.7 1017.5L1595.6 1018.3L1594.7 1019.3L1594 1020.4L1593.4 1021.5L1593.1 1022.7L1593 1024L1593.1 1025.3L1593.4 1026.5L1594 1027.6L1594.7 1028.7L1595.6 1029.7L1596.7 1030.5L1597.9 1031.1L1599.2 1031.6L1600.6 1031.9L1602 1032L1603.4 1031.9L1604.8 1031.6L1606.1 1031.1L1607.3 1030.5L1608.4 1029.7L1609.3 1028.7L1610 1027.6L1610.6 1026.5L1610.9 1025.3Z" fill="#98cc3a" fill-opacity="0.80" filter="url(#b2)"/>
<path d="M1609.9 954.9L1613.6 964.7L1616.2 959.8L1616.2 959.8L1615.9 959.6L1614.8 959.1L1614.5 958.9L1613.5 958.3L1613.2 958.1L1612.2 957.3L1612 957.1L1611.1 956.2L1610.9 956L1610.1 955.1L1610 954.9ZM1615.7 963.4L1623.9 962.3L1623.9 962.3L1623.7 962L1623.5 961.7L1623 961L1622.2 961L1621.9 961L1620.7 960.9L1620.3 960.9L1619.1 960.7L1618.8 960.6L1617.6 960.3L1617.3 960.2L1617.3 960.2ZM1588.2 971.2L1595.2 964.7L1588.6 963.2L1587.4 964.9L1587 965.3L1586.9 965.5L1586.2 966.3L1586 966.5L1585.9 966.6ZM1599.4 970.6L1603.3 963.6L1594.6 963.8ZM1599.1 973.3L1608.6 973.3L1603.9 964.5ZM1623.9 964.1L1619.1 972.8L1628.6 972.9L1628.6 972.8L1628.5 972.5L1628.2 971.4ZM1579.5 990.2L1590.7 990.2L1585.3 980.8ZM1609.2 988.6L1619.9 989.3L1615.8 979.3ZM1618.4 989L1628.5 990.6L1625.5 981.5ZM1628.3 987.9L1633.4 989L1633.3 988.5L1633.1 987.9L1633 987.5L1632.8 986.8L1632.2 984L1631.9 983.1ZM1594.3 999.2L1598.8 989L1589 990.7ZM1631 990L1632.9 993.2L1633 993L1633.1 992.7L1633.6 991.9L1633.6 991.8L1633.7 989.8L1633.5 989.3ZM1570.1 1007.6L1575.1 997.1L1566.9 997.6L1566.9 997.7L1565.7 1000.9ZM1600.4 1006.6L1609.1 1007.9L1605.3 998.1ZM1608.5 1006.7L1619.9 1006.4L1613.9 998.5ZM1619.8 1007.5L1624.9 997.1L1615 996.6ZM1575.5 1014.1L1580.1 1007.2L1570.6 1006.2ZM1586 1015.8L1595.4 1016L1591 1006.2ZM1593.2 1016.3L1600.4 1007L1589.2 1005.5ZM1606.1 1014.9L1613.6 1015.8L1610.4 1007.3ZM1620.5 1005.6L1614.1 1014.4L1620.9 1014.3L1621.3 1013.6L1621.5 1013.4L1621.8 1012.9L1623 1011.5L1623.4 1010.2ZM1589 1022.5L1593.4 1015.1L1585.2 1015.7ZM1588.4 1023.7L1598.6 1025.1L1594.5 1014.7ZM1600.9 1023.8L1610.2 1022.8L1604.8 1015.4ZM1614.3 1015.2L1609.5 1024.3L1616.3 1023.2L1616.8 1022.3L1616.8 1022.3L1616.8 1022.3L1616.9 1022.2L1617.7 1020.8ZM1580.5 1024.1L1575.8 1024.1L1576 1024.6L1576.2 1024.9L1576.4 1025.4L1576.7 1026.5L1577.4 1027.2L1577.8 1027.7L1577.9 1027.7ZM1583.2 1031.4L1580.4 1024.1L1577.9 1027.8L1578 1027.9L1578.7 1028.8L1578.9 1029L1579.2 1029.5L1580.9 1032.1ZM1583.8 1031.4L1594.3 1031.6L1589.7 1025.3ZM1600.4 1023.2L1594.2 1032.3L1603 1032.3L1604.5 1031.8Z" fill="#000" fill-opacity="0.05"/>
<path d="M1594.2 962.6L1604.9 962.9L1602.2 959.2L1602 959.3L1600.9 959.8L1600.6 959.9L1599.5 960.3L1599.2 960.4L1598 960.7L1597.7 960.7L1596.5 960.9L1596.2 960.9L1595 961L1595 961ZM1605.5 962.5L1610.1 955.1L1610.1 955.1L1609.9 954.8L1609.8 954.7L1608.2 954.8L1607.2 955L1606.9 955.4L1606.7 955.6L1605.9 956.5L1605.7 956.7L1604.8 957.5L1604.5 957.7L1603.6 958.4L1603.3 958.6L1602.9 958.8ZM1590.2 971.1L1586.3 966.2L1586.2 966.3L1586 966.5L1585.2 967.3L1585 967.5L1584.6 967.8L1584.1 968.3L1583.9 968.8L1583.6 969.4L1583.5 969.6L1582.9 970.7L1582.8 971L1582.3 971.6ZM1583.4 980.5L1589.7 971.1L1582 972L1581.9 972.2L1581.2 973.1L1581.1 973.2ZM1583.6 980.3L1594.1 979.3L1590.4 970.7ZM1595.1 981.9L1598.5 972.1L1588.9 971.1ZM1614.9 980.5L1618.3 971.4L1610.6 971.9ZM1589.5 988.3L1598.5 990.7L1595.9 981.2ZM1619.1 989.7L1626.1 980.2L1615.7 980.9ZM1575.1 996.7L1579.1 988.7L1570.8 988.7L1570.2 989.4ZM1574.9 997.1L1584.4 996.8L1580.2 988.8ZM1623.6 997.5L1630.4 989.8L1619.4 988.4ZM1630.1 988.6L1625.7 997.4L1630.8 998.4L1631.2 997.9L1631.5 996.7L1631.7 996L1631.8 995.7L1632.3 994.5L1632.4 994.2L1632.5 994ZM1570.1 1007.4L1566 1000L1565.5 1001.4L1564.7 1003.6L1564.7 1003.6L1564.8 1003.9L1565 1005.2L1565.1 1005.5L1565.2 1006.4ZM1624.4 999.2L1619.5 1007.5L1625.3 1006.5L1625.5 1006.2L1625.7 1005.9L1626.6 1004.8L1626.8 1004.6L1627.3 1004.1L1628.1 1003.3ZM1623.5 997.6L1627.1 1004.2L1627.3 1004.1L1628.1 1003.2L1628.6 1002.2L1628.8 1001.7L1628.9 1001.5L1629.4 1000.5L1629.5 1000.3L1630.1 999.4L1630.2 999.2L1630.5 998.7L1630.6 998.6ZM1570.6 1005.4L1565.2 1006.4L1565.2 1006.8L1565.2 1007.2L1565.2 1007.8L1565.2 1009.8L1565.4 1010.1L1566.9 1011.6ZM1573.4 1014.8L1583.9 1016.5L1580.8 1005.2ZM1585.6 1014.5L1589.1 1005.9L1578.9 1006.6ZM1614.8 1016.7L1619.7 1006.4L1608.5 1007.6ZM1580.1 1022.6L1589.3 1024.3L1585.9 1016.8ZM1600.9 1022.5L1605.7 1014L1594.7 1014.5ZM1614 1015.8L1617.8 1020.6L1618.4 1019.5L1619.7 1016.6L1619.9 1016.1L1620 1015.8L1620.1 1015.6ZM1610.8 1024.5L1606.1 1031.3L1606.3 1031.3L1606.7 1031.2L1608 1030.9L1608.4 1030.9L1608.7 1030.9L1609.2 1030.5L1609.4 1030.4L1610.2 1029.8L1610.5 1029.7L1610.9 1029.4L1612.7 1028.5Z" fill="#fff" fill-opacity="0.05"/>
<defs><path id="p11" d="M299.8 1271.9L297.1 1274L296.5 1277.5L293.4 1279.1L293 1282.7L289.5 1284.1L288.5 1287.3L286 1289.7L286.2 1293.4L283.4 1295.9L283.7 1299.6L280.4 1301.8L280.7 1305.6L278.3 1308.2L279.9 1311.2L278.1 1314.4L280.3 1317.3L278.6 1320.5L281 1323.4L279.1 1326.6L280.6 1329.5L279.6 1332.7L281.6 1335.6L280 1338.8L282 1341.8L280.5 1345L282.3 1348L281.2 1351.2L282.8 1354.2L281.3 1357.4L283.3 1360.4L282 1363.6L283.2 1366.6L281.4 1370L282.6 1373.8L280.9 1377.2L278.6 1378.8L275.3 1377.6L273 1380.3L269.8 1379.5L267.2 1381L264.5 1382L263.3 1385L260 1385.4L258.5 1388L256.1 1390.2L256.7 1393.9L253.8 1396L254 1399.4L251.9 1401.9L253.1 1405.2L251.2 1408.4L252.9 1411.5L251.2 1414.7L252.4 1417.9L252.5 1421.1L255.2 1423.3L255.1 1426.7L257.9 1428.8L258 1432.1L261.2 1433.8L262.7 1437.1L266.4 1438.2L267.7 1441.7L270.8 1443.3L273.8 1444.2L276.8 1442.4L280 1443.7L283 1442.3L284.9 1444.9L288.4 1445.3L290 1448.1L292.7 1449.9L293.5 1453.4L296.9 1454.9L297.6 1458.5L300.9 1459.9L301.7 1463.5L304.4 1465.4L306.8 1467.7L310.5 1467L313 1469.3L314.7 1471.9L313.2 1475.2L315.1 1478L315.9 1481L318.8 1483L319.1 1486.5L321.9 1488.5L322.2 1492L325.3 1493.9L325.6 1497.4L328.7 1499.2L328.6 1503L331.8 1504.8L332 1508.3L335 1510.2L335.7 1513.5L339.1 1512.5L342 1514.7L345.2 1513L348.1 1515L351.2 1513.8L354.1 1515.9L357.2 1514.8L358.2 1517.9L361.4 1519L361.8 1522.3L364.5 1523.7L367.8 1524.5L371.4 1522.9L374.9 1524.2L375.1 1521L377 1518.7L379.7 1516.8L383.5 1517.5L386.2 1514.5L390.1 1515.4L392.9 1512.9L396.6 1513.5L399.5 1511.2L402.2 1509.1L402.1 1505.2L405.3 1503.1L405.3 1499.3L408.6 1497.3L409.1 1493.7L409.4 1490.7L407.1 1487.9L408.1 1484.4L406.5 1481.5L408.3 1478.8L407.7 1475.4L409.6 1472.8L407.2 1470.2L406.8 1466.6L403.8 1464.6L403.2 1461.1L400.4 1458.9L399.9 1455.4L396.8 1453.4L396.8 1449.6L393.4 1447.8L392.8 1444.3L388.9 1445L385.5 1443.3L382.8 1440.8L382.6 1436.7L380 1433.9L383.4 1433.3L385.8 1430.7L389.1 1430.5L390.5 1427.5L393.8 1426.5L394.7 1423.2L398.2 1422.4L399.4 1419.4L402.6 1418.5L404.3 1415.2L408.1 1415.2L410.1 1412.4L412.6 1410.4L412.7 1406.8L416 1405.1L416 1401.4L419.1 1399.7L419.4 1396.2L422.4 1394.4L423.3 1391.2L423.2 1388.1L420.1 1386.1L420.4 1382.6L418 1380.3L417.5 1377.1L416.5 1373.7L418.2 1370.2L416.3 1366.6L417.6 1363.1L414.7 1361L414.4 1357.3L411.2 1355.7L410.9 1352L407.9 1350.2L407.2 1346.8L404.3 1345L403.9 1341.4L401.2 1339.4L398.7 1337.4L395.2 1338.1L392.8 1335.5L389.4 1335.8L387 1333.1L383.6 1333.4L382.1 1330.5L378.8 1329.5L378 1326.1L374.7 1325.2L373.2 1322.4L369.6 1323.6L366.1 1321.6L362.5 1323.6L359 1322.3L360 1318.9L363.1 1316.6L363.5 1312.7L366.4 1310.2L363.9 1307.5L363.8 1303.8L360.4 1301.8L360.3 1298.1L357.3 1296L357.1 1292.3L354.2 1290.1L354.2 1286.3L351.2 1284.1L350.5 1280.8L346.9 1280L344.6 1277.4L341 1277.2L338.9 1274.1L335 1274.4L332.6 1271.8L329.2 1273L326 1271.1L322.7 1272.9L319.4 1271.2L316.1 1273L312.9 1271.2L309.6 1273.2L306.3 1271.4L303.1 1272.8Z"/><clipPath id="c11"><use href="#p11"/></clipPath></defs>
<use href="#p11" fill="#2a7683"/>
<g clip-path="url(#c11)">
<path d="M296 1464L330 1454L360 1441L383 1436L400 1450L425 1475L425 1530L330 1535L296 1490Z" fill="#434481" filter="url(#b2)"/>
<path d="M391.9 1349.4L387.9 1342.3L383.1 1335.8L377.6 1330L371.3 1325.3L364.7 1321.5L357.7 1318.9L350.5 1317.6L343.4 1317.4L336.5 1318.5L330 1320.9L324.1 1324.4L318.8 1328.9L314.3 1334.5L310.8 1340.8L308.3 1347.8L306.8 1355.3L306.5 1363.2L307.3 1371.1L309.2 1379L312.1 1386.6L316.1 1393.7L320.9 1400.2L326.4 1406L332.7 1410.7L339.3 1414.5L346.3 1417.1L353.5 1418.4L360.6 1418.6L367.5 1417.5L374 1415.1L379.9 1411.6L385.2 1407.1L389.7 1401.5L393.2 1395.2L395.7 1388.2L397.2 1380.7L397.5 1372.8L396.7 1364.9L394.8 1357Z" fill="#26877c" fill-opacity="0.80" filter="url(#b3)"/>
<path d="M352.1 1306.9L352.8 1303.9L352.7 1300.6L351.9 1297.2L350.3 1293.8L348.1 1290.4L345.2 1287.2L341.7 1284.2L337.8 1281.5L333.5 1279.1L328.8 1277.2L324.1 1275.7L319.2 1274.7L314.4 1274.3L309.9 1274.4L305.6 1275L301.7 1276.1L298.3 1277.7L295.5 1279.8L293.4 1282.3L291.9 1285.1L291.2 1288.1L291.3 1291.4L292.1 1294.8L293.7 1298.2L295.9 1301.6L298.8 1304.8L302.3 1307.8L306.2 1310.5L310.5 1312.9L315.2 1314.8L319.9 1316.3L324.8 1317.3L329.6 1317.7L334.1 1317.6L338.4 1317L342.3 1315.9L345.7 1314.3L348.5 1312.2L350.6 1309.7Z" fill="#2b6f88" fill-opacity="0.55" filter="url(#b3)"/>
<path d="M373 1449L371.9 1446.1L370 1443.4L367.6 1441L364.6 1439.1L361.1 1437.5L357.3 1436.5L353.1 1435.9L348.7 1435.8L344.3 1436.2L339.8 1437.2L335.5 1438.6L331.4 1440.4L327.7 1442.7L324.3 1445.3L321.5 1448.1L319.3 1451.2L317.7 1454.4L316.8 1457.7L316.5 1460.9L317 1464L318.1 1466.9L320 1469.6L322.4 1472L325.4 1473.9L328.9 1475.5L332.7 1476.5L336.9 1477.1L341.3 1477.2L345.7 1476.8L350.2 1475.8L354.5 1474.4L358.6 1472.6L362.3 1470.3L365.7 1467.7L368.5 1464.9L370.7 1461.8L372.3 1458.6L373.2 1455.3L373.5 1452.1Z" fill="#2a9b7d" filter="url(#b2)"/>
<path d="M367.2 1450.5L366.3 1448.4L364.9 1446.4L363 1444.6L360.7 1443.2L358 1442L354.9 1441.3L351.6 1440.9L348.2 1440.9L344.6 1441.3L341.1 1442L337.7 1443.1L334.4 1444.6L331.5 1446.3L328.8 1448.3L326.5 1450.5L324.7 1452.8L323.4 1455.2L322.7 1457.7L322.4 1460.1L322.8 1462.5L323.7 1464.6L325.1 1466.6L327 1468.4L329.3 1469.8L332 1471L335.1 1471.7L338.4 1472.1L341.8 1472.1L345.4 1471.7L348.9 1471L352.3 1469.9L355.6 1468.4L358.5 1466.7L361.2 1464.7L363.5 1462.5L365.3 1460.2L366.6 1457.8L367.3 1455.3L367.6 1452.9Z" fill="#25a578" filter="url(#b1)"/>
</g>
<path d="M358.4 1325L358.4 1324.8L358.3 1324.6L358.2 1324.2L358.2 1324.1L358 1323.6L358 1323.5L357.7 1323.1L357.7 1323L357.4 1322.6L357.3 1322.5L357.1 1322.1L357 1322L356.7 1321.7L356.5 1321.6L356.2 1321.3L356.1 1321.2L355.7 1320.9L355.6 1320.9L355.2 1320.6L355 1320.6L354.6 1320.4L354.5 1320.3L354.1 1320.2L353.9 1320.2L353.5 1320.1L353.3 1320.1L352.9 1320L352.7 1320L352.3 1320L352.1 1320L351.7 1320.1L351.5 1320.1L351.1 1320.2L350.9 1320.2L350.7 1320.3L336.2 1324.8L336 1324.8L335.8 1324.9L335.4 1325.1L335.3 1325.2L334.9 1325.4L334.7 1325.5L334.3 1325.7L334.2 1325.8L333.9 1326.2L333.8 1326.3L333.4 1326.6L333.3 1326.7L333.2 1326.9L320.2 1344.4L320.1 1344.6L320 1344.7L319.7 1345.1L319.7 1345.3L319.5 1345.7L319.4 1345.8L319.3 1346.3L319.2 1346.4L319.1 1346.9L319.1 1347L319 1347.5L319 1347.6L319 1347.9L318.5 1371.8L318.5 1372L318.5 1372.1L318.5 1372.6L318.6 1372.7L318.6 1373.2L318.7 1373.3L318.8 1373.8L318.8 1373.9L319 1374.3L319.1 1374.5L319.3 1374.8L319.4 1375L319.5 1375.2L331 1392.9L331.1 1393L331.2 1393.1L331.4 1393.4L331.5 1393.5L331.8 1393.8L331.8 1393.9L332 1394.1L349.7 1410L349.9 1410.1L350 1410.2L350.3 1410.5L350.5 1410.5L350.8 1410.8L351 1410.8L351.4 1411L351.5 1411.1L351.7 1411.2L369.4 1417.4L369.6 1417.4L369.7 1417.5L370.1 1417.6L370.3 1417.6L370.7 1417.7L370.8 1417.7L371.2 1417.7L371.4 1417.7L371.8 1417.7L371.9 1417.7L372.3 1417.6L372.5 1417.6L372.9 1417.5L373 1417.5L373.2 1417.4L387.3 1413L387.5 1413L387.6 1412.9L388 1412.7L388.1 1412.7L388.5 1412.5L388.6 1412.4L389 1412.2L389.1 1412.1L389.4 1411.8L389.6 1411.7L389.9 1411.4L390 1411.3L390.2 1411L390.3 1410.9L390.6 1410.5L390.6 1410.4L390.8 1410L390.9 1409.9L391.1 1409.5L391.1 1409.4L391.2 1409.2L394.7 1398.6L394.8 1398.4L394.8 1398.2L394.9 1397.8L394.9 1397.6L395 1397.2L395 1397L395 1396.5L395 1396.4L394.9 1395.9L394.9 1395.8L394.8 1395.3L394.8 1395.2L394.7 1394.7L394.6 1394.6L394.4 1394.2L394.4 1394L394.2 1393.6L394.1 1393.5L394 1393.3L386 1381.6L385.8 1381.4L385.7 1381.3L385.5 1381L385.4 1380.9L385.1 1380.6L384.9 1380.5L384.6 1380.2L384.5 1380.1L384.1 1379.9L384 1379.8L383.8 1379.7L369 1371.8L359.2 1365.7L356.7 1355.9L360.4 1339.8L360.5 1339.5L360.5 1339.4L360.6 1339L360.6 1338.8L360.6 1338.4L360.6 1338.2L360.6 1337.8L360.5 1337.6L360.5 1337.4Z" fill="#2a9f7c" fill-opacity="0.85" filter="url(#b1)"/>
<path d="M356.1 1325.4L356.1 1325.3L356.1 1325.1L356 1324.9L356 1324.8L355.9 1324.6L355.8 1324.4L355.7 1324.2L355.7 1324.1L355.6 1323.9L355.5 1323.8L355.3 1323.6L355.2 1323.5L355.1 1323.3L355 1323.2L354.8 1323.1L354.7 1323L354.5 1322.9L354.4 1322.8L354.2 1322.7L354 1322.6L353.8 1322.6L353.7 1322.5L353.5 1322.4L353.3 1322.4L353.1 1322.4L353 1322.3L352.8 1322.3L352.6 1322.3L352.4 1322.3L352.2 1322.3L352 1322.3L351.9 1322.4L351.7 1322.4L351.5 1322.4L351.4 1322.5L336.9 1327L336.8 1327L336.6 1327.1L336.4 1327.1L336.3 1327.2L336.1 1327.3L336 1327.4L335.8 1327.6L335.6 1327.6L335.5 1327.8L335.4 1327.9L335.2 1328.1L335.1 1328.2L335 1328.3L322 1345.8L322 1345.9L321.9 1346L321.8 1346.2L321.7 1346.3L321.6 1346.6L321.5 1346.7L321.5 1346.9L321.4 1347.1L321.4 1347.3L321.3 1347.4L321.3 1347.7L321.3 1347.8L321.3 1347.9L320.8 1371.8L320.8 1371.9L320.8 1372.1L320.8 1372.3L320.8 1372.4L320.9 1372.7L320.9 1372.8L321 1373L321 1373.2L321.1 1373.4L321.2 1373.5L321.3 1373.7L321.3 1373.8L321.4 1373.9L332.9 1391.6L333 1391.7L333 1391.8L333.1 1392L333.2 1392.1L333.4 1392.2L333.5 1392.3L333.5 1392.4L351.2 1408.3L351.3 1408.3L351.4 1408.4L351.6 1408.5L351.7 1408.6L351.9 1408.7L352 1408.8L352.2 1408.9L352.4 1409L352.5 1409L370.2 1415.2L370.3 1415.2L370.4 1415.3L370.6 1415.3L370.7 1415.3L370.9 1415.4L371.1 1415.4L371.3 1415.4L371.4 1415.4L371.6 1415.4L371.7 1415.4L371.9 1415.4L372.1 1415.3L372.3 1415.3L372.4 1415.3L372.5 1415.2L386.6 1410.8L386.7 1410.8L386.8 1410.7L387 1410.7L387.2 1410.6L387.3 1410.5L387.5 1410.4L387.6 1410.3L387.8 1410.2L387.9 1410.1L388 1410L388.2 1409.9L388.3 1409.8L388.4 1409.6L388.5 1409.5L388.6 1409.3L388.7 1409.2L388.8 1409L388.8 1408.9L388.9 1408.7L389 1408.6L389 1408.5L392.5 1397.9L392.5 1397.8L392.6 1397.6L392.6 1397.4L392.7 1397.2L392.7 1397L392.7 1396.9L392.7 1396.6L392.7 1396.5L392.7 1396.3L392.7 1396.1L392.6 1395.9L392.6 1395.7L392.5 1395.5L392.5 1395.4L392.4 1395.2L392.3 1395L392.2 1394.8L392.1 1394.7L392.1 1394.6L384.1 1382.9L384 1382.8L383.9 1382.7L383.8 1382.5L383.7 1382.4L383.5 1382.3L383.4 1382.2L383.2 1382.1L383.1 1382L383 1381.9L382.8 1381.8L382.7 1381.7L367.9 1373.8L357.2 1367.1L354.3 1356L358.2 1339.2L358.2 1339.1L358.3 1339L358.3 1338.8L358.3 1338.6L358.3 1338.4L358.3 1338.3L358.3 1338L358.3 1337.9L358.2 1337.8Z" fill="#5ec35e" filter="url(#b1)"/>
<path d="M353.7 1325.8L353.7 1325.7L353.6 1325.6L353.6 1325.5L353.5 1325.4L353.4 1325.3L353.4 1325.2L353.3 1325.1L353.2 1325L353.1 1324.9L353 1324.9L352.9 1324.9L352.7 1324.8L352.6 1324.8L352.5 1324.8L352.4 1324.8L352.3 1324.8L352.1 1324.9L337.7 1329.4L337.5 1329.4L337.4 1329.5L337.3 1329.5L337.2 1329.6L337.1 1329.7L337 1329.8L324 1347.3L324 1347.4L323.9 1347.5L323.9 1347.6L323.8 1347.7L323.8 1347.9L323.8 1348L323.3 1371.9L323.3 1372L323.3 1372.1L323.3 1372.2L323.4 1372.3L323.4 1372.5L323.5 1372.6L335 1390.2L335.1 1390.3L335.1 1390.4L335.2 1390.5L352.9 1406.4L353 1406.5L353.1 1406.5L353.2 1406.6L353.3 1406.6L371 1412.8L371.1 1412.9L371.2 1412.9L371.3 1412.9L371.4 1412.9L371.5 1412.9L371.7 1412.9L371.8 1412.8L385.9 1408.4L386 1408.4L386.1 1408.4L386.2 1408.3L386.3 1408.2L386.3 1408.2L386.4 1408.1L386.5 1408L386.5 1407.9L386.6 1407.8L386.6 1407.7L390.1 1397.1L390.2 1397L390.2 1396.8L390.2 1396.7L390.2 1396.6L390.2 1396.5L390.1 1396.4L390.1 1396.2L390.1 1396.1L390 1396L382 1384.3L381.9 1384.2L381.8 1384.1L381.8 1384.1L381.7 1384L381.6 1383.9L366.6 1376L366.6 1376L355.1 1368.8L355.1 1368.8L355.1 1368.8L355.1 1368.7L355.1 1368.7L355 1368.7L355 1368.7L355 1368.6L355 1368.6L351.8 1356.1L351.7 1356L351.7 1356L351.7 1356L351.7 1355.9L351.8 1355.9L355.8 1338.7L355.8 1338.6L355.8 1338.4L355.8 1338.3L355.8 1338.2Z" fill="#c3d92b"/>
<path d="M338 1335L351 1330L348 1366L338 1378L328 1368L327 1350Z" fill="#b7c62a" fill-opacity="0.85" filter="url(#b1)"/>
<path d="M291.2 1426L293.2 1430.5L293.3 1430.7L293.5 1430.9L293.6 1431.1L293.8 1431.3L293.9 1431.5L294.1 1431.6L294.4 1431.7L294.6 1431.8L294.8 1431.9L295 1432L295.3 1432L295.5 1432L295.8 1432L296 1431.9L296.2 1431.9L296.5 1431.8L296.7 1431.7L296.9 1431.6L299.9 1429.6L300.1 1429.4L300.3 1429.3L300.4 1429.1L300.6 1428.9L300.7 1428.7L300.8 1428.4L303.8 1421L306.8 1414.5L306.9 1414.3L306.9 1414.1L307 1413.8L307 1413.6L307 1413.3L307 1413.1L306.9 1412.8L306.8 1412.6L306.7 1412.4L306.6 1412.2L306.5 1412L306.3 1411.8L306.1 1411.6L305.9 1411.4L305.7 1411.3L305.5 1411.2L305.3 1411.1L305 1411.1L304.8 1411L304.5 1411L304.3 1411L304 1411L303.8 1411.1L303.5 1411.2L303.3 1411.3L295.8 1415.3L295.6 1415.4L295.4 1415.5L295.3 1415.7L295.1 1415.9L295 1416L294.8 1416.2L294.7 1416.4L291.2 1423.9L291.1 1424.2L291.1 1424.4L291 1424.6L291 1424.9L291 1425.1L291 1425.3L291.1 1425.6L291.1 1425.8Z" fill="#3fb172" fill-opacity="0.85" filter="url(#b1)"/>
<path d="M292.8 1425.3L294.8 1429.8L294.8 1429.9L294.8 1430L294.9 1430L294.9 1430.1L295 1430.1L295.1 1430.2L295.1 1430.2L295.2 1430.2L295.3 1430.3L295.4 1430.3L295.4 1430.3L295.5 1430.3L295.6 1430.3L295.7 1430.3L295.7 1430.3L295.8 1430.2L295.9 1430.2L295.9 1430.2L298.9 1428.2L299 1428.1L299.1 1428.1L299.1 1428L299.2 1427.9L299.2 1427.9L299.2 1427.8L302.2 1420.3L305.2 1413.8L305.3 1413.8L305.3 1413.7L305.3 1413.6L305.3 1413.5L305.3 1413.4L305.3 1413.4L305.3 1413.3L305.2 1413.2L305.2 1413.1L305.2 1413.1L305.1 1413L305.1 1412.9L305 1412.9L305 1412.8L304.9 1412.8L304.8 1412.8L304.7 1412.7L304.7 1412.7L304.6 1412.7L304.5 1412.7L304.4 1412.7L304.3 1412.7L304.3 1412.7L304.2 1412.8L304.1 1412.8L296.6 1416.8L296.6 1416.8L296.5 1416.9L296.4 1416.9L296.4 1417L296.3 1417L296.3 1417.1L296.3 1417.2L292.8 1424.7L292.7 1424.7L292.7 1424.8L292.7 1424.9L292.7 1425L292.7 1425L292.7 1425.1L292.7 1425.2L292.7 1425.3Z" fill="#8fcf45" fill-opacity="0.90" filter="url(#b1)"/>
<path d="M294.2 1425L295.8 1428.6L298 1427.1L300.9 1419.8L301 1419.7L303.2 1414.9L297.5 1417.9Z" fill="#c0d92e"/>
<path d="M304.6 1284.1L313.8 1285.3L310 1278.1L309.7 1278.2L309.2 1278.1L308.7 1278.1L308.2 1278L308.1 1277.9ZM300.1 1291.7L305.7 1284.2L297.6 1284.6L297.5 1284.7L297.4 1285ZM309.3 1291.9L316.2 1291.7L312.5 1284.1ZM315.3 1290.5L321.7 1284.2L312.4 1284.2ZM323.2 1291.6L328.7 1283.7L319.5 1283.6ZM296.3 1298.1L304 1298.1L299.8 1290.3ZM312.9 1298.2L317.5 1290.6L309.7 1291.8ZM338.2 1297L345.2 1298.8L339.5 1289.5ZM348.1 1292L352.3 1296.6L352.3 1296.2L352.2 1294.9L351.2 1294.1L350.8 1293.8L350.5 1293.5L350.2 1293.1L349.9 1292.7L349.7 1292.3L349.5 1291.9L349.4 1291.5ZM310.1 1305.8L314 1298.9L305.5 1297.7ZM342 1305.2L343.6 1298.2L337.3 1298.2ZM351.7 1297.3L348.2 1303.2L356.6 1305L356.4 1304.8L356.1 1304.4L355.9 1304L355.7 1303.5L355.6 1303L355.5 1302.6ZM351.2 1297.2L355.5 1302.5L355.4 1302L355.4 1300.8L354.4 1300L354 1299.7L353.6 1299.4L353.3 1299L353 1298.6L352.8 1298.1L352.6 1297.7L352.4 1297.2L352.4 1297.2ZM289 1312.4L296.8 1310.6L293.9 1304.7ZM297.4 1311.2L301.2 1305.7L293.3 1303.6ZM305.1 1310.4L309.6 1304.5L301.3 1303.5ZM313.9 1312.7L315.8 1303.2L307.3 1304.8ZM313 1312.3L321.5 1310.6L316.3 1305ZM320.4 1312.9L329.8 1312.7L325.4 1305.9ZM343.3 1310.8L349.4 1305.7L342.1 1303.2ZM354.1 1312.9L358.5 1312.1L358.6 1311.8L358.7 1311.3L358.8 1310.9L359 1310.4L359.3 1310L359.4 1309.8L359.3 1309.6L359.1 1309.1L359 1308.6L358.9 1308.1L358.9 1307.6L358.9 1306.7L357.9 1306.2L357.5 1305.9L357.1 1305.6L356.8 1305.2L356.7 1305.2ZM341.1 1318.3L344.3 1310L337.3 1312.8ZM349.9 1317.7L353.4 1310.2L345.6 1312.1ZM352 1310.4L355.4 1316.8L355.5 1316.7L355.7 1316.3L356 1315.9L356.3 1315.5L356.7 1315.2L357 1314.9L358.4 1313.9L358.5 1312.3L358.6 1311.8L358.6 1311.5ZM295.9 1326.2L306.1 1325.5L300 1317.9ZM311.7 1326.1L321.1 1326.4L315.8 1318.3ZM321.6 1326.3L323.2 1318.4L315.3 1318.8ZM337.6 1324.1L344.4 1326.7L339.6 1318.6ZM293.7 1331.6L289.1 1325.4L285.6 1330.2L285.5 1330.5L285.4 1331L285.1 1331.9L285.2 1332ZM292.4 1330.8L300.4 1332.3L296 1325ZM348 1332.1L351.4 1325.6L344.7 1326.4ZM357.8 1332.6L363.3 1331.9L361.7 1328.5L361.3 1328.4L360.8 1328.3L359 1327.6ZM365.8 1331.3L366.7 1327.7L366 1327.3L365 1327.9L364.6 1328.1L364.1 1328.3L363.9 1328.4ZM295.7 1338.2L299.9 1333.3L293.9 1331ZM303.6 1340.6L312.7 1340.4L308.9 1333.5ZM312.8 1338.4L317.4 1332.4L308.2 1332.5ZM320.3 1339.8L323.5 1332.7L315.4 1331.6ZM321.4 1338.3L328 1339.4L325.9 1332.4ZM370 1339.3L373.9 1330.9L364.2 1330.8ZM300.1 1344.8L305.9 1338.8L295.2 1338ZM340.4 1345.3L343.9 1339.6L336.9 1339.2ZM349.8 1347L352.7 1340.1L344.6 1338.6ZM347.4 1347L355.3 1347.6L353.4 1339.2ZM371.5 1346.4L377 1338.8L367.4 1337.8ZM373.1 1346.9L381 1347.6L377.4 1338.3ZM375.9 1339.2L379.8 1345.6L384.4 1338.4L384 1338.4L383.5 1338.4L383 1338.4L382.6 1338.3ZM389.9 1346.1L392.3 1342.1L391.9 1341.8L391.6 1341.5L390.8 1340.7L389.8 1340.8L389.4 1340.8L388.9 1340.8L388.4 1340.8L388 1340.7L387.5 1340.5L387.1 1340.3ZM387.6 1345.7L397.3 1346.1L394.9 1343L394.6 1343L394.1 1342.9L393.6 1342.8L393.2 1342.6L392.7 1342.4L392.3 1342.1L391.9 1341.8L391.6 1341.5L390.8 1340.7L390 1340.8ZM396.8 1346.8L398.7 1343.7L398.2 1343.4L398.1 1343.3L397.4 1342.7L396.1 1343L395.6 1343L395.1 1343.1L394.6 1343L394.5 1343ZM312.5 1352.1L322.1 1354.4L316.7 1346.2ZM329.3 1352L338 1353L333.4 1346.3ZM344.4 1352.8L347.7 1347.4L340.3 1347ZM367.3 1352.5L376.9 1353.7L372.7 1347.4ZM393.1 1352.7L400.2 1354.1L398 1346.9ZM400.1 1353.5L403.9 1353.2L403.8 1353.1L403.5 1352.6L403.3 1352.2L403.1 1351.7L403 1351.2L402.7 1349.9L401.7 1349.3ZM324.7 1361.4L332.2 1359.4L327.8 1353.8ZM381.3 1359.5L388.5 1359.7L385.2 1351.9ZM303.4 1365.8L311.5 1367.3L308 1359.5ZM336.4 1367.1L344.7 1368.4L340.7 1359.1ZM351.4 1366.2L361.8 1366.6L357.5 1360.2ZM368.2 1366.2L372.8 1360.9L364 1358.8ZM367.5 1366.6L377.2 1365.6L372.5 1358.8ZM393.6 1365.7L396 1361.1L387.3 1360.1ZM401.4 1367L409.1 1366.3L404.8 1360.9ZM302 1372.8L304.1 1365.4L296.5 1367.5ZM308.6 1375L316.6 1372.4L313.2 1366.4ZM324.9 1374L333.7 1372.5L328.2 1365.7ZM332.1 1373.7L341.7 1372.9L335.8 1367.1ZM339.5 1375L344 1366.8L336.7 1365.5ZM364.5 1372.9L368.8 1366.9L360.2 1367.6ZM373 1373.6L376.6 1367.4L368.4 1366.6ZM409 1366.6L411.8 1372.2L411.8 1372L412 1371.5L412.6 1370.3L411.9 1369.1L411.7 1368.6L411.5 1368.2L411.4 1367.7L411.3 1367.3L411.3 1366.8L411.3 1366.4ZM303.8 1381.4L308 1374.6L300.5 1372.7ZM320.3 1379.6L323.3 1375.2L317.9 1374.5ZM327.6 1381.6L334 1373.4L325.4 1374.1ZM336.4 1379.4L339.8 1374L331.7 1373.4ZM309.6 1387.6L317.5 1387.9L312 1380.7ZM341.9 1388.5L348.7 1387.7L345.3 1382ZM372.7 1386.7L379.8 1387.9L377.9 1379.6ZM380.6 1387.6L383.6 1381.2L377.7 1381.4ZM387.7 1388.5L391.6 1382L383.8 1381.7ZM396.3 1389.2L405.5 1389.1L400.9 1380.2ZM406.1 1387L408.8 1381.1L401.8 1382.2ZM265.4 1395L269 1387.3L267.5 1387.7L267.5 1387.8L267.2 1388.2L266.9 1388.5L266.5 1388.9L266.1 1389.2L265.7 1389.4L265.3 1389.6L264.8 1389.8L264.3 1389.9L263.8 1390L263.1 1390.1L262.8 1390.5L262.8 1390.6ZM287.5 1393.3L298.2 1395.5L292.4 1386.6ZM305.8 1394L308.9 1388.4L300.8 1387.4ZM313.8 1393.7L317.4 1388.7L308.3 1388.4ZM320.4 1395.7L323.2 1388.9L316.4 1386.4ZM329.5 1394.3L333.9 1386.8L323.8 1386.2ZM360.6 1393.9L370.1 1395.1L366.1 1387.1ZM385.3 1393.3L392.4 1394.4L389.3 1387.1ZM400.3 1394L404.3 1388.9L397.7 1386.6ZM401.2 1393.2L409.5 1394.4L406 1387.8ZM276.4 1401.4L281.2 1394.7L272.7 1395.3ZM276.6 1403L285.1 1401.5L280.9 1396ZM308.6 1401.7L313.6 1395.8L303.3 1395.5ZM357 1402.5L359.5 1395.9L352.7 1393.2ZM265.4 1407.6L271.4 1407.8L269.5 1401.2ZM273.6 1408.2L280.9 1407.5L275.9 1402.7ZM281 1409.4L285.4 1401.7L277.4 1401.7ZM287.9 1409.7L295.2 1409.1L293.8 1402.5ZM295.6 1407.5L299.5 1402.9L294.1 1400.2ZM296.8 1408.3L304.5 1408.8L301.6 1402.9ZM311.2 1409.2L316.6 1400.6L308.5 1402.3ZM345.8 1407.2L351.6 1408.4L349.9 1403ZM377.2 1409.8L383.7 1407.9L379.9 1400.5ZM399.9 1409.3L407.4 1407.3L405.6 1402.9ZM286 1415.9L287.5 1408.6L280.6 1407.9ZM308.8 1416L318.1 1416.3L312.9 1409.8ZM315.8 1416.9L325.4 1416.7L320.5 1407.9ZM323.9 1414.7L333.6 1416.8L327.5 1408.2ZM355.3 1415.7L361.9 1408.8L352.8 1408.6ZM363.2 1415.6L368.4 1408.1L361.9 1409.9ZM373.9 1416L381 1414.1L376.2 1407.1ZM389.3 1414.7L392 1409.4L385.1 1408.1ZM399.5 1408.5L398 1414.5L398.3 1414.5L399.2 1414.3L399.8 1412.9L400.1 1412.5L400.4 1412.1L400.7 1411.7L401.1 1411.4L401.5 1411.1L401.5 1411ZM399.3 1408.4L401.3 1411.2L401.5 1411.1L401.9 1410.8L402.4 1410.6L402.8 1410.4L403.3 1410.3L403.8 1410.2L404.3 1410.2L405.5 1410.2L406 1409.5L406.3 1409.1L406.4 1409ZM265.2 1421.4L274.1 1422L267.7 1414.4ZM279.2 1422.6L285.2 1415.9L275.3 1414.3ZM287.4 1421.8L297.4 1422.6L291.2 1415.9ZM312.3 1421.4L321 1423.2L317.5 1415.7ZM336.1 1422.9L340.4 1415.9L332.8 1415.6ZM353.6 1422.8L362 1421.6L356.1 1414.7ZM270 1428.8L272 1422L264.6 1423.6ZM293.3 1428.5L300.1 1430.7L297.6 1422.1ZM300.3 1430.2L303.4 1421.4L296.8 1421.7ZM323.4 1429.3L331.8 1429.6L328.2 1420.9ZM349.1 1428.5L355.8 1428.9L353.8 1423.6ZM384.1 1423.6L383 1426.5L383.2 1426.4L383.7 1426.2L384.1 1426L384.5 1425.9L385 1425.8L385.5 1425.7L385.7 1425.7ZM271.3 1435.1L268.6 1428.5L266.2 1432.8L266.3 1432.9L267.7 1433.3L268.2 1433.5L268.7 1433.7L269.1 1434L269.5 1434.3L269.9 1434.6L270.3 1435L270.5 1435.3ZM271.9 1437.3L275.4 1427.9L270.2 1429ZM296.3 1436.9L301.5 1429L291.6 1428ZM297.7 1436.5L305.3 1436L300.3 1428.4ZM280.1 1437.1L273 1435.6L274 1438.2L274.1 1438.1L274.5 1437.9L275 1437.7L275.4 1437.6L275.9 1437.4L276.3 1437.4L276.8 1437.4L277.3 1437.4L277.7 1437.5L278.2 1437.6L278.6 1437.7L279.3 1438ZM307.7 1442.3L315.6 1444.6L311.2 1436.3ZM315.3 1443L323.6 1443.7L319.5 1436.1ZM325.5 1444L327.3 1436.4L321.6 1437.6ZM364.4 1444.4L367.7 1436.8L361.8 1435.8ZM303.8 1449.7L301.1 1443.6L298.2 1450L298.9 1450.3L299.3 1450.5L299.7 1450.7L299.8 1450.8ZM305.6 1448.7L297.6 1448.6L297.6 1448.8L297.8 1449.8L298.9 1450.3L299.3 1450.5L299.7 1450.7L300.1 1451L300.5 1451.3L300.8 1451.7L301.1 1452.1L301.4 1452.5L301.6 1453L301.7 1453.5L301.8 1453.9L302 1454.9L302.5 1455.2ZM309.5 1457L311.4 1449.6L304 1450.5ZM332.5 1458.4L335.6 1451.1L329.3 1450.9ZM356.9 1456.3L359.6 1451.5L354 1451.2ZM373.7 1455.5L375.6 1448.6L367.5 1449.4ZM380.4 1457L383.8 1450.4L376.9 1451ZM388.1 1456.5L392.6 1456L392.4 1455.8L392.2 1455.4L392 1454.9L391.9 1454.4L391.8 1453.9L391.8 1453.4L391.8 1452.6L391.1 1452.2L390.8 1452ZM321.8 1463.7L328.9 1464.1L325.8 1457.4ZM338.1 1465.3L340.6 1455.6L332.7 1455.5ZM337.6 1464.6L343.7 1462.9L342.1 1456.2ZM343.3 1463.1L350 1456.1L340.5 1457.5ZM345 1464.4L353.6 1462.6L348.7 1457.4ZM352.1 1464.6L360 1464.2L357.9 1456.1ZM360.6 1462.7L367.7 1462.7L365 1457.4ZM369.5 1463.4L377.6 1463.3L373.6 1455.5ZM376.5 1463.8L380.6 1456.6L372.7 1455.5ZM320.8 1465.2L315.4 1464.7L316.4 1465.6L316.7 1465.9L317 1466.2L317.3 1466.6L318.1 1468ZM357.6 1470.9L361.5 1464.1L351.8 1464.7ZM357.5 1471.4L364 1471.1L360 1464.1ZM381.8 1470.5L389.9 1469.7L384 1463.7ZM388.7 1469.6L395.7 1470.4L393.3 1463.1ZM397.6 1470.2L402.1 1470L402.1 1469.4L401 1468.8L400.7 1468.5L400.3 1468.2L400 1467.8L399.7 1467.5L399.4 1467.1L399.4 1466.9ZM345.1 1477.4L349.2 1469.4L341.8 1471ZM351.4 1477.1L360.4 1476.5L357.8 1472.1ZM359.6 1476.9L364.8 1472L356.5 1470.9ZM395.4 1469.4L400 1477.4L402.7 1472.4L402.5 1472L402.4 1471.6L402.3 1471.1L402.2 1470.6L402.1 1469.9ZM339.3 1485.7L345.2 1478.5L336.4 1476.3ZM350.1 1486.1L352 1476.3L345.8 1477.6ZM349.5 1485.6L356 1484.5L351.3 1479ZM371.5 1485.7L377.1 1476.3L369.7 1476.3ZM389.4 1485.6L392.1 1478.4L385.1 1477.6ZM332.9 1484L324.3 1483.9L324.4 1484.1L324.8 1484.4L325.2 1484.7L325.6 1485L325.9 1485.4L326.2 1485.8L326.4 1486.2L326.6 1486.7L326.8 1487.2L326.9 1487.7L326.9 1488.1L327 1488.7L327.2 1489.2L327.8 1489.5L328.2 1489.8L328.6 1490.1L329 1490.4L329.2 1490.7ZM385.2 1492.9L388.9 1483.7L379.5 1483.8ZM363.7 1498.6L371.5 1497.2L367.9 1492.7ZM388.3 1499.5L392 1490.9L385.3 1490.4ZM402 1491.9L402.6 1495.1L402.7 1495.1L404 1494.2L404.1 1493.1L404.2 1492.2L403.5 1491.4ZM368.1 1504.4L374.1 1497.9L365.5 1499.2ZM378 1506.9L384.3 1505.4L381.4 1498.5ZM383.2 1505.4L392.8 1506.2L388.2 1497.2ZM345.4 1505.9L337.4 1505.6L337.6 1505.9L337.6 1505.9L338 1506.2L338.4 1506.6L338.8 1506.9L339.1 1507.3L339.2 1507.6L339.3 1507.5L339.8 1507.6L340.3 1507.7L340.8 1507.8L341.3 1508L341.7 1508.3L342.1 1508.6L342.5 1508.8L342.9 1508.6L343.3 1508.4L343.8 1508.3L344 1508.2ZM361.4 1504.9L351.6 1505L353.6 1509.4L353.7 1509.5L354.1 1509.8L354.9 1510.3L355.6 1510.1L356 1509.9L356.5 1509.8L357 1509.8L357.5 1509.8L358 1509.8L358 1509.8ZM393.9 1505.8L385 1504.1L386.8 1509.6L386.8 1509.6L387.3 1509.7L388.7 1510L389.6 1509.2L390 1508.9L390.4 1508.6L390.8 1508.4L391.2 1508.2L391.7 1508.1L391.7 1508.1Z" fill="#000" fill-opacity="0.07"/>
<path d="M298 1283.3L305.9 1285.1L301.5 1278.4L301.4 1278.8L301.2 1279.3L301 1279.7L300.8 1280.1L300.6 1280.5L300.2 1280.9L299.9 1281.2L299.5 1281.5L299.2 1281.8L298.7 1282L298.3 1282.3ZM305.7 1277.1L305 1277.4L304.6 1277.6L304.1 1277.7L303.6 1277.8L303.1 1277.8L302.6 1277.8L302.1 1277.7L301.7 1277.6L301.6 1277.6L301.5 1278.1L303.6 1284.2L308.7 1278.1L308.2 1278L307.7 1277.8L307.3 1277.6L307.2 1277.5ZM311.9 1283.4L315.7 1278L315.6 1278L315.1 1277.9L314.6 1277.8L314.2 1277.6L313.7 1277.4L313 1277L312.2 1277.5L311.7 1277.7L311.2 1277.9L310.7 1278L310.2 1278.1L309.8 1278.1ZM314.2 1283L320.5 1283.9L318.6 1277.4L318.1 1277.6L317.7 1277.8L317.2 1277.9L316.7 1278ZM318.9 1277.2L318.6 1277.4L318.1 1277.6L317.7 1277.8L317.2 1277.9L316.9 1278L321.4 1282.8L326.1 1277.5L324.8 1277.4L324.6 1277.5L324.2 1277.7L323.7 1277.8L323.2 1277.9L322.7 1277.9L322.3 1277.9L321.8 1277.8L321.3 1277.7L320.9 1277.5L320.4 1277.3L320.3 1277.3ZM297.9 1283.8L297.9 1283.8L297.8 1283.8L297.8 1283.9ZM292.5 1291.8L295.9 1286.8L295.7 1286.9L295.2 1287.2L294.8 1287.4L293.6 1287.9L293.3 1288.8L293.1 1289.3L292.9 1289.7L292.6 1290.1L292.3 1290.5L292 1290.8ZM301.5 1289.9L308 1290.8L305.4 1283.2ZM303.3 1297.2L312.7 1298.5L308.2 1290.5ZM320.4 1299L327.8 1296.7L324.7 1292.1ZM327.8 1298.1L332.6 1290.4L324.2 1289.9ZM292.1 1304.6L301.2 1304.1L296.7 1296.3ZM300.5 1305.9L309.3 1305.9L305.8 1297.8ZM317.6 1305.1L321.8 1297.9L311.2 1296.8ZM325.6 1305L328.3 1296.3L321.8 1298ZM344.1 1296.7L347.5 1303.4L353.5 1299.3L353.3 1299L353.1 1298.6ZM336.3 1311.4L342.2 1305.2L331.7 1304.9ZM345 1311.3L353.2 1311.9L348.6 1303.4ZM293.1 1319.9L287.7 1312.1L285.3 1316.7L285.3 1316.9L285.3 1317ZM291.9 1317.7L298 1310.8L287.3 1310.8ZM308.5 1319L312 1312.6L305.6 1312.9ZM316.2 1317.2L321.7 1311.2L313.7 1312.3ZM332.2 1318.4L341.2 1318.2L337 1311.1ZM342 1319.9L349.7 1318.3L343.6 1311ZM289.5 1326.6L285.8 1318.9L284.9 1320.3L285.1 1320.6L285.4 1321L285.6 1321.5L285.8 1321.9L285.9 1322.4L286 1322.9L286 1323.4L285.9 1324L285.8 1324.5L285.7 1324.9L285.5 1325.4L285.3 1325.9L284.8 1326.7ZM290.1 1324.1L296 1324.9L291.5 1317.3ZM295.3 1323.9L300.3 1318L291.2 1319.2ZM320 1326.7L329.1 1325.3L324.1 1317.4ZM335.4 1325.8L340.2 1318L333.1 1317.2ZM307.5 1330.9L312.4 1324.5L303.2 1325ZM316.1 1332.7L326.2 1332.4L321.4 1326.3ZM333.6 1331.5L338 1326.8L328.8 1326.6ZM347.4 1331.5L357.5 1331.4L353.1 1323.9ZM371.3 1333.6L375.8 1333.5L375.7 1333.4L375.4 1333.1L375 1332.8L374.7 1332.4L374.5 1332L374.3 1331.6L374.1 1331.1L374 1330.7L373.8 1330.1L373.4 1330ZM287.5 1340.6L293.4 1331.7L285.6 1332.7L285.7 1332.8L286 1333.3L286.2 1333.7L286.4 1334.1L286.5 1334.6L286.6 1335.1L286.6 1335.5L286.6 1336L286.5 1336.5L286.4 1337L286.3 1337.3ZM296.5 1340.6L304.6 1340.6L300.1 1332.4ZM335.6 1339.5L344 1338L341.3 1331.2ZM345.5 1337.8L354.1 1340.6L348.9 1333.1ZM360.1 1339.9L365.3 1333L356.5 1333.3ZM372.2 1333.2L375.3 1339.2L378.4 1334.6L377.4 1334.3L376.9 1334.1L376.5 1333.9L376.1 1333.7L375.7 1333.4L375.5 1333.2ZM375.9 1338.6L382.2 1338.2L382.1 1338.2L381.6 1338L381.2 1337.8L380.8 1337.5L380.4 1337.2L380 1336.9L379.7 1336.5L379.4 1336.1L379.2 1335.7L379 1335.3ZM291.4 1344.6L287.7 1340.2L287 1342.5L287 1342.6L286.9 1343.1L286.7 1343.6L286.5 1344L286.4 1344.3L286.2 1344.8L286.6 1345.3L286.7 1345.6ZM324.5 1346.9L327.8 1338L319.6 1337.7ZM358 1347.5L359.6 1339.9L353.3 1340.6ZM365.9 1344.9L369.1 1337.9L360.6 1339.4ZM365.7 1344.9L373 1344.7L368.9 1337.8ZM396.4 1347.6L399.8 1347.2L399.7 1346.9L399.5 1346.5L399.4 1346L399.3 1345.5L399.1 1344.1L398.4 1343.5ZM321.5 1352.6L324.2 1346.5L316.7 1347.5ZM338 1353.9L341.2 1345.1L334.2 1345.5ZM337 1353.4L345.2 1353.8L339.9 1345.2ZM361.5 1353.8L365.8 1346.9L355.7 1344.8ZM376.7 1353.6L381.9 1345.5L371.4 1344.7ZM377.7 1352.2L386.1 1353L381.9 1346.2ZM383.8 1352.5L387.6 1346.9L380.9 1346.3ZM392.3 1353.4L395.4 1346L390 1345ZM307.5 1359.1L312.8 1352.5L303.6 1353.3ZM309.3 1360.7L317.5 1359.1L311.9 1353.4ZM317 1359.9L324.4 1360.2L320.7 1354.2ZM339.8 1361.1L349.4 1360.1L344.8 1353.5ZM356 1361L363.5 1360.8L360.3 1353.9ZM364 1358.7L369.8 1352.1L362.1 1352.3ZM395.4 1360.2L403.8 1359.7L400.3 1352.4ZM295.3 1366.9L291.2 1360.7L288.2 1366L288.2 1366.1L288.2 1366.6L288.2 1367ZM305.9 1366.1L308.8 1360.1L300.5 1361ZM313.9 1366L315.4 1359.4L307.4 1360.8ZM319.4 1365.7L328.6 1368.2L323.8 1359.6ZM329.7 1366.7L331.2 1361L323.4 1361.1ZM330 1366.3L337.5 1365.4L333 1359.9ZM343.4 1366.8L349.5 1360L339.8 1361ZM344.5 1366.5L351.9 1367.4L349.3 1359.1ZM376.9 1367L381.3 1360.8L371.4 1359ZM384.6 1365.8L391.6 1367L388.5 1358.6ZM405.2 1360.4L408.2 1367.7L410.6 1363.8L410.5 1363.6L410.2 1363.2L410 1362.7L409.9 1362.3L409.8 1361.8L409.7 1361.4L409.7 1360.7ZM407.2 1366.6L411.3 1367.3L411.3 1367.3L411.3 1366.8L411.3 1366.3L411.3 1365.8L411.4 1365.3L411.6 1364.9L411.6 1364.9L411.4 1364.7L411 1364.4L410.7 1364L410.5 1363.6L410.2 1363.2L410 1362.7L410 1362.6ZM292 1375.2L290.1 1365.9L287.4 1369.4L286.8 1370.5L287.4 1372.3L287.5 1372.8L287.6 1373.3L287.6 1373.7L287.6 1374.2L287.5 1374.7L287.5 1374.9ZM308.8 1374L314.1 1368.3L305.1 1367.9ZM349.6 1373.1L352.1 1366.9L344.1 1366.1ZM349.1 1373.5L356.8 1372.9L351.5 1367.1ZM363.3 1372.8L373.2 1373L368.2 1368.2ZM379.9 1373.1L384.4 1367.2L376.3 1367.8ZM407.7 1368L405.3 1375.1L411.6 1374.7L411.6 1374.5L411.5 1374L411.5 1373.5L411.6 1373L411.7 1372.5L411.8 1372.2ZM289.7 1380.3L286.7 1376.8L285.4 1379.4L285.2 1379.8L284.9 1380.2L284.6 1380.6L284.3 1380.9ZM289.4 1379.7L292.2 1373.7L287.6 1374.2L287.6 1374.2L287.5 1374.7L287.4 1375.1L287.2 1375.6L287.1 1376L286.5 1377.2ZM295.7 1379.4L299.4 1373.7L292.7 1373.7ZM328.3 1380.2L337.4 1379.5L331.8 1373.7ZM368.3 1380.7L376.5 1381.6L373.8 1374.4ZM393.3 1381.9L398 1375.3L388 1373.1ZM400.7 1382L408.3 1380.5L405 1373.3ZM277.5 1386.8L285.1 1386.6L281.2 1383.1L281.1 1383.1L280.7 1383.4L280.2 1383.6L279.8 1383.7L279.3 1383.8L278.8 1383.8L278.4 1383.8ZM284.3 1388.5L287.7 1381.2L284.7 1380.4L284.6 1380.6L284.2 1380.9L283.9 1381.2L282.4 1382.3ZM293.1 1388.1L301.4 1387.9L296.1 1381.1ZM308.7 1387.4L312.1 1381.2L304.1 1381.7ZM325.5 1388.3L333.2 1388.2L329 1380.9ZM340.8 1386.8L343.2 1380L335.7 1381.7ZM407.5 1381.7L411.4 1388.9L414.8 1384.2L414.5 1383.9L414.1 1383.5L413.9 1383.2L413.6 1382.8L413.4 1382.4L413.2 1381.9L413.1 1381.5L413 1381.2ZM273.7 1395.1L280.3 1395.5L278 1388.9ZM280.5 1396.1L288.1 1393.2L285.9 1386.9ZM329.3 1393.8L338 1395.9L331.8 1388.2ZM377.4 1395.5L384.8 1394.7L380.5 1388.5ZM391.9 1395.4L396.1 1386.7L389.6 1386.8ZM412.4 1388.9L409.1 1394.7L414.8 1394.2L414.9 1394L415.1 1393.7ZM267.3 1400.7L271.6 1395.6L263.9 1394.3ZM301.8 1402L303.6 1394.1L297.7 1395.2ZM317.5 1400.4L319.2 1394.1L312.6 1394.4ZM325 1402.6L329.4 1393.5L321.7 1395ZM341.2 1401.6L350.2 1401.4L344.2 1395.4ZM372.6 1400.9L380 1402.3L377.5 1396.1ZM380.9 1400.9L384.8 1393.7L375.2 1393.8ZM379.8 1400.5L389.5 1402.8L383.7 1394.7ZM405.9 1402.9L407.8 1395.9L401.8 1396ZM263.6 1409.2L260.2 1401.5L258 1405.8L258 1405.9L257.9 1406.4L257.8 1406.8L257.6 1407.3L257.4 1407.7L257 1408.4L257.3 1409.1L257.5 1409.5ZM304.8 1407.3L308.1 1402.4L300.9 1402.1ZM319.7 1408.2L330 1408.7L324.1 1401.1ZM336.2 1409.4L339.7 1401.3L334.1 1400.4ZM353.4 1408.7L359.7 1407.9L357.2 1400.6ZM368.2 1408.1L372.9 1400.5L365.7 1401.1ZM392.9 1408.1L399.3 1409.6L397.5 1402.5ZM259.5 1414.8L257.9 1412L257.9 1412.1L257.8 1412.6L257.7 1413.1L257.5 1413.5L257.3 1414L256.8 1414.8ZM262.1 1414L265.6 1410L257.1 1408.7L257.3 1409.1L257.6 1409.6L257.6 1409.6ZM259.3 1414.2L268.9 1415.5L264 1408.5ZM292 1414.1L296.2 1407.6L289.4 1409.4ZM300.5 1415.5L308.4 1415.7L304.1 1408.5ZM316.1 1415L319.7 1409.2L313.6 1407.8ZM325 1414.8L329.6 1408.8L319.8 1408.5ZM333.2 1414.1L338.1 1408.1L327.3 1409.3ZM331.7 1416.3L340.8 1416.8L336.5 1409.3ZM340.1 1416.4L348.9 1416.6L344.2 1409.7ZM380.9 1415.4L383.4 1408.5L378 1409.8ZM264.6 1422.7L267.4 1414.2L260.7 1414.8ZM287.3 1423.3L291.7 1415.9L285.4 1415.9ZM295.4 1422.3L301.2 1414.7L294.1 1414.8ZM305.5 1422.8L312.6 1423L308.1 1416ZM335.8 1423.6L343.7 1423.2L341.8 1416.2ZM352 1423.7L356.6 1415.5L349.7 1414.2ZM359.6 1421.1L366 1414.6L355.5 1416.7ZM378.1 1423.2L380.7 1415.6L373.1 1416.4ZM324.1 1428.3L328 1423.7L320.7 1423.4ZM332.2 1430.3L335.9 1423L330.1 1420.8ZM333.4 1429.4L342.1 1430.3L336.2 1421.6ZM364.9 1428.5L368.7 1421.9L362.1 1422ZM375.7 1421.1L373.9 1429.7L381.5 1428L381.5 1428ZM272.8 1435.3L281.2 1434.8L277.7 1428.1ZM288.8 1437.1L292.6 1429.9L284.7 1429.4ZM335.5 1435.3L344.5 1437.4L342.1 1428.5ZM373 1430.2L375 1433.5L375 1433.4L375.1 1432.9L375.2 1432.4L375.3 1432L375.6 1431.5L375.8 1431.1L376.1 1430.7L376.4 1430.4ZM281.1 1435.1L279.9 1438.2L280.9 1437.8L281.3 1437.6L281.8 1437.4L282.3 1437.3L282.4 1437.3ZM299.5 1444.4L303.6 1437.4L298.2 1435.4ZM307.5 1443.2L312.7 1434.8L305.8 1437.6ZM333.2 1444.2L337.4 1436.6L329.7 1435.8ZM348.9 1443.1L351.6 1437.3L346 1435.3ZM364.9 1444.1L373 1444.2L367.9 1436.8ZM300.4 1444.3L293.2 1441.7L295.1 1445.5L295.5 1445.8L295.9 1446.1L296.3 1446.4L296.6 1446.7L296.9 1447.1L297.1 1447.5L297.3 1447.9L297.5 1448.4L297.6 1448.8L297.8 1449.8L298.3 1450ZM305 1449.5L307.2 1444.5L300.8 1444ZM320.3 1448.7L324.4 1442.6L316.6 1444.4ZM328 1450L334 1443.5L325.5 1444.1ZM345.1 1448.6L353.9 1450.2L348.5 1442.8ZM353.9 1450.6L359.3 1450.6L356.9 1442.8ZM361.7 1449L368.6 1450.5L363.7 1442.2ZM372 1441.9L377.6 1450.7L380.1 1445.1L379.4 1444.4L379.1 1444.1L378.8 1443.8ZM307.6 1458.3L318.1 1457.8L313.3 1451.4ZM356.4 1457.7L363.3 1456.2L360.9 1450.8ZM360.6 1463.8L365.8 1457.2L356.9 1457.7ZM350.2 1469.4L355.9 1470L353.2 1463.6ZM321.9 1478.5L319.3 1473.9L319.2 1473.9L318.9 1474.7L319.2 1475.1L319.5 1475.6L319.7 1476.1L319.9 1476.7L320.2 1477.9L320.9 1478.4ZM330 1478L325.9 1469.9L320.2 1477.7L320.2 1477.9L320.8 1478.3ZM336.7 1477.2L344.5 1477.4L341.1 1471.4ZM368.8 1477.4L375.5 1478.4L373.7 1471.9ZM375.4 1476.5L384.1 1477L381.9 1471.9ZM392.2 1477.7L402 1477.7L395.5 1469.5ZM332.6 1484.4L341.9 1485.8L337 1476.4ZM389.1 1483.9L395.5 1485.3L393.4 1477.6ZM399.2 1476.6L395.7 1483.5L401.8 1483.3L401.7 1483.1L401.6 1482.6L401.5 1482.1L401.5 1481.6L401.5 1481.1L401.6 1480.7L401.7 1480.2L401.7 1480.1ZM335.2 1491L341.5 1484.5L332.5 1484.5ZM345.6 1490.7L350 1484.2L342 1485.8ZM369.6 1491.6L373.9 1486.2L365.7 1485.5ZM391.9 1492.8L396.1 1486.1L388 1485.1ZM339.4 1499.1L343.5 1491.5L335.7 1491.1ZM356.2 1499.2L364.8 1498L361 1493.1ZM371.7 1499.8L375.5 1492L369.2 1491.3ZM381.9 1498.7L383.5 1490.6L376.6 1490.7ZM379.7 1497.7L388.5 1498.9L383.4 1491.4ZM340.9 1497.8L333.6 1498.8L333.6 1498.8L333.7 1499.3L333.7 1499.7L334.1 1500.3L334.3 1500.4L334.7 1500.7L335.1 1501L335.4 1501.4L335.7 1501.7L336 1502.1L336.2 1502.6L336.4 1503L336.6 1503.5L336.7 1504L336.7 1504ZM344.6 1504L349 1499.1L340.6 1497.9ZM351.2 1506.3L355.7 1497.8L347.4 1499.8ZM361.2 1506.5L363.4 1498.1L356.9 1499.6ZM398 1497.5L391.2 1504.2L397.2 1504.6L397.2 1504.3L397.3 1503.8L397.5 1503.3L397.7 1502.9L398 1502.5L398.2 1502.1L398.6 1501.7L398.8 1501.5ZM344.9 1505.1L343.4 1508.4L343.8 1508.3L344.2 1508.1L344.7 1508.1L345.2 1508L345.7 1508.1L346.1 1508.1ZM352.8 1504.9L345 1506.7L345.7 1508.1L345.7 1508.1L346.2 1508.2L346.7 1508.3L347.1 1508.4L347.6 1508.7L348 1508.9L348.7 1509.4L349.5 1509.1L349.7 1509.1ZM364.1 1513.3L361.1 1506.8L359.3 1510.2L359.4 1510.3L359.9 1510.5L360.3 1510.8L360.7 1511.1L361 1511.5L361.3 1511.9L361.6 1512.3L361.8 1512.8L362 1513.2ZM364.8 1512.9L370 1504.6L360.8 1505ZM376.2 1504.2L371.3 1513.7L375.9 1513.3L376.9 1512.7L377.3 1512.4L377.7 1512.2L378.2 1512L378.6 1511.9L379.1 1511.8L379.6 1511.8L380.1 1511.8L380.6 1511.8L381.6 1512ZM372.9 1511.9L369.6 1518.2L369.7 1518.2L370.2 1518L370.7 1518L371.2 1517.9L371.2 1517.9L373 1515.6L373.3 1515.2L373.7 1514.9L374.1 1514.6L374.3 1514.4ZM380.7 1511.4L371.4 1511.4L373.5 1515.1L373.7 1514.9L374.1 1514.6L376.9 1512.7L377.3 1512.4L377.7 1512.2L378.2 1512L378.6 1511.9L379.1 1511.8L379.6 1511.8L380.1 1511.8L380.4 1511.8Z" fill="#fff" fill-opacity="0.07"/>
<g clip-path="url(#c11)" fill="none" stroke-linejoin="round"><use href="#p11" stroke="#375487" stroke-width="13.2" stroke-opacity="0.35"/><use href="#p11" stroke="#3f4586" stroke-width="10.8" stroke-opacity="0.75"/><use href="#p11" stroke="#45347f" stroke-width="8.4"/><use href="#p11" stroke="#482a78" stroke-width="5.6"/></g>
<path d="M933 1271.6L929.2 1274.3L924.9 1275L920.6 1276.4L916.5 1280L913.2 1284.4L907.8 1286.6L905.8 1291.1L904 1295.4L903.3 1300.1L899.1 1303.4L898.7 1308.5L899.4 1312.7L899.8 1317.2L900.7 1321.6L901.1 1326L900.7 1330.4L903.3 1334.2L903.3 1338.5L903.2 1342.8L902.4 1347.2L903.7 1351.6L902.6 1356L904.4 1360.3L902.3 1365L904 1369.4L904.3 1373.5L900.1 1374.1L895.1 1373.3L890.5 1375.7L886.5 1378.5L883.6 1382.6L879.8 1386L878.7 1390.7L876.2 1394.8L875 1399.4L872.4 1403.6L873.7 1408.5L873.1 1413.1L873.1 1417.9L873.8 1422.9L877.9 1426L879.4 1430.6L883.5 1433.5L887.1 1436.7L890.5 1440.2L895.1 1441.7L899.9 1440.2L904.4 1441.1L908.9 1442L913.5 1441.9L917.3 1444.4L919.5 1448.9L924.1 1450.6L927.6 1453.5L932 1456.4L934.1 1461.5L938.2 1464.9L941.2 1469.2L945.3 1472.6L948.8 1476.4L952.1 1479.6L953.8 1484.3L958.1 1486.8L960.2 1491.1L964 1493.9L966 1498.4L970.4 1500.9L975.1 1501.7L980 1502.2L985 1503L989.9 1503.7L995 1503.9L998.8 1501.3L1003.9 1501.8L1007.4 1498.3L1012.2 1498.1L1016.2 1495.6L1020.3 1493.2L1021.8 1488.5L1024.7 1485.1L1026.9 1481.1L1030.5 1478.1L1030.7 1472.6L1033.1 1467.5L1032.8 1461.9L1031.9 1458.4L1030.5 1455L1031.4 1450.9L1031.4 1446.7L1032.5 1442.6L1030.4 1437.2L1028.5 1432L1027 1426.6L1024.3 1421.4L1022.1 1416L1020 1411L1025.2 1408.7L1030.6 1406L1032.3 1400.9L1036.5 1397.4L1037.2 1392L1040.7 1388L1038.2 1383.8L1037.6 1379.4L1035.4 1375.6L1035.8 1370.1L1033.7 1365L1034.5 1359.4L1030 1356.8L1027.7 1352.3L1023.5 1349.9L1019.7 1347L1016.2 1344.3L1013.7 1340.2L1009.3 1338.4L1005.8 1335.5L1002 1333.1L998.4 1330L994 1328.9L990 1327.3L990.1 1323.3L991.7 1318.9L988.8 1313.7L987.7 1307.9L984.6 1302.8L981.1 1298.6L977.9 1294.3L975.2 1289.6L972.2 1285L968.4 1282.4L964.5 1280.3L961 1277.1L956.1 1276.6L952.8 1273.4L947.7 1273.1L942.8 1272.6L938 1271.9Z" fill="#6a5799" fill-opacity="0.60"/>
<defs><path id="p12" d="M933.4 1273.4L929.8 1275.3L929.7 1275.3L929.5 1275.4L929.4 1275.4L929.3 1275.4L925.1 1276L921.6 1277.9L918.6 1280.2L916.1 1283.2L916 1283.4L915.9 1283.5L915.8 1283.5L915.6 1283.6L915.5 1283.7L911.9 1285.2L909.7 1288L908.2 1291.2L907.2 1294.9L907.1 1295L907.1 1295.1L907 1295.3L906.9 1295.4L906.8 1295.5L904.3 1298.2L903.2 1301.6L903.2 1301.8L903.1 1301.9L901.4 1305.3L900.1 1308.5L900.6 1312.5L901.5 1316.8L901.6 1317L901.6 1317.2L901.4 1321.5L902.7 1325.5L902.8 1325.6L902.8 1325.7L903.5 1329.7L905 1333.6L905.1 1333.7L905.1 1333.9L905.1 1334L905.4 1338.3L905.4 1338.3L905.7 1342.8L905.7 1342.9L905.6 1343L905.6 1343.2L905.6 1343.3L904.2 1347.2L905.3 1351.3L905.3 1351.4L905.3 1351.6L905.3 1351.7L905.3 1351.9L904.6 1355.9L905.7 1359.9L905.8 1360L905.8 1360.2L905.8 1360.3L905.8 1360.4L905.8 1360.6L905.1 1364.9L905.8 1369L905.8 1369.2L906.1 1373.6L906.1 1373.8L906 1373.9L906 1374.1L906 1374.2L905.9 1374.4L905.8 1374.5L905.7 1374.6L905.7 1374.8L905.5 1374.9L905.4 1375L905.3 1375L905.2 1375.1L905 1375.2L904.9 1375.2L900.4 1376.1L900.3 1376.2L900.2 1376.2L900 1376.2L895.4 1375.9L891.2 1376.9L888.7 1378.7L887.2 1382L887.1 1382.1L887 1382.2L886.9 1382.4L886.8 1382.5L886.6 1382.6L886.5 1382.6L883.3 1384.3L881.4 1387L879.7 1390L879.2 1393.5L879.2 1393.7L879.1 1393.8L879.1 1393.9L879 1394.1L879 1394.2L878.9 1394.3L876.6 1397.1L876 1400.5L875.9 1400.6L875.9 1400.8L875.8 1400.9L874.3 1403.9L874.5 1408.4L874.5 1408.5L874.3 1413.1L874.6 1417.5L876.6 1421.3L878.9 1425.4L881.1 1429.3L884.5 1432.3L884.6 1432.4L888 1435.7L891.4 1438.4L895.3 1439L899.8 1438.8L899.9 1438.8L900.1 1438.8L904.5 1439.5L908.9 1439.1L909.1 1439.1L909.2 1439.1L909.3 1439.2L909.5 1439.2L914 1440.5L914.2 1440.5L914.3 1440.6L918.3 1442.8L918.4 1442.8L918.5 1442.9L918.6 1443L918.7 1443.1L921.6 1446.3L925.4 1448.5L925.5 1448.6L925.6 1448.7L925.8 1448.8L928.8 1452.1L932.3 1454.8L932.4 1454.9L932.5 1455.1L932.6 1455.2L935 1458.9L938 1462L938.1 1462.1L940.8 1465.3L944.4 1467.8L944.5 1467.9L944.6 1468L944.7 1468.1L944.8 1468.2L944.9 1468.3L945 1468.4L946.8 1472.4L950 1475.1L950.1 1475.2L950.2 1475.3L950.3 1475.4L952.3 1478.7L955.5 1480.9L955.6 1481L955.7 1481.1L955.8 1481.2L958.2 1484.4L960.9 1487.3L961 1487.5L963.4 1490.6L966.3 1493.3L966.4 1493.3L966.5 1493.4L966.6 1493.6L966.6 1493.7L968.5 1497.1L971.1 1499.5L974.4 1500.5L978.4 1500.3L978.6 1500.3L978.7 1500.3L982.7 1501.1L986.7 1501.3L986.7 1501.3L990.9 1501.5L991 1501.6L994.9 1502L998.8 1501.3L1002.2 1498.7L1002.4 1498.6L1002.5 1498.5L1002.7 1498.4L1002.8 1498.4L1007.1 1497.4L1011 1495.4L1011.1 1495.3L1011.3 1495.2L1015.1 1494.3L1017.2 1490.9L1017.3 1490.8L1017.4 1490.7L1017.5 1490.6L1020.8 1487.9L1022.6 1483.9L1022.6 1483.8L1022.7 1483.7L1022.8 1483.6L1022.9 1483.5L1023 1483.4L1023.1 1483.3L1026.7 1480.9L1028.7 1477.2L1029.9 1473.8L1030 1470L1030 1469.8L1030 1469.7L1030 1469.6L1030.1 1469.5L1031.4 1465.9L1031.2 1462.2L1030.4 1458.9L1028.7 1455.8L1028.6 1455.7L1028.6 1455.5L1028.5 1455.4L1028.5 1455.3L1028.5 1455.1L1028.5 1455L1028.5 1454.8L1028.6 1454.7L1028.6 1454.6L1030 1450.9L1029.1 1446.9L1029.1 1446.8L1029.1 1446.7L1029.1 1446.5L1029.1 1446.4L1029.1 1446.2L1029.1 1446.1L1030.4 1442.7L1028.7 1439.5L1028.7 1439.4L1028.6 1439.3L1028.6 1439.1L1028.6 1439L1028.5 1438.9L1028.5 1434.9L1026.4 1431.6L1026.3 1431.5L1026.2 1431.4L1026.2 1431.2L1026.2 1431.1L1025.4 1427.2L1023.3 1423.7L1023.2 1423.5L1023.1 1423.3L1021.9 1419.3L1019.7 1415.8L1019.6 1415.6L1019.5 1415.4L1018.2 1411.3L1018.1 1411.1L1018.1 1411L1018.1 1410.8L1018.1 1410.7L1018.1 1410.5L1018.2 1410.4L1018.2 1410.2L1018.3 1410.1L1018.3 1410L1018.4 1409.8L1018.5 1409.7L1018.7 1409.6L1018.8 1409.5L1018.9 1409.5L1022.4 1407.7L1026 1405.9L1026 1405.9L1029.2 1404.3L1031.1 1401.4L1032.4 1397.7L1032.4 1397.6L1032.5 1397.5L1032.6 1397.3L1032.7 1397.2L1035.3 1394.3L1036.8 1390.8L1036.8 1390.8L1038.3 1387.7L1036.9 1384.4L1036.8 1384.2L1036.8 1384L1036.1 1379.9L1034 1376.3L1033.9 1376.2L1033.9 1376L1033.8 1375.9L1033.8 1375.7L1033.8 1375.6L1033.8 1375.4L1034.1 1371.6L1033.2 1367.9L1033.1 1367.7L1032.7 1363.8L1032.7 1363.7L1032.3 1360.3L1029.6 1357.4L1025.7 1355L1025.5 1354.9L1025.4 1354.7L1022.1 1351.4L1018.6 1348.4L1018.5 1348.4L1018.4 1348.3L1015.7 1345L1011.6 1343.4L1011.5 1343.3L1011.4 1343.2L1011.3 1343.1L1011.2 1343L1011.1 1342.9L1008.4 1339.6L1004.4 1338L1004.3 1337.9L1004.1 1337.8L1004 1337.7L1003.9 1337.6L1003.8 1337.5L1001.3 1334.3L997.3 1333.5L997.1 1333.5L997 1333.5L996.9 1333.4L996.8 1333.3L996.7 1333.3L996.6 1333.2L993.3 1330.3L989.2 1329.3L989.1 1329.3L989 1329.2L988.8 1329.2L988.7 1329.1L988.6 1329L988.5 1328.9L988.4 1328.8L988.3 1328.7L988.2 1328.5L988.2 1328.4L988.1 1328.2L988.1 1328.1L988.1 1328L988.1 1327.8L988.1 1327.7L988.1 1327.5L988.2 1327.4L989.7 1323.2L989.9 1319.2L988.3 1315.5L986.5 1311.6L984.6 1307.7L984.6 1307.6L983 1303.7L980.8 1300.2L978.2 1296.7L978.2 1296.6L976.1 1293L973.1 1290L973 1289.9L973 1289.8L970.9 1286.4L967.2 1284.6L967.1 1284.5L966.9 1284.4L966.8 1284.3L963.8 1281.3L959.8 1279.9L959.6 1279.8L959.5 1279.8L959.4 1279.7L959.3 1279.6L956 1276.8L952 1275.4L948.6 1274.3L945 1275L944.9 1275L944.7 1275L944.5 1275L944.4 1275L944.2 1274.9L940.7 1273.7L937 1273.8L936.9 1273.8L936.8 1273.8Z"/><clipPath id="c12"><use href="#p12"/></clipPath></defs>
<use href="#p12" fill="#2a7a89"/>
<g clip-path="url(#c12)">
<path d="M986.3 1333L988.1 1326.7L988.8 1320.1L988.4 1313.5L986.9 1307L984.4 1300.7L980.9 1294.9L976.6 1289.7L971.4 1285.1L965.7 1281.4L959.4 1278.5L952.7 1276.7L945.9 1275.8L939 1276L932.3 1277.2L925.9 1279.5L920 1282.6L914.7 1286.7L910.1 1291.5L906.4 1297L903.7 1303L901.9 1309.3L901.2 1315.9L901.6 1322.5L903.1 1329L905.6 1335.3L909.1 1341.1L913.4 1346.3L918.6 1350.9L924.3 1354.6L930.6 1357.5L937.3 1359.3L944.1 1360.2L951 1360L957.7 1358.8L964.1 1356.5L970 1353.4L975.3 1349.3L979.9 1344.5L983.6 1339Z" fill="#279a80" filter="url(#b3)"/>
<path d="M970.6 1323.2L971.2 1320.5L971.4 1317.6L970.9 1314.6L969.9 1311.7L968.3 1308.8L966.2 1306.1L963.7 1303.7L960.8 1301.4L957.6 1299.6L954.2 1298.1L950.6 1297L946.9 1296.4L943.2 1296.2L939.7 1296.5L936.4 1297.2L933.4 1298.4L930.7 1300L928.5 1302L926.7 1304.2L925.4 1306.8L924.8 1309.5L924.6 1312.4L925.1 1315.4L926.1 1318.3L927.7 1321.2L929.8 1323.9L932.3 1326.3L935.2 1328.6L938.4 1330.4L941.8 1331.9L945.4 1333L949.1 1333.6L952.8 1333.8L956.3 1333.5L959.6 1332.8L962.6 1331.6L965.3 1330L967.5 1328L969.3 1325.8Z" fill="#238a7a" fill-opacity="0.80" filter="url(#b3)"/>
<path d="M1017.8 1432.1L1012.2 1424.9L1005.9 1418.5L999.1 1413L992 1408.5L984.6 1405.2L977.3 1403.1L970.2 1402.3L963.5 1402.7L957.3 1404.5L951.7 1407.5L947 1411.7L943.2 1416.9L940.5 1423.1L938.8 1430L938.3 1437.6L938.9 1445.6L940.7 1453.9L943.6 1462.1L947.4 1470.2L952.2 1477.9L957.8 1485.1L964.1 1491.5L970.9 1497L978 1501.5L985.4 1504.8L992.7 1506.9L999.8 1507.7L1006.5 1507.3L1012.7 1505.5L1018.3 1502.5L1023 1498.3L1026.8 1493.1L1029.5 1486.9L1031.2 1480L1031.7 1472.4L1031.1 1464.4L1029.3 1456.1L1026.4 1447.9L1022.6 1439.8Z" fill="#2a6e89" fill-opacity="0.90" filter="url(#b3)"/>
<path d="M1008 1457.4L1005.1 1453.7L1001.8 1450.4L998.2 1447.6L994.5 1445.3L990.6 1443.7L986.7 1442.7L982.8 1442.4L979.2 1442.7L975.8 1443.8L972.8 1445.4L970.2 1447.7L968.1 1450.5L966.5 1453.8L965.5 1457.5L965.1 1461.5L965.3 1465.8L966.1 1470.1L967.5 1474.4L969.5 1478.6L972 1482.6L974.9 1486.3L978.2 1489.6L981.8 1492.4L985.5 1494.7L989.4 1496.3L993.3 1497.3L997.2 1497.6L1000.8 1497.3L1004.2 1496.2L1007.2 1494.6L1009.8 1492.3L1011.9 1489.5L1013.5 1486.2L1014.5 1482.5L1014.9 1478.5L1014.7 1474.2L1013.9 1469.9L1012.5 1465.6L1010.5 1461.4Z" fill="#255f7b" fill-opacity="0.80" filter="url(#b5)"/>
<path d="M1029.6 1437.2L1028 1431.4L1026.1 1425.9L1024 1420.8L1021.8 1416.1L1019.6 1412L1017.3 1408.6L1015.1 1406L1012.9 1404.2L1010.9 1403.3L1009.2 1403.3L1007.6 1404.2L1006.4 1406L1005.4 1408.6L1004.8 1412L1004.5 1416.1L1004.6 1420.7L1005.1 1425.9L1005.9 1431.4L1007 1437.1L1008.4 1442.8L1010 1448.6L1011.9 1454.1L1014 1459.2L1016.2 1463.9L1018.4 1468L1020.7 1471.4L1022.9 1474L1025.1 1475.8L1027.1 1476.7L1028.8 1476.7L1030.4 1475.8L1031.6 1474L1032.6 1471.4L1033.2 1468L1033.5 1463.9L1033.4 1459.3L1032.9 1454.1L1032.1 1448.6L1031 1442.9Z" fill="#30608d" fill-opacity="0.90" filter="url(#b3)"/>
<path d="M933 1410L932.7 1405.6L931.6 1401.3L929.9 1397.3L927.7 1393.5L924.8 1390.2L921.5 1387.3L917.7 1385.1L913.7 1383.4L909.4 1382.3L905 1382L900.6 1382.3L896.3 1383.4L892.3 1385.1L888.5 1387.3L885.2 1390.2L882.3 1393.5L880.1 1397.3L878.4 1401.3L877.3 1405.6L877 1410L877.3 1414.4L878.4 1418.7L880.1 1422.7L882.3 1426.5L885.2 1429.8L888.5 1432.7L892.3 1434.9L896.3 1436.6L900.6 1437.7L905 1438L909.4 1437.7L913.7 1436.6L917.7 1434.9L921.5 1432.7L924.8 1429.8L927.7 1426.5L929.9 1422.7L931.6 1418.7L932.7 1414.4Z" fill="#2b7489" fill-opacity="0.80" filter="url(#b3)"/>
<path d="M983.6 1436L983.9 1434.6L983.6 1432.9L982.7 1431.1L981.3 1429.1L979.4 1427L976.9 1424.9L974.1 1422.7L970.9 1420.6L967.4 1418.7L963.8 1416.8L960.1 1415.2L956.3 1413.8L952.7 1412.7L949.2 1411.9L946 1411.5L943.2 1411.3L940.7 1411.5L938.8 1412L937.3 1412.9L936.4 1414L936.1 1415.4L936.4 1417.1L937.3 1418.9L938.7 1420.9L940.6 1423L943.1 1425.1L945.9 1427.3L949.1 1429.4L952.6 1431.3L956.2 1433.2L959.9 1434.8L963.7 1436.2L967.3 1437.3L970.8 1438.1L974 1438.5L976.8 1438.7L979.3 1438.5L981.2 1438L982.7 1437.1Z" fill="#2a857f" fill-opacity="0.70" filter="url(#b3)"/>
<path d="M1031.3 1397L1033.8 1390.5L1034.8 1383.5L1034.3 1376L1032.3 1368.2L1028.8 1360.4L1024 1352.8L1017.9 1345.5L1010.7 1338.6L1002.5 1332.5L993.7 1327.2L984.3 1322.8L974.6 1319.5L964.9 1317.3L955.5 1316.4L946.4 1316.6L938 1318.1L930.5 1320.8L924 1324.5L918.7 1329.3L914.7 1335L912.2 1341.5L911.2 1348.5L911.7 1356L913.7 1363.8L917.2 1371.6L922 1379.2L928.1 1386.5L935.3 1393.4L943.5 1399.5L952.3 1404.8L961.7 1409.2L971.4 1412.5L981.1 1414.7L990.5 1415.6L999.6 1415.4L1008 1413.9L1015.5 1411.2L1022 1407.5L1027.3 1402.7Z" fill="#27a07f" filter="url(#b2)"/>
<path d="M1019.8 1391.9L1021.8 1386.7L1022.6 1381.1L1022.2 1375.1L1020.5 1369L1017.7 1362.7L1013.8 1356.6L1008.9 1350.8L1003.1 1345.3L996.5 1340.4L989.4 1336.1L981.9 1332.6L974.2 1329.9L966.4 1328.2L958.8 1327.4L951.5 1327.6L944.8 1328.7L938.8 1330.8L933.6 1333.8L929.4 1337.6L926.2 1342.1L924.2 1347.3L923.4 1352.9L923.8 1358.9L925.5 1365L928.3 1371.3L932.2 1377.4L937.1 1383.2L942.9 1388.7L949.5 1393.6L956.6 1397.9L964.1 1401.4L971.8 1404.1L979.6 1405.8L987.2 1406.6L994.5 1406.4L1001.2 1405.3L1007.2 1403.2L1012.4 1400.2L1016.6 1396.4Z" fill="#3cb371" filter="url(#b2)"/>
<path d="M1003.1 1388.7L1004.8 1385L1005.7 1380.8L1005.7 1376.4L1004.9 1371.8L1003.1 1367L1000.6 1362.3L997.3 1357.7L993.3 1353.4L988.8 1349.5L983.8 1346L978.4 1343L972.9 1340.6L967.3 1339L961.7 1338L956.4 1337.8L951.3 1338.3L946.8 1339.6L942.8 1341.5L939.5 1344.1L936.9 1347.3L935.2 1351L934.3 1355.2L934.3 1359.6L935.1 1364.2L936.9 1369L939.4 1373.7L942.7 1378.3L946.7 1382.6L951.2 1386.5L956.2 1390L961.6 1393L967.1 1395.4L972.7 1397L978.3 1398L983.6 1398.2L988.7 1397.7L993.2 1396.4L997.2 1394.5L1000.5 1391.9Z" fill="#62c25c" filter="url(#b2)"/>
<path d="M990.1 1386.2L991.5 1383.8L992.4 1381L992.7 1377.9L992.4 1374.6L991.4 1371.2L989.9 1367.7L987.9 1364.2L985.4 1360.8L982.4 1357.7L979.1 1354.8L975.5 1352.3L971.7 1350.2L967.9 1348.5L964 1347.4L960.2 1346.8L956.7 1346.7L953.4 1347.2L950.4 1348.2L947.9 1349.8L945.9 1351.8L944.5 1354.2L943.6 1357L943.3 1360.1L943.6 1363.4L944.6 1366.8L946.1 1370.3L948.1 1373.8L950.6 1377.2L953.6 1380.3L956.9 1383.2L960.5 1385.7L964.3 1387.8L968.1 1389.5L972 1390.6L975.8 1391.2L979.3 1391.3L982.6 1390.8L985.6 1389.8L988.1 1388.2Z" fill="#84cd49" filter="url(#b2)"/>
</g>
<path d="M955.2 1347.7L937.6 1358.3L937.5 1358.4L937.4 1358.5L937.3 1358.6L937.2 1358.7L937.1 1358.8L937.1 1358.9L933.5 1365.9L933.4 1366.1L933.4 1366.2L933.3 1366.3L933.3 1366.5L933.3 1366.6L933.3 1366.8L933.3 1366.9L933.4 1367.1L933.4 1367.2L933.5 1367.4L933.6 1367.5L933.7 1367.6L933.8 1367.7L933.9 1367.8L948.1 1378.4L948.2 1378.5L948.3 1378.5L962 1385.4L970.6 1400.9L970.7 1401.1L970.8 1401.2L970.9 1401.3L971 1401.4L971.1 1401.5L971.2 1401.5L971.4 1401.6L980.3 1405.1L980.4 1405.1L980.5 1405.2L980.7 1405.2L980.8 1405.2L981 1405.2L981.1 1405.2L981.2 1405.1L981.4 1405.1L981.5 1405L981.6 1404.9L981.8 1404.9L981.9 1404.8L990.7 1396L990.8 1395.9L990.8 1395.7L990.9 1395.6L991 1395.5L991 1395.4L991.1 1395.2L991.1 1395.1L991.1 1394.9L991.1 1394.8L991.1 1394.6L991 1394.5L991 1394.4L990.9 1394.2L985.6 1383.6L985.6 1383.5L985.5 1383.4L985.4 1383.2L974.8 1372.6L967 1364.9L974.8 1357.1L974.9 1356.9L975 1356.8L975 1356.7L975.1 1356.6L975.1 1356.4L975.2 1356.3L975.2 1356.1L975.2 1356L975.2 1355.8L975.2 1355.7L975.1 1355.5L971.6 1344.9L971.6 1344.8L971.5 1344.7L971.4 1344.5L971.3 1344.4L971.2 1344.3L971.1 1344.2L971 1344.1L970.9 1344.1L970.7 1344L970.6 1343.9L970.4 1343.9L970.3 1343.9L970.1 1343.9L970 1343.9L969.8 1343.9L955.6 1347.5L955.5 1347.6L955.4 1347.6Z" fill="#96d03f" filter="url(#b1)"/>
<path d="M966.7 1363L967.5 1361.3L968.1 1359.5L968.4 1357.7L968.5 1355.9L968.4 1354.2L967.9 1352.5L967.3 1351L966.4 1349.7L965.3 1348.5L964 1347.6L962.6 1347L961 1346.6L959.4 1346.5L957.8 1346.7L956.1 1347.1L954.5 1347.8L953 1348.8L951.6 1350L950.4 1351.4L949.3 1353L948.5 1354.7L947.9 1356.5L947.6 1358.3L947.5 1360.1L947.6 1361.8L948.1 1363.5L948.7 1365L949.6 1366.3L950.7 1367.5L952 1368.4L953.4 1369L955 1369.4L956.6 1369.5L958.2 1369.3L959.9 1368.9L961.5 1368.2L963 1367.2L964.4 1366L965.6 1364.6Z" fill="#aec42c" fill-opacity="0.95" filter="url(#b1)"/>
<path d="M974 1351L973.9 1350.1L973.8 1349.1L973.5 1348.3L973 1347.5L972.5 1346.8L971.9 1346.1L971.3 1345.7L970.5 1345.3L969.8 1345.1L969 1345L968.2 1345.1L967.5 1345.3L966.7 1345.7L966.1 1346.1L965.5 1346.8L965 1347.5L964.5 1348.3L964.2 1349.1L964.1 1350.1L964 1351L964.1 1351.9L964.2 1352.9L964.5 1353.7L965 1354.5L965.5 1355.2L966.1 1355.9L966.7 1356.3L967.5 1356.7L968.2 1356.9L969 1357L969.8 1356.9L970.5 1356.7L971.3 1356.3L971.9 1355.9L972.5 1355.2L973 1354.5L973.5 1353.7L973.8 1352.9L973.9 1351.9Z" fill="#b5b82a" fill-opacity="0.90" filter="url(#b1)"/>
<path d="M921.2 1288.5L930.7 1289.1L927.1 1282.9L925.4 1283.8L923.5 1285.2L922.4 1286.6ZM931.1 1289.2L942.7 1288.6L937.3 1280.8L937.3 1280.8L937 1280.8L936.9 1280.8L936.3 1280.8L936.2 1280.8L935.9 1280.8L935.9 1280.8ZM936.9 1298.7L945.1 1296.6L941.4 1288.6ZM960.3 1290.5L967.1 1297.4L968.4 1295.2L968.1 1294.9L967.9 1294.6L967.8 1294.5L967.3 1293.9L967.2 1293.8L967 1293.5L966 1291.8L964 1290.8L963.7 1290.6L963.6 1290.6L963.3 1290.4ZM912.3 1306.4L916.7 1296.7L913.9 1296.8L913.8 1297.1L913.8 1297.2L913.5 1297.9L913.5 1298L913.2 1298.6L913.1 1298.7L912.7 1299.3L912.7 1299.4L912.3 1299.9L912.2 1300L911.9 1300.3L910.5 1301.8L909.9 1303.5ZM911.7 1305.8L922.8 1305.9L917.6 1297.2ZM965.3 1296.7L972 1306.9L974.2 1303.1L972.6 1300.9L972.4 1300.6L972.3 1300.4L972.1 1300.1L970.5 1297.3L970 1296.9ZM917.6 1315.9L911.6 1306.8L907.8 1312.5L908.4 1315.4L908.5 1315.9L908.5 1316ZM917.8 1316.4L920.4 1308.1L911.6 1306.7ZM946.2 1315.5L952.1 1306.8L942 1306.1ZM922.4 1324.6L931.1 1324.4L925.2 1314.2ZM951 1324.8L962.5 1323.2L955.7 1316.3ZM971.1 1323.4L976.6 1315.2L967.6 1316.1ZM976.4 1315.6L972.1 1323.1L981.6 1324.9L981.7 1324.7ZM975.2 1314.9L980.3 1324L982.8 1321.1L982.8 1320.4L981.9 1318.3L980.5 1315.2ZM957.6 1332.8L960.3 1323.2L951.5 1322.7ZM976.6 1331.4L982.1 1331.9L982.1 1331.9L981.8 1331.3L981.7 1331.1L981.5 1330.5L981.4 1330.3L981.3 1329.7L981.2 1329.5L981.1 1328.8L981.1 1328.7L981.1 1328L981.1 1327.8L981.1 1327.1L981.1 1327L981.2 1326.3L981.2 1326.1L981.4 1325.5L981.5 1325.3L981.6 1325ZM922.6 1341.7L931.7 1340.9L927.2 1331.1ZM942.5 1341.2L947.3 1331.9L935.5 1331.2ZM972.4 1341.4L976.5 1333L965.2 1333.3ZM972.4 1340.3L981.3 1340.9L976.4 1332.8ZM976.2 1331.8L982.4 1340.7L985.4 1335.2L985 1335.1L984.9 1335L984.3 1334.6L984.2 1334.5L983.7 1334L983.6 1333.9L983.1 1333.4L983 1333.3L982.6 1332.7L982.5 1332.6L982.2 1332L982.1 1331.9L981.9 1331.5ZM917.6 1350.2L912.6 1343.2L912.6 1343.5L912.6 1343.7L912.5 1344.4L912.5 1344.5L912.3 1345.1L912.3 1345.3L912.2 1345.6L911.5 1347.5L912.1 1349.5L912.1 1349.9L912.2 1350L912.3 1350.6ZM946.5 1351L950.8 1342.5L942.4 1340.5ZM976.6 1351L987.1 1348.8L980 1341.3ZM987.2 1349.9L990.3 1340.1L982.7 1340.2ZM992.7 1340.5L997.8 1350.9L1000.9 1344L1000.6 1343.9L1000.5 1343.8L999.9 1343.4L999.8 1343.3L999.2 1342.8L999.1 1342.7L998.6 1342.2L998.5 1342.1L998.3 1341.8L997.8 1341.1ZM952 1359.3L961.5 1358.6L955.7 1348.7ZM936 1367.5L940.6 1357.1L932 1359.9ZM955.3 1365.9L961.3 1358.6L952.3 1358.7ZM975.7 1368L982 1359.5L971.7 1358.9ZM930.8 1377.1L935.1 1366.7L925.5 1366.2ZM951.4 1377.2L962 1376.3L956.6 1366.4ZM960.1 1377.1L972.8 1376.5L965.8 1368ZM992.2 1376.3L1000.5 1374.6L995.2 1366.6ZM905.2 1383.6L915 1384.8L911.6 1378.5L911.5 1378.6L911.1 1379.2L911 1379.3L910.5 1379.8L910.4 1379.9L909.9 1380.4L909.7 1380.5L909.2 1380.9L909 1380.9L908.4 1381.3L908.3 1381.4L907.6 1381.6L907.5 1381.7L906.8 1381.9L906.7 1382L906.3 1382L906.1 1382.1ZM926.3 1384.1L932.2 1376.4L920.8 1375.1ZM955 1385.3L966.9 1385.5L960.6 1374.4ZM996.3 1385.9L1005.2 1383.1L1002.2 1374.8ZM1007.1 1384.3L1015.9 1385.3L1010.1 1376.8ZM890.2 1393.4L888.6 1389.5L888 1389.7L887.2 1390.9L886.4 1392.3L886.3 1393.4ZM950 1394.5L956.9 1385.9L946.6 1383.1ZM971.1 1392.6L977.3 1385.1L965.2 1384.5ZM990.4 1393.3L997.1 1385.7L986.2 1383.1ZM992.6 1392.3L1001.9 1393.2L997.7 1383.4ZM1012.6 1392.5L1017.6 1384.5L1006.6 1383.3ZM895.7 1402.8L902.2 1394.2L892.3 1394.4ZM907 1403.2L910.4 1391.8L900.2 1393ZM905.6 1401.8L916 1402.9L911.7 1394.7ZM917.6 1402.6L924.9 1400.7L922.3 1392.2ZM937 1401.5L946.3 1401.7L942 1393.7ZM957.7 1401L960.4 1392.5L950.2 1393.2ZM900.6 1410.8L907.5 1400.7L897.6 1402.6ZM912.6 1409.7L915.7 1401.8L904.9 1401ZM912.2 1410L920.9 1411.9L914.9 1400.4ZM951.1 1411.1L955.9 1400.6L945.9 1400.5ZM961.8 1409.8L971.8 1411.5L966.4 1402.1ZM982.8 1411.1L986.6 1401.7L974.9 1402.9ZM991.4 1411.4L1000.4 1409.9L997.1 1401ZM1006.1 1401.8L1001.2 1411.6L1011.1 1410.7L1011.1 1410.5L1011.1 1410.4L1011.2 1409.8ZM886 1419L895.5 1419.4L891.3 1409.4ZM946.7 1419.5L957.8 1420.1L952.4 1409.4ZM967 1419.8L977.2 1419.7L972.3 1411.8ZM986.2 1418.2L991.4 1409.3L980.9 1409.3ZM996.6 1418.9L999.9 1409.5L992.4 1409.3ZM892.3 1427L895.2 1420.3L885.9 1419.2ZM980.4 1428.2L992.6 1429.1L986.9 1418.3ZM991.4 1428.5L995.7 1417.8L987.6 1420.5ZM891.7 1426.3L890.5 1428.4L892.6 1430.5L894.2 1431.7ZM899.9 1426.4L897.7 1431.9L899.4 1431.8L899.8 1431.8L900 1431.8L900.7 1431.8L900.9 1431.8L901.3 1431.9L903.9 1432.3ZM925.3 1436.1L920.3 1426.7L916.1 1433.8L916.3 1433.9L916.4 1433.9L917.1 1434.2L917.3 1434.3L917.6 1434.5L920.1 1435.8ZM925.3 1435.7L932.1 1426.8L922.8 1429.2ZM966.3 1435.6L970.2 1428.6L962.3 1427.3ZM972.3 1445.7L975.3 1437.8L966.7 1435.3ZM1002.4 1445.5L1006.3 1435.5L997 1436.8ZM1011.4 1444.1L1016.9 1435.8L1006.1 1437.6ZM941.4 1445.5L932.8 1444.4L934.2 1447.4L936.7 1449.3L937 1449.6L937.1 1449.7L937.6 1450.3L937.7 1450.4L938.2 1451L938.3 1451.1L938.5 1451.4L938.8 1451.8ZM947.7 1455L950.3 1444.9L941 1446.3ZM946 1454.4L940.1 1453.9L940.5 1454.5L943 1457.1L943.2 1457.3L943.3 1457.4L943.4 1457.6L943.8 1458ZM982.6 1461.5L990.3 1462.9L986.5 1453.8ZM991.1 1461.5L1002.1 1462.7L997.1 1454ZM955.2 1470L962.3 1462.8L951 1463.6ZM976.9 1470.8L986.8 1472.2L982.7 1461.4ZM997.2 1472L1002.1 1462.9L992.6 1463.3ZM971.6 1479.4L976.8 1470.3L965.3 1471ZM980.4 1478.4L990.5 1480.5L987.3 1471.9ZM999.9 1481.2L1010.1 1480.9L1007.1 1472.4ZM1006.5 1488.6L1011.3 1481.2L1000.5 1480.8ZM975.9 1487.2L974.2 1492.9L974.6 1493.2L975.3 1493.4L978.1 1493.3L978.5 1493.3L978.7 1493.3L979.3 1493.4ZM997.8 1487.5L993.8 1494.8L994.7 1494.9L995.9 1494.7L998 1493.1L998.3 1492.9L998.4 1492.8L999 1492.4L999.2 1492.3L999.8 1492L1000 1492L1000.2 1491.9Z" fill="#000" fill-opacity="0.05"/>
<path d="M950.6 1290.1L954.7 1284.8L952.5 1283L949.7 1282L948.2 1281.5L947.1 1281.7ZM947.3 1297.9L957.6 1296.6L950.3 1287.8ZM965.2 1298.4L970.6 1297.5L970.5 1297.3L968.1 1294.9L968.1 1294.9ZM911.9 1307.2L909.9 1303.7L909.9 1303.7L909.8 1304L909.8 1304.1L909.6 1304.6L909.5 1304.7L909.4 1305L908.2 1307.5ZM951.7 1305.4L962.5 1307.7L955.3 1298.8ZM962.5 1306.5L966.3 1299.4L955.5 1298.9ZM911.1 1324.2L917.5 1314.1L908.2 1314.3L908.4 1315.4L908.5 1315.9L908.5 1316L908.6 1316.9L908.6 1317.1L908.5 1317.5L908.5 1319.2ZM932.6 1340.5L940.2 1341.1L935.9 1334ZM962.8 1340.2L967.3 1331.2L957.4 1332.2ZM990.2 1341.2L997.5 1340.8L997.4 1340.7L996 1340.4L995.7 1340.4L995.6 1340.3L994.9 1340.1L994.8 1340.1L994.2 1339.9L994.1 1339.8L993.5 1339.5L993.4 1339.5L992.8 1339.1L992.7 1339.1L992.2 1338.7L992.1 1338.6L991.9 1338.4L991.8 1338.3ZM1005.5 1350.4L1010.2 1350.4L1009 1349.8L1008.7 1349.7L1008.5 1349.6L1007.9 1349.3L1007.8 1349.2L1007.2 1348.8L1007.1 1348.8L1006.7 1348.4ZM917.8 1348.6L912.1 1349.6L912.1 1349.9L912.2 1350L912.3 1350.8L912.3 1350.9L912.3 1351.7L912.3 1351.9L912.3 1352.6L912.2 1352.8L912.2 1353.2L911.8 1355.5L912 1356.4ZM970.4 1359.4L981.8 1357.2L977.5 1348.5ZM1002.6 1359.3L1011.2 1357.4L1005.3 1349.4ZM917.5 1368.5L912.7 1358.8L912.7 1359L912.7 1359.1L912.8 1359.7L912.8 1359.9L912.8 1360.5L912.8 1360.6L912.8 1361.2L912.7 1361.4L912.7 1361.7L912.2 1364.9L912.7 1367.8ZM946.5 1366.5L950.7 1359.8L942.3 1358.7ZM945.7 1368.1L955.9 1368.7L950 1357.5ZM957.7 1367.7L965.5 1366.9L961.1 1357.2ZM986 1367.5L991.5 1357.2L980.3 1359.3ZM920.5 1375.4L916.5 1366.8L913 1373.4L913.1 1373.6L913.1 1373.7L913 1374.4L913 1374.6L912.9 1375.3L912.9 1375.4L912.8 1375.9ZM931 1376.4L941.2 1377L936.1 1366.9ZM949.9 1375.5L955.7 1365.9L945.1 1366.7ZM980 1375.6L985 1367.3L976.8 1367ZM1001.2 1377.2L1012.1 1376.6L1007 1368.6ZM1010.9 1376.2L1016.2 1365.8L1005.9 1366.4ZM905.5 1384.6L907.4 1381.7L906.8 1381.9L906.7 1382L906.3 1382L904.8 1382.4ZM926.2 1384.4L936.9 1384.4L932.8 1376.1ZM1015.1 1384.2L1025.7 1383.5L1022.8 1374.6ZM1026.9 1383.1L1029.6 1383.7L1029.4 1382.3L1028.2 1380.3ZM890.8 1393.2L897.3 1385.7L893.5 1384.9L893.5 1385L893.3 1385.4L893.2 1385.5L892.8 1386.1L892.7 1386.3L892.3 1386.8L892.2 1387L891.6 1387.5L891.5 1387.6L891 1388.1L890.8 1388.2L890.2 1388.6L890.1 1388.7L889.8 1388.8L889.2 1389.2ZM901.9 1392.1L906.3 1385L895.1 1385.7ZM910.2 1393.3L915.3 1383.4L907.4 1383.8ZM942.3 1394L947.7 1385L936.5 1383.5ZM942.6 1393.6L951.9 1393.5L947.3 1385.8ZM970.8 1392.6L980.1 1392.6L975.5 1384ZM915.7 1402.4L921.8 1392.3L912.8 1393.1ZM937.2 1401.5L940.8 1393.8L932 1392.2ZM975.9 1401.7L987 1402.4L982.5 1394.3ZM987.6 1403.3L997.8 1401.9L990.9 1394.4ZM1016.4 1400.7L1022.4 1393.5L1011.1 1394.5ZM881.9 1409.4L892.1 1409.1L886.3 1400.8ZM930.5 1410.8L942 1411.5L936.1 1401.2ZM896.7 1420.2L901.5 1411.1L891.8 1410.7ZM925.6 1417.7L932.2 1411.9L922.2 1410.1ZM885.8 1418.3L884.4 1420.9L885 1422L886.6 1424.8L889.2 1427.1L889.3 1427.2L889.4 1427.3L889.5 1427.4L890.7 1428.6ZM920.4 1428L925.6 1418.7L917.1 1418.8ZM942.3 1428.3L951.9 1427.1L946.9 1418.7ZM950.1 1426.6L961.8 1428.3L955.6 1418.5ZM960.3 1427.2L972.8 1427.8L964.9 1418.1ZM970.9 1429.1L980.7 1429.1L975.9 1420.5ZM1010.8 1428.8L1017.3 1427.4L1017.2 1427.2L1017 1426.9L1016.9 1426.7L1016.6 1425.9L1016.5 1425.7L1016.4 1425.3L1015.5 1422.2L1014.9 1421.4ZM976.4 1436.4L987.2 1435.5L982.4 1427.2ZM1011.8 1429.3L1015 1436.3L1019 1430.9L1018.7 1429.8L1017.8 1428.1ZM940.8 1444L951.9 1445.1L945.6 1437ZM960.6 1444.1L972.6 1445.3L967.6 1435ZM1020.3 1446.4L1022.1 1446.3L1022.1 1445.8L1022.1 1445.6L1022.2 1445L1022.2 1444.8L1022.4 1444.2L1022.4 1444L1022.6 1443.7L1022.7 1443.2L1022.5 1442.8ZM976.2 1454.2L985.8 1455.1L980.6 1446.2ZM951.5 1462.4L947.2 1453.1L943.9 1458.1L945.5 1460.1L948.3 1462L948.6 1462.2L948.7 1462.2L949.2 1462.6L949.3 1462.7ZM962 1462.6L966.3 1452.8L956.5 1453.2ZM962.1 1463.2L970.3 1463.9L967.8 1453.2ZM1001.5 1463.6L1005.9 1454.1L996 1453.2ZM966.2 1472.4L956.8 1469.7L958.4 1474.4L959.4 1475.1L959.7 1475.3L959.9 1475.4L960.4 1475.9L960.6 1476L961.1 1476.6L961.2 1476.7L961.4 1477L962.2 1478.1ZM981.8 1479.6L987.1 1470L975.9 1472.3ZM992.4 1480.9L1002.3 1479.3L995.4 1472.2ZM1015.1 1469.9L1018.9 1477.7L1018.9 1477.7L1019.2 1477.5L1021.4 1476L1022.3 1474.4L1022.9 1472.5L1023 1471.8ZM985.4 1489.6L997.5 1487.8L992.5 1478.5ZM995.4 1488.6L985.4 1488.9L989.1 1494.4L991.2 1494.6L991.5 1494.6L991.6 1494.6L991.8 1494.6L992 1494.6Z" fill="#fff" fill-opacity="0.05"/>
<g clip-path="url(#c12)" fill="none" stroke-linejoin="round"><use href="#p12" stroke="#2d6f8c" stroke-width="17.6" stroke-opacity="0.40"/><use href="#p12" stroke="#355e8d" stroke-width="14.4" stroke-opacity="0.70"/><use href="#p12" stroke="#3e4989" stroke-width="11.2" stroke-opacity="0.90"/><use href="#p12" stroke="#453781" stroke-width="8"/><use href="#p12" stroke="#482a78" stroke-width="4.4"/></g>
<path d="M1549.4 1268.9L1544.8 1271.5L1541 1275L1537.2 1278.2L1533.2 1281.4L1530.2 1285.3L1527.5 1289.2L1524.8 1293.2L1522.5 1297.4L1519.9 1302.6L1518.7 1308.1L1516.8 1313.5L1517.9 1318L1519.6 1322L1520.9 1326L1521.4 1331.3L1521.9 1336.6L1522.2 1342.1L1524.4 1346.3L1522.5 1351.4L1525.8 1355.6L1524.6 1360.4L1525.9 1364.2L1522.1 1363.7L1517.5 1364.2L1513.4 1367.6L1509.4 1370.6L1504.8 1373.3L1503.7 1377.7L1499.9 1380.2L1497.7 1384.1L1496.6 1389.5L1495.3 1394.7L1493.6 1400.1L1495.4 1404.5L1493.5 1409.3L1496.3 1413.5L1495.5 1418.1L1498.9 1422.4L1502 1426.4L1504.9 1430.6L1509.6 1433.4L1514.8 1434.5L1518.4 1438.8L1523.5 1440.6L1527.9 1443.3L1531.7 1445.6L1534.1 1449.8L1538.6 1451.8L1540.8 1455.8L1543.9 1459.4L1547.2 1462.6L1550.8 1465.7L1552.9 1470.4L1557.9 1472.3L1559.6 1477.3L1564.5 1479.3L1566.5 1483.6L1568.4 1488.5L1568.3 1494.2L1572.3 1497L1573.1 1502.2L1578.1 1504L1579 1508.9L1582.6 1511.9L1585.2 1516.4L1590.7 1517.7L1593.5 1521.5L1596.8 1525.4L1603.3 1526.3L1609.7 1526.1L1614.6 1524.7L1619.2 1522.6L1624.2 1522.2L1629.3 1520.7L1632.8 1517.1L1636.7 1513.9L1639.9 1510L1643.5 1506.5L1647 1502.9L1648 1498.1L1650.5 1494L1650.3 1488.9L1654 1485.2L1650.8 1481.4L1649 1477.8L1647.9 1472.7L1649.4 1467.1L1647 1461.7L1644.2 1457.6L1641.1 1453.6L1638.8 1449.6L1641.6 1445.5L1645.2 1441.1L1647 1435.4L1647.2 1430.2L1646.4 1424.9L1647.4 1419.8L1649.6 1416.4L1653.6 1413.7L1654.3 1408.7L1658 1406L1659.9 1401.1L1662.2 1396.6L1662.8 1391.4L1664.5 1386.8L1663.2 1381.8L1665 1377.2L1663.3 1372.6L1663.9 1367.4L1661.3 1362.9L1659.7 1357.7L1654.8 1354.6L1653.1 1349.8L1650.8 1345L1647.2 1342L1643.1 1340.2L1640.3 1336.5L1636.3 1334.5L1632 1330.7L1626.4 1329.4L1622.1 1325.9L1617.2 1323.7L1614.8 1318.5L1611.7 1313.5L1610.4 1307.9L1606.7 1303.5L1604.3 1298.6L1601 1294L1598.9 1289.5L1594.6 1286.7L1593 1282L1589.6 1278.5L1586.9 1274.2L1582.3 1273.1L1578.1 1270.6L1573.2 1270.6L1569.2 1267.7L1564.1 1268.7L1559.2 1268.6L1554.4 1269.5Z" fill="#6a5799" fill-opacity="0.60"/>
<path d="M1639.6 1421.2L1648.5 1421L1647 1437L1645 1442L1637 1452L1629 1444L1620 1432Z" fill="#6b4d8e" fill-opacity="0.75"/>
<defs><path id="p13" d="M1550 1271.6L1547.5 1273.3L1544.9 1276.1L1544.8 1276.2L1544.6 1276.3L1544.4 1276.5L1541.2 1278.3L1538.8 1281.2L1538.7 1281.3L1538.5 1281.5L1538.3 1281.6L1538.1 1281.7L1535.1 1283.3L1533.7 1286.1L1533.6 1286.3L1533.4 1286.5L1533.3 1286.7L1530.8 1289.2L1529.2 1292.3L1529.2 1292.5L1529.1 1292.7L1526.9 1295.6L1525.1 1298.8L1523.3 1302.3L1522.4 1306.1L1522.3 1306.4L1520.9 1310.2L1520 1313.7L1520.6 1317.2L1522.3 1320.8L1522.4 1321L1522.4 1321.2L1522.5 1321.4L1523.3 1325.6L1524.2 1329.5L1524.2 1329.7L1524.2 1329.9L1524.3 1333.8L1524.8 1337.6L1524.9 1337.8L1525.1 1341.5L1526.3 1344.9L1526.3 1345.2L1526.4 1345.4L1526.4 1345.7L1526.4 1345.9L1526 1349.5L1526.9 1352.8L1527 1353L1527 1353.3L1527 1353.5L1526.8 1357L1528.2 1360.2L1528.2 1360.4L1528.3 1360.6L1528.3 1360.8L1528.3 1361L1528.5 1364.9L1528.5 1365.1L1528.4 1365.3L1528.4 1365.5L1528.3 1365.7L1528.2 1365.9L1528.1 1366.1L1528 1366.3L1527.9 1366.4L1527.7 1366.6L1527.5 1366.7L1527.4 1366.8L1527.2 1366.9L1527 1367L1526.8 1367.1L1526.6 1367.1L1522.4 1367.7L1522.2 1367.7L1522 1367.7L1521.8 1367.7L1518.4 1367.3L1516.4 1369.1L1516.2 1369.3L1516 1369.4L1515.8 1369.5L1515.6 1369.6L1512.3 1370.7L1509.9 1373.1L1509.6 1373.2L1507 1375.1L1505.2 1378.5L1505.1 1378.7L1504.9 1378.9L1502.2 1381.9L1500.4 1385.3L1499.2 1388.5L1499.3 1392.3L1499.3 1392.5L1499.3 1392.7L1499.2 1393L1499.2 1393.2L1499.1 1393.4L1497.4 1396.8L1497 1400.4L1496.6 1404.3L1498.3 1408.1L1498.3 1408.3L1498.4 1408.6L1498.4 1408.8L1498.4 1409L1498.4 1413.4L1498.8 1417.2L1500.4 1419.9L1502.6 1422.8L1502.6 1422.9L1504.7 1425.9L1506.8 1428.5L1510 1430.7L1513.8 1432.5L1514.1 1432.6L1517.6 1434.8L1521.5 1436.3L1521.7 1436.4L1525.5 1438.5L1529.4 1440.5L1529.6 1440.6L1529.7 1440.7L1529.9 1440.8L1530 1441L1532.5 1443.8L1535.5 1446.1L1535.7 1446.2L1535.8 1446.3L1536 1446.5L1536.1 1446.6L1537.9 1449.6L1540.9 1451.5L1541.1 1451.6L1541.3 1451.8L1541.5 1451.9L1541.6 1452.1L1543.6 1455.1L1546.5 1457.2L1546.7 1457.3L1546.8 1457.4L1547 1457.6L1549.3 1460.5L1552.4 1462.9L1552.5 1463.1L1552.6 1463.2L1552.8 1463.4L1552.9 1463.5L1553 1463.7L1554.6 1467.1L1557.6 1469.2L1557.7 1469.3L1557.9 1469.4L1558 1469.6L1558.1 1469.7L1560.3 1473L1563.1 1475.7L1563.2 1475.8L1565.9 1478.8L1568.8 1481.5L1569 1481.7L1569.1 1481.8L1569.2 1482L1569.3 1482.2L1569.4 1482.4L1569.5 1482.6L1569.5 1482.8L1569.6 1483L1569.6 1483.3L1569.4 1486.6L1570.5 1489.6L1570.5 1489.9L1570.6 1490.1L1571 1492.9L1573.7 1495.5L1573.9 1495.7L1574 1495.9L1574.1 1496L1574.2 1496.2L1575.8 1499.9L1579.3 1502.1L1579.4 1502.3L1579.6 1502.4L1579.7 1502.6L1579.9 1502.7L1580 1502.9L1580.1 1503.1L1581.8 1507L1584.7 1509.9L1584.8 1510.1L1587.1 1512.9L1590.1 1514.9L1590.2 1515.1L1590.4 1515.3L1592.9 1518L1595.9 1520.1L1596.1 1520.2L1596.2 1520.3L1596.3 1520.5L1598.1 1522.7L1601.3 1522.5L1601.5 1522.5L1601.8 1522.6L1605.7 1523.3L1609.4 1523.3L1612.9 1522.5L1616.6 1521.3L1616.9 1521.2L1620.6 1520.6L1623.9 1518.8L1624.1 1518.7L1624.3 1518.6L1624.5 1518.6L1624.7 1518.5L1628 1518.3L1630.3 1516L1630.4 1515.9L1633.2 1513.5L1635.2 1510.3L1635.3 1510.1L1635.5 1509.9L1635.6 1509.8L1635.8 1509.6L1638.9 1507.4L1641.4 1504.8L1643.1 1502.1L1643.6 1498.5L1643.6 1498.3L1643.7 1498.1L1643.8 1497.9L1643.9 1497.7L1644 1497.6L1646.1 1494.5L1647.5 1491.2L1647.6 1491L1649.3 1487.6L1650.4 1485.1L1648.9 1482.7L1646.6 1479.3L1646.5 1479.1L1646.4 1478.9L1646.3 1478.7L1646.2 1478.5L1646.2 1478.3L1645.8 1474.2L1645.8 1474.2L1645.5 1470.2L1645.5 1470.2L1645.2 1466.3L1644.5 1462.7L1643.1 1459.9L1640.7 1457.5L1640.5 1457.3L1640.4 1457.1L1638.3 1454L1636.1 1451L1636 1450.8L1635.9 1450.6L1635.8 1450.4L1635.8 1450.2L1635.7 1450L1635.7 1449.8L1635.7 1449.6L1635.7 1449.4L1635.8 1449.2L1636.7 1445.4L1636.1 1441.5L1636.1 1441.3L1636.1 1441L1636.1 1440.8L1636.1 1440.6L1637 1436.7L1636.6 1432.7L1636.6 1432.5L1636.6 1432.3L1636.7 1432.1L1636.7 1431.9L1637.9 1428L1637.7 1424.1L1637.7 1423.9L1637.7 1423.6L1637.8 1423.4L1637.8 1423.2L1637.9 1423L1638 1422.8L1638.2 1422.6L1638.3 1422.4L1641.2 1419.6L1643.4 1416.1L1643.5 1415.9L1643.7 1415.8L1643.9 1415.6L1647.1 1413.1L1649.7 1410.1L1649.9 1409.9L1652.9 1407.1L1655.4 1404.3L1656.7 1401.3L1657.5 1397.9L1657.6 1397.7L1657.7 1397.5L1659.1 1394.1L1660.3 1390.7L1661.5 1386.4L1661.7 1381.8L1661.7 1381.7L1662.2 1377.4L1661 1373.1L1661 1372.9L1661 1372.7L1660.6 1368.2L1658.8 1364.1L1656.9 1360.8L1654.3 1357.8L1654.2 1357.6L1654.1 1357.4L1654 1357.2L1653.9 1357L1652.7 1353.5L1650.2 1350.7L1650.1 1350.6L1650 1350.4L1649.9 1350.2L1649.8 1350L1648.5 1346.7L1645.4 1344.6L1645.2 1344.5L1642 1341.7L1638.4 1339.5L1638.2 1339.4L1638 1339.3L1634.9 1336.5L1631.2 1334.6L1631.2 1334.5L1627.3 1332.4L1623.5 1330.3L1623.3 1330.2L1623.2 1330.1L1619.9 1327.6L1616 1326.4L1615.8 1326.4L1615.6 1326.3L1615.4 1326.2L1615.2 1326L1615.1 1325.9L1614.9 1325.7L1614.8 1325.6L1614.7 1325.4L1614.6 1325.2L1613.1 1321.7L1611 1318.6L1610.8 1318.4L1610.7 1318.2L1610.7 1318L1609.5 1314.5L1607.4 1310.8L1607.4 1310.7L1605.3 1306.9L1603 1303.3L1602.9 1303.1L1602.8 1302.9L1601.1 1299L1598.9 1295.3L1598.9 1295.2L1597.1 1292L1594.4 1289.3L1594.3 1289.1L1594.1 1289L1594 1288.7L1592.4 1285.6L1589.4 1283.5L1589.2 1283.3L1589.1 1283.2L1588.9 1283L1588.8 1282.8L1588.7 1282.6L1587.1 1279.1L1585.2 1276.4L1581.8 1274.7L1577.4 1274.4L1577.2 1274.3L1577 1274.3L1576.8 1274.2L1576.6 1274.1L1576.5 1274L1572.8 1271.7L1568.6 1270.9L1565.3 1270.3L1562 1271.5L1561.8 1271.6L1561.5 1271.6L1561.3 1271.6L1561.1 1271.6L1560.9 1271.6L1557.4 1271.1L1554 1272L1553.9 1272.1L1553.7 1272.1L1553.5 1272.1L1553.3 1272.1L1553.1 1272.1Z"/><clipPath id="c13"><use href="#p13"/></clipPath></defs>
<use href="#p13" fill="#27818b"/>
<g clip-path="url(#c13)">
<path d="M1546.3 1395.4L1544.2 1390.5L1541.4 1386L1538.2 1382L1534.5 1378.5L1530.4 1375.6L1526.1 1373.5L1521.6 1372.2L1517.1 1371.7L1512.6 1371.9L1508.4 1373.1L1504.4 1374.9L1500.8 1377.6L1497.7 1380.9L1495.1 1384.8L1493.2 1389.2L1491.9 1394L1491.3 1399L1491.4 1404.2L1492.2 1409.5L1493.7 1414.6L1495.8 1419.5L1498.6 1424L1501.8 1428L1505.5 1431.5L1509.6 1434.4L1513.9 1436.5L1518.4 1437.8L1522.9 1438.3L1527.4 1438.1L1531.6 1436.9L1535.6 1435.1L1539.2 1432.4L1542.3 1429.1L1544.9 1425.2L1546.8 1420.8L1548.1 1416L1548.7 1411L1548.6 1405.8L1547.8 1400.5Z" fill="#2a728b" fill-opacity="0.70" filter="url(#b5)"/>
<path d="M1522 1362L1530 1362L1560 1398L1556 1402Z" fill="#34608c" fill-opacity="0.90" filter="url(#b3)"/>
<path d="M1530 1446L1534 1440L1560 1462L1556 1468Z" fill="#34608c" fill-opacity="0.60" filter="url(#b3)"/>
<path d="M1639.2 1474L1636.3 1469.9L1632.7 1466.3L1628.5 1463.4L1623.8 1461.1L1618.7 1459.7L1613.4 1459L1607.9 1459.1L1602.4 1460.1L1597.1 1461.8L1592 1464.3L1587.3 1467.4L1583.1 1471.2L1579.6 1475.5L1576.7 1480.2L1574.6 1485.1L1573.4 1490.3L1573 1495.5L1573.4 1500.6L1574.7 1505.4L1576.8 1510L1579.7 1514.1L1583.3 1517.7L1587.5 1520.6L1592.2 1522.9L1597.3 1524.3L1602.6 1525L1608.1 1524.9L1613.6 1523.9L1618.9 1522.2L1624 1519.7L1628.7 1516.6L1632.9 1512.8L1636.4 1508.5L1639.3 1503.8L1641.4 1498.9L1642.6 1493.7L1643 1488.5L1642.6 1483.4L1641.3 1478.6Z" fill="#33588b" fill-opacity="0.90" filter="url(#b5)"/>
<path d="M1629.1 1487L1627.4 1484.7L1625.3 1482.7L1622.9 1481.1L1620.1 1479.9L1617.1 1479.2L1613.9 1478.9L1610.6 1479.1L1607.3 1479.8L1604.1 1480.9L1601 1482.4L1598.1 1484.3L1595.6 1486.6L1593.3 1489.1L1591.5 1491.9L1590.2 1494.8L1589.3 1497.7L1588.9 1500.7L1589.1 1503.6L1589.8 1506.4L1590.9 1509L1592.6 1511.3L1594.7 1513.3L1597.1 1514.9L1599.9 1516.1L1602.9 1516.8L1606.1 1517.1L1609.4 1516.9L1612.7 1516.2L1615.9 1515.1L1619 1513.6L1621.9 1511.7L1624.4 1509.4L1626.7 1506.9L1628.5 1504.1L1629.8 1501.2L1630.7 1498.3L1631.1 1495.3L1630.9 1492.4L1630.2 1489.6Z" fill="#3a4e89" fill-opacity="0.75" filter="url(#b5)"/>
<path d="M1635.7 1354.8L1631.6 1346.3L1626.6 1338.4L1620.8 1331.4L1614.3 1325.4L1607.3 1320.5L1599.9 1316.9L1592.3 1314.6L1584.8 1313.8L1577.5 1314.4L1570.5 1316.4L1564.1 1319.7L1558.4 1324.4L1553.6 1330.3L1549.7 1337.1L1546.9 1344.8L1545.3 1353.2L1544.8 1362.1L1545.5 1371.2L1547.4 1380.3L1550.3 1389.2L1554.4 1397.7L1559.4 1405.6L1565.2 1412.6L1571.7 1418.6L1578.7 1423.5L1586.1 1427.1L1593.7 1429.4L1601.2 1430.2L1608.5 1429.6L1615.5 1427.6L1621.9 1424.3L1627.6 1419.6L1632.4 1413.7L1636.3 1406.9L1639.1 1399.2L1640.7 1390.8L1641.2 1381.9L1640.5 1372.8L1638.6 1363.7Z" fill="#25908a" fill-opacity="0.90" filter="url(#b3)"/>
<path d="M1625.8 1361.7L1622.7 1354.5L1618.9 1347.8L1614.4 1341.7L1609.3 1336.4L1603.8 1332.1L1598 1328.8L1592.1 1326.5L1586.2 1325.5L1580.4 1325.7L1574.9 1327L1569.8 1329.5L1565.3 1333.1L1561.4 1337.7L1558.3 1343.2L1556 1349.5L1554.6 1356.3L1554.1 1363.6L1554.5 1371.2L1555.9 1378.8L1558.2 1386.3L1561.3 1393.5L1565.1 1400.2L1569.6 1406.3L1574.7 1411.6L1580.2 1415.9L1586 1419.2L1591.9 1421.5L1597.8 1422.5L1603.6 1422.3L1609.1 1421L1614.2 1418.5L1618.7 1414.9L1622.6 1410.3L1625.7 1404.8L1628 1398.5L1629.4 1391.7L1629.9 1384.4L1629.5 1376.8L1628.1 1369.2Z" fill="#2ea67c" filter="url(#b2)"/>
<path d="M1619.6 1366L1617.2 1359.8L1614.1 1353.8L1610.5 1348.4L1606.5 1343.7L1602.1 1339.7L1597.5 1336.6L1592.7 1334.5L1587.9 1333.3L1583.2 1333.2L1578.7 1334.1L1574.6 1336L1570.8 1338.9L1567.6 1342.6L1565 1347.2L1563.1 1352.4L1561.9 1358.2L1561.4 1364.4L1561.7 1370.9L1562.7 1377.5L1564.4 1384L1566.8 1390.2L1569.9 1396.2L1573.5 1401.6L1577.5 1406.3L1581.9 1410.3L1586.5 1413.4L1591.3 1415.5L1596.1 1416.7L1600.8 1416.8L1605.3 1415.9L1609.4 1414L1613.2 1411.1L1616.4 1407.4L1619 1402.8L1620.9 1397.6L1622.1 1391.8L1622.6 1385.6L1622.3 1379.1L1621.3 1372.5Z" fill="#55bd62" filter="url(#b2)"/>
<path d="M1612.3 1373.6L1610.7 1368.6L1608.7 1364L1606.2 1359.7L1603.4 1355.9L1600.3 1352.6L1597 1350L1593.6 1348.1L1590.1 1347L1586.7 1346.7L1583.5 1347.1L1580.4 1348.4L1577.6 1350.4L1575.2 1353.1L1573.2 1356.4L1571.6 1360.3L1570.6 1364.7L1570 1369.4L1570.1 1374.3L1570.6 1379.4L1571.7 1384.4L1573.3 1389.4L1575.3 1394L1577.8 1398.3L1580.6 1402.1L1583.7 1405.4L1587 1408L1590.4 1409.9L1593.9 1411L1597.3 1411.3L1600.5 1410.9L1603.6 1409.6L1606.4 1407.6L1608.8 1404.9L1610.8 1401.6L1612.4 1397.7L1613.4 1393.3L1614 1388.6L1613.9 1383.7L1613.4 1378.6Z" fill="#7fcc4c" filter="url(#b2)"/>
<path d="M1596.7 1342.4L1598.1 1340.6L1599.3 1338.6L1600.2 1336.5L1600.9 1334.4L1601.2 1332.4L1601.3 1330.5L1601.1 1328.7L1600.5 1327.1L1599.7 1325.7L1598.6 1324.5L1597.3 1323.6L1595.8 1323.1L1594.1 1322.8L1592.3 1322.9L1590.4 1323.3L1588.5 1324L1586.6 1325.1L1584.7 1326.3L1582.9 1327.9L1581.3 1329.6L1579.9 1331.4L1578.7 1333.4L1577.8 1335.5L1577.1 1337.6L1576.8 1339.6L1576.7 1341.5L1576.9 1343.3L1577.5 1344.9L1578.3 1346.3L1579.4 1347.5L1580.7 1348.4L1582.2 1348.9L1583.9 1349.2L1585.7 1349.1L1587.6 1348.7L1589.5 1348L1591.4 1346.9L1593.3 1345.7L1595.1 1344.1Z" fill="#4fba66" fill-opacity="0.90" filter="url(#b2)"/>
<path d="M1608.6 1430L1605.6 1424.3L1602.1 1419.1L1598.1 1414.3L1593.9 1410.3L1589.4 1407L1584.8 1404.5L1580.3 1402.9L1575.8 1402.3L1571.6 1402.6L1567.7 1403.8L1564.2 1406L1561.2 1409.1L1558.9 1412.9L1557.1 1417.4L1556.1 1422.5L1555.8 1428L1556.1 1433.9L1557.2 1440L1559 1446L1561.4 1452L1564.4 1457.7L1567.9 1462.9L1571.9 1467.7L1576.1 1471.7L1580.6 1475L1585.2 1477.5L1589.7 1479.1L1594.2 1479.7L1598.4 1479.4L1602.3 1478.2L1605.8 1476L1608.8 1472.9L1611.1 1469.1L1612.9 1464.6L1613.9 1459.5L1614.2 1454L1613.9 1448.1L1612.8 1442L1611 1436Z" fill="#27958a" fill-opacity="0.90" filter="url(#b3)"/>
<path d="M1603.1 1433.9L1601 1429.2L1598.4 1424.8L1595.6 1420.8L1592.5 1417.3L1589.2 1414.3L1585.9 1412.1L1582.5 1410.5L1579.2 1409.7L1576 1409.7L1573.1 1410.4L1570.5 1411.9L1568.3 1414.1L1566.5 1417L1565.1 1420.4L1564.3 1424.4L1564 1428.8L1564.2 1433.5L1564.9 1438.3L1566.2 1443.2L1567.9 1448.1L1570 1452.8L1572.6 1457.2L1575.4 1461.2L1578.5 1464.7L1581.8 1467.7L1585.1 1469.9L1588.5 1471.5L1591.8 1472.3L1595 1472.3L1597.9 1471.6L1600.5 1470.1L1602.7 1467.9L1604.5 1465L1605.9 1461.6L1606.7 1457.6L1607 1453.2L1606.8 1448.5L1606.1 1443.7L1604.8 1438.8Z" fill="#3cb172" filter="url(#b2)"/>
<path d="M1596.5 1439.6L1595.2 1436.2L1593.8 1433L1592.1 1430L1590.3 1427.4L1588.4 1425.1L1586.4 1423.3L1584.4 1422L1582.5 1421.1L1580.6 1420.9L1578.9 1421.1L1577.3 1421.9L1576 1423.2L1574.9 1425.1L1574.1 1427.3L1573.6 1429.9L1573.4 1432.9L1573.5 1436.1L1573.9 1439.5L1574.6 1442.9L1575.5 1446.4L1576.8 1449.8L1578.2 1453L1579.9 1456L1581.7 1458.6L1583.6 1460.9L1585.6 1462.7L1587.6 1464L1589.5 1464.9L1591.4 1465.1L1593.1 1464.9L1594.7 1464.1L1596 1462.8L1597.1 1460.9L1597.9 1458.7L1598.4 1456.1L1598.6 1453.1L1598.5 1449.9L1598.1 1446.5L1597.4 1443.1Z" fill="#66c25c" fill-opacity="0.95" filter="url(#b2)"/>
<path d="M1557 1418L1556.9 1416.1L1556.5 1414.3L1555.8 1412.6L1554.9 1410.9L1553.8 1409.5L1552.5 1408.3L1551 1407.3L1549.4 1406.6L1547.7 1406.1L1546 1406L1544.3 1406.1L1542.6 1406.6L1541 1407.3L1539.5 1408.3L1538.2 1409.5L1537.1 1410.9L1536.2 1412.6L1535.5 1414.3L1535.1 1416.1L1535 1418L1535.1 1419.9L1535.5 1421.7L1536.2 1423.4L1537.1 1425.1L1538.2 1426.5L1539.5 1427.7L1541 1428.7L1542.6 1429.4L1544.3 1429.9L1546 1430L1547.7 1429.9L1549.4 1429.4L1551 1428.7L1552.5 1427.7L1553.8 1426.5L1554.9 1425.1L1555.8 1423.4L1556.5 1421.7L1556.9 1419.9Z" fill="#2fa67c" fill-opacity="0.95" filter="url(#b2)"/>
</g>
<path d="M1591.4 1338.1L1592.4 1337.2L1593.3 1336.1L1594.1 1335L1594.8 1334L1595.3 1332.9L1595.6 1331.9L1595.7 1331L1595.7 1330.1L1595.5 1329.4L1595.1 1328.8L1594.5 1328.3L1593.8 1328L1593 1327.9L1592 1328L1591 1328.2L1589.9 1328.6L1588.8 1329.1L1587.6 1329.8L1586.5 1330.6L1585.4 1331.5L1584.4 1332.4L1583.5 1333.5L1582.7 1334.6L1582 1335.6L1581.5 1336.7L1581.2 1337.7L1581.1 1338.6L1581.1 1339.5L1581.3 1340.2L1581.7 1340.8L1582.3 1341.3L1583 1341.6L1583.8 1341.7L1584.8 1341.6L1585.8 1341.4L1586.9 1341L1588 1340.5L1589.2 1339.8L1590.3 1339Z" fill="#a6d135" filter="url(#b1)"/>
<path d="M1590.6 1363.8L1591.4 1361.8L1591.9 1359.7L1592.3 1357.6L1592.3 1355.6L1592.1 1353.6L1591.6 1351.8L1590.9 1350.2L1589.9 1348.8L1588.8 1347.7L1587.4 1346.9L1585.9 1346.4L1584.3 1346.2L1582.7 1346.4L1581 1346.9L1579.3 1347.6L1577.6 1348.7L1576.1 1350.1L1574.7 1351.7L1573.5 1353.4L1572.4 1355.4L1571.6 1357.4L1571.1 1359.5L1570.7 1361.6L1570.7 1363.6L1570.9 1365.6L1571.4 1367.4L1572.1 1369L1573.1 1370.4L1574.2 1371.5L1575.6 1372.3L1577.1 1372.8L1578.7 1373L1580.3 1372.8L1582 1372.3L1583.7 1371.6L1585.4 1370.5L1586.9 1369.1L1588.3 1367.5L1589.5 1365.8Z" fill="#b9c92b" filter="url(#b1)"/>
<path d="M1604.3 1389.1L1603.8 1387L1603.1 1384.9L1602 1383L1600.8 1381.4L1599.4 1379.9L1597.9 1378.7L1596.3 1377.8L1594.5 1377.3L1592.8 1377.1L1591.1 1377.2L1589.4 1377.7L1587.8 1378.5L1586.4 1379.6L1585.2 1381L1584.1 1382.6L1583.3 1384.4L1582.7 1386.4L1582.4 1388.6L1582.4 1390.7L1582.7 1392.9L1583.2 1395L1583.9 1397.1L1585 1399L1586.2 1400.6L1587.6 1402.1L1589.1 1403.3L1590.7 1404.2L1592.5 1404.7L1594.2 1404.9L1595.9 1404.8L1597.6 1404.3L1599.2 1403.5L1600.6 1402.4L1601.8 1401L1602.9 1399.4L1603.7 1397.6L1604.3 1395.6L1604.6 1393.4L1604.6 1391.3Z" fill="#c3dc2c" filter="url(#b1)"/>
<path d="M1564.4 1299.7L1569 1292.2L1557.5 1291.2ZM1549.7 1309.8L1553.1 1300.4L1544 1300.7ZM1547.6 1307.3L1559.7 1310.1L1554.4 1298.9ZM1534.9 1316.3L1544.7 1318.2L1538.8 1308.5ZM1555.2 1318.3L1557.4 1309.1L1550.2 1308.9ZM1563 1317.5L1575.3 1318.6L1568.2 1308.8ZM1583 1317.3L1588.5 1308.4L1577.9 1308.2ZM1537.4 1324.6L1543.7 1318.2L1535 1316.2ZM1578.6 1327.3L1589.8 1325.1L1584.9 1318.7ZM1589.2 1325.1L1600.2 1324.6L1592.7 1317.7ZM1563.1 1334.7L1570.2 1325.7L1560.2 1325.2ZM1582.5 1333.3L1595.3 1334.5L1589.7 1325.2ZM1595 1334.2L1604.9 1334.1L1600.1 1326.7ZM1578.7 1343.6L1588.2 1343.8L1584.4 1334.4ZM1564.4 1351.9L1568 1342.2L1558.7 1343.3ZM1575.2 1351.2L1578.5 1343.6L1569.3 1342.7ZM1543.6 1353.4L1539 1352.9L1539 1353.1L1539 1353.4L1539 1354L1538.9 1354.8L1539.3 1355.6L1539.5 1356.1L1539.5 1356.3L1539.9 1357.3L1539.9 1357.5L1539.9 1357.7ZM1569.7 1359.9L1578.2 1361.1L1572.9 1353.3ZM1587.6 1361.5L1593.7 1352.4L1584.8 1350.5ZM1598.2 1361.4L1608.4 1360.1L1603.7 1351.4ZM1563.3 1369.7L1573.1 1369.5L1569.4 1360.5ZM1643.7 1367.8L1647.3 1368.1L1647 1367.7L1645.4 1365.8ZM1537.7 1379L1542.4 1368.7L1539.7 1369.4L1539.7 1369.4L1539.3 1370.5L1539.2 1370.7L1538.7 1371.8L1538.6 1371.9L1538 1372.9L1537.9 1373.1L1537.2 1374L1537 1374.2L1536.4 1374.8ZM1548.8 1377.7L1559.9 1377L1553.7 1370.4ZM1600.2 1378.6L1604.5 1369L1594.6 1369.1ZM1524 1386.2L1527.3 1379.1L1524 1379.6L1523.5 1379.6L1523.3 1379.6L1522.3 1379.7L1522.1 1379.7L1521.7 1380L1521.5 1380.1L1520.4 1380.6L1520.2 1380.6L1520 1380.7ZM1574.8 1387.3L1584.7 1386.2L1577.4 1378.6ZM1634.3 1385.8L1638.2 1376.8L1627.5 1378.1ZM1643.9 1386.1L1648 1377.4L1638.8 1377.1ZM1647.8 1379L1643.9 1387.2L1648.8 1387.2L1648.9 1387.1L1649.6 1384.5L1649.7 1381.2L1649.8 1381.1ZM1518.8 1396.4L1514.6 1387.9L1511.3 1392.6L1511.3 1392.7L1511.2 1393.9L1511.2 1394.1L1511 1395.3L1511 1395.5L1510.9 1395.9ZM1518 1395.8L1529 1395.5L1524.9 1386.1ZM1549.1 1394.9L1553.5 1385.5L1542.6 1387.2ZM1577.6 1396.6L1589.4 1394.3L1584.2 1386ZM1514.5 1404.5L1523.6 1404.7L1519.3 1395.4ZM1532.8 1405.1L1539.4 1394.5L1527.4 1394.2ZM1544.7 1404.3L1547.7 1394.8L1539.4 1394.4ZM1565.2 1403.2L1572.9 1405.3L1570.3 1395.7ZM1595.1 1403.1L1604.9 1404.8L1598.9 1396.2ZM1602.5 1403L1614.2 1405L1608.7 1396.3ZM1548.1 1411.5L1558.3 1412.7L1555.3 1404.5ZM1589.9 1411.5L1598.6 1412.8L1593.3 1404ZM1618 1412.7L1623.4 1404.6L1614.4 1404.7ZM1543.4 1422.1L1547.6 1413.9L1538.2 1411.9ZM1602.4 1420.2L1607.6 1413.6L1598 1411.9ZM1604.4 1420.2L1614.1 1420.4L1610 1411.9ZM1612.7 1421.1L1619.1 1411.9L1609.8 1414ZM1560.2 1429.7L1565 1420.9L1553.5 1420.2ZM1618.2 1431.1L1624.2 1421.6L1613.5 1419.9ZM1623.5 1421.9L1618.9 1429.7L1624.9 1429.7L1625 1429.2L1625.1 1429L1625.2 1428.4L1625.8 1426.6L1625.7 1425.4ZM1544.9 1437.6L1538.9 1428.5L1537.3 1431.4L1537.5 1431.5L1537.6 1431.7L1538.4 1432.4L1538.6 1432.6L1539 1433L1540.7 1434.9L1542.8 1436.5L1543.2 1436.8L1543.4 1437L1544.1 1437.7ZM1552.7 1437.4L1548.9 1428.7L1544.2 1437.7L1544.2 1437.7L1544.3 1437.9L1544.6 1438.2ZM1573.4 1439.4L1578.6 1431.4L1569.2 1430.6ZM1583.3 1437.6L1594.5 1438.1L1588.9 1428.4ZM1595 1439.4L1597.7 1429.2L1590.1 1429.7ZM1592.6 1439.3L1605.3 1437.2L1599.6 1430.4ZM1618.5 1429.4L1622.8 1439L1624.8 1436.2L1624.9 1435.9L1624.7 1433.9L1624.7 1433.3L1624.6 1433.1L1624.6 1431.9L1624.7 1431.7L1624.8 1430.5L1624.8 1430.3L1625 1429.2L1625.1 1429.1ZM1578.6 1446.7L1585 1439.2L1573.8 1438.5ZM1599.5 1448.5L1605.3 1438.8L1594.1 1438.8ZM1562.6 1455.9L1573 1455.2L1569.9 1448.6ZM1574.8 1455.4L1578 1447.7L1568.6 1445.9ZM1574 1455.7L1564 1456.7L1566.4 1461L1566.8 1461.4L1567 1461.6L1567.6 1462.4L1567.8 1462.6L1568.1 1463L1568.4 1463.5ZM1580.1 1463.9L1583 1456.4L1575.2 1456.6ZM1588.1 1463.4L1597.4 1464.4L1593.7 1456.5ZM1579.6 1463.2L1570.2 1465.8L1571.5 1467.1L1571.8 1467.4L1571.9 1467.6L1572.2 1467.9L1574.4 1470.4L1574.4 1470.4ZM1605 1473.2L1609.8 1463.3L1598.3 1464.2ZM1615 1471.8L1619.2 1464.8L1607.5 1464.9ZM1590.3 1482.6L1584.3 1473.1L1580.4 1477.6L1580.5 1477.8L1580.9 1478.9L1581 1479.1L1581.3 1480.2L1581.3 1480.5L1581.4 1481.2ZM1628.4 1482.6L1635 1482.8L1634.6 1481.6L1634.6 1481.4L1634.3 1480.2L1634.3 1480L1634.2 1479.4L1633.9 1475.3L1633.9 1475.2L1633.9 1475.2L1633.9 1475.2L1633.8 1474.1ZM1624 1490.3L1628.1 1481.4L1619.6 1482.8ZM1598.6 1499.5L1594.2 1490.9L1590.3 1496.9L1590.7 1497.5L1590.8 1497.7L1591 1498.2L1591.2 1498.5ZM1598.5 1498.9L1602.8 1491.5L1594.9 1490.3ZM1610.1 1498.6L1619.2 1500.5L1614.9 1492ZM1628.2 1500.3L1618 1498.7L1622.1 1506.8L1622.7 1506.7L1622.7 1506.7L1624 1505.7L1624.9 1504.2L1625.2 1503.6L1625.3 1503.4L1626.1 1502.4L1626.2 1502.2L1627.1 1501.3L1627.3 1501.2L1628.1 1500.5Z" fill="#000" fill-opacity="0.04"/>
<path d="M1557.7 1291L1569.9 1291.8L1565.7 1282.9L1565.6 1283L1565.3 1283L1564.1 1283.3L1563.9 1283.4L1563.5 1283.4ZM1569.9 1291.2L1577.9 1292.7L1574.7 1286.1L1574.6 1286L1574.3 1286L1573.2 1285.7L1573 1285.6L1572 1285.2L1571.8 1285.1L1571.6 1285ZM1579.4 1290.7L1583.5 1301L1585.6 1297.4L1585.5 1297.4L1585.4 1297.2L1584.6 1296.2L1584.4 1296L1583.8 1294.9L1583.6 1294.7L1583.3 1294.2L1583.1 1293.7L1582.5 1293.3L1582 1292.9L1581.8 1292.7L1580.9 1291.9L1580.7 1291.8L1579.8 1290.8L1579.7 1290.7L1579.7 1290.6ZM1540.1 1308.4L1549.6 1307.5L1543.7 1300.2ZM1580 1309.2L1582.7 1299L1575.1 1300.9ZM1563.6 1316.1L1568 1309.1L1557.4 1309.3ZM1574.9 1316.1L1579.3 1307.7L1567.9 1307.2ZM1548.2 1325.6L1554.9 1316L1545 1317.5ZM1592.9 1335L1598.8 1326.9L1588.2 1325.9ZM1559.8 1344L1567.8 1343.7L1564.3 1334.5ZM1598.6 1344.7L1604.6 1335L1594.4 1333.5ZM1608.7 1344.3L1620 1342.2L1619.8 1341.9L1617.7 1340.8L1617.3 1340.6L1617.2 1340.5L1616.4 1340L1616.3 1339.9L1615.9 1339.6L1614.4 1338.5L1612.5 1337.9L1612 1337.8ZM1574.9 1352.6L1582.8 1353.4L1578.1 1342.4ZM1615.3 1351.4L1619.4 1343.6L1607.6 1343.4ZM1622.4 1351L1633 1350.9L1632.8 1350.2L1632.3 1349.9L1631.8 1349.6L1631.6 1349.4L1630.6 1348.7L1630.5 1348.6L1630 1348.2L1628 1346.4L1626.8 1345.8ZM1548 1359.5L1554.7 1350.7L1543.7 1351.8ZM1579.9 1360.5L1589.7 1360.8L1582.9 1353.2ZM1629.8 1360.9L1638.1 1361.9L1633.1 1353.3ZM1638.6 1359.5L1642.3 1360L1642.2 1359.7L1641.3 1358.8L1641 1358.4L1640.8 1358.2L1640.2 1357.3L1640.1 1357.2ZM1543.2 1367.8L1554.8 1368.4L1550.3 1360.4ZM1574.5 1369.7L1582.4 1369L1578.8 1360.1ZM1604.8 1370.6L1609.8 1360L1598.8 1361.8ZM1549 1377.3L1553.1 1368.1L1544.5 1368.6ZM1589.4 1378.4L1599.5 1376.8L1593.6 1369.8ZM1599.1 1378.6L1608.5 1378.2L1603.8 1370.2ZM1544 1386.4L1554.1 1387.5L1550 1378.9ZM1553.4 1387.3L1559 1379.4L1550.2 1377.2ZM1572.6 1386.5L1579.7 1379.3L1569.7 1377ZM1583.7 1387.9L1589.4 1378.5L1579.5 1378.9ZM1593.7 1386.4L1597.7 1378.3L1587.8 1377.5ZM1622.5 1385.2L1633.5 1385.5L1628.5 1378.3ZM1527.5 1395.7L1533.5 1386.3L1522.6 1387.6ZM1598.8 1394.4L1602.7 1387.5L1593.6 1387.9ZM1599 1396.3L1609.7 1395.6L1602.9 1388ZM1645.3 1385.9L1647.4 1391.1L1647.9 1389.7L1648.9 1387.1L1649 1386.7ZM1572.7 1404.6L1585.2 1404.6L1578 1394.4ZM1604.1 1404.9L1607.7 1396.1L1600.2 1396.7ZM1624.9 1404.2L1632.9 1402.5L1629.4 1394ZM1633 1404.2L1638.5 1396.1L1628.8 1394.8ZM1523.4 1420.8L1530.1 1413.4L1518.4 1411.6ZM1553.2 1422.3L1557.6 1413.4L1549.2 1412.7ZM1574.5 1421.1L1578 1412.1L1568.6 1412.1ZM1594.9 1422.4L1603 1420.1L1599 1411.1ZM1549.3 1429.6L1552.4 1420.7L1543.7 1422.5ZM1560.3 1428.9L1569.9 1430.7L1564.2 1422.6ZM1569.3 1429L1572.6 1421.4L1562.9 1420.6ZM1580.1 1430L1583.1 1422.7L1574.2 1422.5ZM1589.4 1428.6L1594.9 1422.4L1583.5 1420ZM1599 1429L1607.5 1428.5L1605.2 1420.9ZM1564.7 1438.8L1569.1 1428.5L1558.1 1429.5ZM1572.9 1438.6L1583.1 1437.9L1579.4 1430ZM1615 1439.6L1623.5 1437.6L1617.6 1431.2ZM1555 1437.6L1545.7 1439.5L1545.9 1439.7L1546 1439.9L1546.3 1440.3L1546.6 1440.9L1547.2 1441.2L1547.7 1441.6L1547.9 1441.7L1549 1442.5L1549.1 1442.7L1550.1 1443.6L1550.2 1443.7L1550.4 1443.9ZM1560.3 1448L1569.5 1446.8L1564.1 1437.7ZM1567.5 1448.4L1573.4 1437.5L1564.3 1438.1ZM1589.3 1445.9L1600.3 1447L1592.4 1439.8ZM1620.3 1446.2L1624 1437.6L1615.2 1438.1ZM1559 1448.3L1554.2 1448L1554.9 1448.6L1555.1 1448.7L1555.8 1449.5L1556 1449.6L1556.3 1450.1L1557.2 1451.2ZM1564.2 1457.3L1570.3 1447.4L1559 1447.3ZM1615 1456.8L1624.4 1455.9L1620 1446.4ZM1597.6 1463.2L1603.9 1456.1L1592.9 1456.3ZM1599.9 1464.1L1608.4 1465.8L1602.9 1457.2ZM1619.3 1464.5L1625 1457L1612.7 1456.1ZM1594 1474.4L1604 1472.6L1600 1464ZM1603.4 1472.3L1612.9 1472.9L1608 1463.1ZM1630.2 1466L1632.7 1472.9L1633.5 1471.3L1633.5 1471.1L1633.5 1471.1L1633.3 1467.8L1633.1 1466.9L1632.3 1466.1L1631.8 1465.6L1631.7 1465.5ZM1588.5 1482L1592.9 1474.3L1584.7 1471.9ZM1608.9 1482.7L1613.1 1472.7L1604.8 1474.3ZM1594.3 1490.6L1589.3 1483L1584.7 1490.3L1584.9 1490.7L1585 1490.9L1585.2 1491.4L1585.3 1491.7ZM1593 1490.7L1604.6 1489.9L1600.3 1482.9ZM1629.8 1481.2L1623.4 1490.5L1633.7 1491.5L1633.8 1491.3L1633.9 1491.1L1634.2 1490.6L1634.2 1490.6ZM1620.2 1497.9L1624.4 1489.4L1614.9 1491.8ZM1597.7 1498.6L1591.3 1498.8L1591.9 1500.1L1593.2 1501.5L1593.7 1502L1593.8 1502.1L1594.2 1502.6L1595.3 1504L1596.2 1504.6ZM1614.2 1509L1605 1509.1L1605.9 1511.1L1606.8 1511.3L1608 1511.3L1609.6 1510.9L1613 1509.8L1613.3 1509.7Z" fill="#fff" fill-opacity="0.03"/>
<g clip-path="url(#c13)" fill="none" stroke-linejoin="round"><use href="#p13" stroke="#29788e" stroke-width="35" stroke-opacity="0.30"/><use href="#p13" stroke="#2c6f8e" stroke-width="30" stroke-opacity="0.50"/><use href="#p13" stroke="#31648d" stroke-width="25" stroke-opacity="0.70"/><use href="#p13" stroke="#38568c" stroke-width="20" stroke-opacity="0.85"/><use href="#p13" stroke="#3f4989" stroke-width="15" stroke-opacity="0.95"/><use href="#p13" stroke="#453a83" stroke-width="10"/><use href="#p13" stroke="#482c7a" stroke-width="5"/></g>
</svg>
</body></html>
